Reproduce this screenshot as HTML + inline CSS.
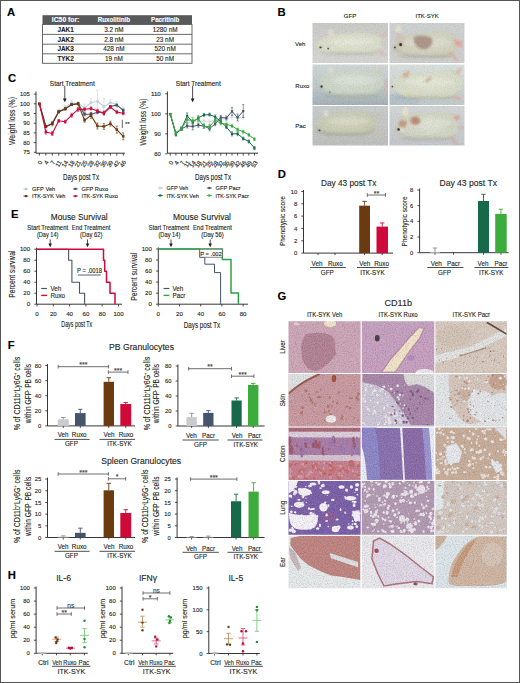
<!DOCTYPE html>
<html><head><meta charset="utf-8"><style>
html,body{margin:0;padding:0;background:#fff;}
svg{display:block;}
text{font-family:"Liberation Sans", sans-serif;stroke-width:0.12px;}
</style></head><body>
<svg width="520" height="683" viewBox="0 0 520 683">
<rect x="0" y="0" width="520" height="683" fill="#fff"/>
<text x="7.00" y="16.32" font-size="11.3" text-anchor="start" fill="#000" stroke="#000" font-weight="bold" >A</text>
<text x="277.60" y="16.17" font-size="11.3" text-anchor="start" fill="#000" stroke="#000" font-weight="bold" >B</text>
<text x="8.00" y="82.12" font-size="11.3" text-anchor="start" fill="#000" stroke="#000" font-weight="bold" >C</text>
<text x="277.70" y="178.32" font-size="11.3" text-anchor="start" fill="#000" stroke="#000" font-weight="bold" >D</text>
<text x="11.00" y="218.47" font-size="11.3" text-anchor="start" fill="#000" stroke="#000" font-weight="bold" >E</text>
<text x="7.80" y="348.87" font-size="11.3" text-anchor="start" fill="#000" stroke="#000" font-weight="bold" >F</text>
<text x="277.50" y="300.07" font-size="11.3" text-anchor="start" fill="#000" stroke="#000" font-weight="bold" >G</text>
<text x="7.80" y="579.47" font-size="11.3" text-anchor="start" fill="#000" stroke="#000" font-weight="bold" >H</text>
<rect x="42.50" y="15.20" width="149.50" height="9.30" fill="#58595b" />
<rect x="42.5" y="24.5" width="149.5" height="38.8" fill="#fff" stroke="#58595b" stroke-width="0.9"/>
<line x1="42.50" y1="34.40" x2="192.00" y2="34.40" stroke="#58595b" stroke-width="0.9" />
<line x1="42.50" y1="44.20" x2="192.00" y2="44.20" stroke="#58595b" stroke-width="0.9" />
<line x1="42.50" y1="53.80" x2="192.00" y2="53.80" stroke="#58595b" stroke-width="0.9" />
<text x="65.60" y="22.34" font-size="6.5" text-anchor="middle" fill="#fff" stroke="#fff" font-weight="bold" textLength="27.5" lengthAdjust="spacingAndGlyphs" >IC50 for:</text>
<text x="113.90" y="22.34" font-size="6.5" text-anchor="middle" fill="#fff" stroke="#fff" font-weight="bold" textLength="32.3" lengthAdjust="spacingAndGlyphs" >Ruxolitinib</text>
<text x="165.10" y="22.34" font-size="6.5" text-anchor="middle" fill="#fff" stroke="#fff" font-weight="bold" textLength="28.2" lengthAdjust="spacingAndGlyphs" >Pacritinib</text>
<text x="65.60" y="31.75" font-size="6.4" text-anchor="middle" fill="#231f20" stroke="#231f20" font-weight="bold" >JAK1</text>
<text x="113.90" y="31.75" font-size="6.4" text-anchor="middle" fill="#231f20" stroke="#231f20" >3.2 nM</text>
<text x="165.10" y="31.75" font-size="6.4" text-anchor="middle" fill="#231f20" stroke="#231f20" >1280 nM</text>
<text x="65.60" y="41.60" font-size="6.4" text-anchor="middle" fill="#231f20" stroke="#231f20" font-weight="bold" >JAK2</text>
<text x="113.90" y="41.60" font-size="6.4" text-anchor="middle" fill="#231f20" stroke="#231f20" >2.8 nM</text>
<text x="165.10" y="41.60" font-size="6.4" text-anchor="middle" fill="#231f20" stroke="#231f20" >23 nM</text>
<text x="65.60" y="51.30" font-size="6.4" text-anchor="middle" fill="#231f20" stroke="#231f20" font-weight="bold" >JAK3</text>
<text x="113.90" y="51.30" font-size="6.4" text-anchor="middle" fill="#231f20" stroke="#231f20" >428 nM</text>
<text x="165.10" y="51.30" font-size="6.4" text-anchor="middle" fill="#231f20" stroke="#231f20" >520 nM</text>
<text x="65.60" y="60.85" font-size="6.4" text-anchor="middle" fill="#231f20" stroke="#231f20" font-weight="bold" >TYK2</text>
<text x="113.90" y="60.85" font-size="6.4" text-anchor="middle" fill="#231f20" stroke="#231f20" >19 nM</text>
<text x="165.10" y="60.85" font-size="6.4" text-anchor="middle" fill="#231f20" stroke="#231f20" >50 nM</text>
<g id="mice">
<defs>
<filter id="mblur" x="-5%" y="-5%" width="110%" height="110%"><feGaussianBlur stdDeviation="6"/><feComponentTransfer><feFuncR type="linear" slope="0.92" intercept="0.1"/><feFuncG type="linear" slope="0.92" intercept="0.1"/><feFuncB type="linear" slope="0.92" intercept="0.1"/></feComponentTransfer></filter>
<linearGradient id="bg00" x1="0" y1="0" x2="0" y2="1"><stop offset="0" stop-color="#c0c0bc"/><stop offset="1" stop-color="#cfcfcb"/></linearGradient>
<linearGradient id="bg01" x1="0" y1="0" x2="0" y2="1"><stop offset="0" stop-color="#c4cac8"/><stop offset="1" stop-color="#c6c6c4"/></linearGradient>
<linearGradient id="bg10" x1="0" y1="0" x2="0" y2="1"><stop offset="0" stop-color="#ccd0d0"/><stop offset="0.5" stop-color="#b4c0c2"/><stop offset="1" stop-color="#8fa0a8"/></linearGradient>
<linearGradient id="bg11" x1="0" y1="0" x2="0" y2="1"><stop offset="0" stop-color="#d4dcd8"/><stop offset="1" stop-color="#b4bec2"/></linearGradient>
<linearGradient id="bg20" x1="0" y1="0" x2="0" y2="1"><stop offset="0" stop-color="#c0c4c4"/><stop offset="1" stop-color="#b0b4b0"/></linearGradient>
<linearGradient id="bg21" x1="0" y1="0" x2="0" y2="1"><stop offset="0" stop-color="#ccd0d0"/><stop offset="1" stop-color="#b8bcc0"/></linearGradient>
<radialGradient id="mb00" cx="0.5" cy="0.45" r="0.62"><stop offset="0" stop-color="#dadcc8"/><stop offset="0.8" stop-color="#d2d6c0"/><stop offset="1" stop-color="#bcc0ac"/></radialGradient>
<radialGradient id="mb01" cx="0.55" cy="0.4" r="0.62"><stop offset="0" stop-color="#d2d1ba"/><stop offset="0.8" stop-color="#c8c8b2"/><stop offset="1" stop-color="#b0b09c"/></radialGradient>
<radialGradient id="mb10" cx="0.5" cy="0.4" r="0.62"><stop offset="0" stop-color="#ccd4c6"/><stop offset="0.8" stop-color="#c2ccbe"/><stop offset="1" stop-color="#a8b4aa"/></radialGradient>
<radialGradient id="mb11" cx="0.5" cy="0.45" r="0.62"><stop offset="0" stop-color="#dadcc6"/><stop offset="0.8" stop-color="#d0d4be"/><stop offset="1" stop-color="#b8bcaa"/></radialGradient>
<radialGradient id="mb20" cx="0.5" cy="0.4" r="0.62"><stop offset="0" stop-color="#c8cbb0"/><stop offset="0.8" stop-color="#bec2a6"/><stop offset="1" stop-color="#a8ac94"/></radialGradient>
<radialGradient id="mb21" cx="0.55" cy="0.45" r="0.62"><stop offset="0" stop-color="#d2d6c2"/><stop offset="0.8" stop-color="#c8ccb8"/><stop offset="1" stop-color="#b0b4a4"/></radialGradient>
</defs>
<clipPath id="mc00"><rect x="312.5" y="23" width="75.5" height="40"/></clipPath>
<g clip-path="url(#mc00)"><g transform="translate(310,20) scale(0.153846)" filter="url(#mblur)">
<rect x="0" y="0" width="520" height="299" fill="url(#bg00)"/>
<path d="M30,175 C50,140 90,110 140,98 L300,85 L420,85 C455,95 470,130 468,160 C465,195 440,215 400,220 L300,225 L180,225 C120,220 70,205 30,175 Z" fill="url(#mb00)" />
<ellipse cx="272" cy="141" rx="149" ry="24" fill="#ffffff" opacity="0.18"/>
<ellipse cx="252" cy="217" rx="181" ry="11" fill="#7a7e6c" opacity="0.25"/>
<ellipse cx="135" cy="82" rx="16" ry="19" fill="#e6e2da" />
<ellipse cx="135" cy="84" rx="8" ry="11" fill="#dcc4bc" />
<path d="M450,100 L495,80 L500,95 L460,115 Z" fill="#d9aaa5" />
<path d="M450,190 L490,225 L478,235 L440,200 Z" fill="#d9aaa5" />
<path d="M460,140 L505,150 L505,160 L460,158 Z" fill="#c8c2c2" />
<ellipse cx="68" cy="178" rx="5" ry="4" fill="#222" />
<ellipse cx="120" cy="185" rx="6" ry="4" fill="#555" />
</g>
<rect x="312.5" y="23" width="75.5" height="40" filter="url(#hnoise)" opacity="0.08"/>
<rect x="312.5" y="23" width="75.5" height="40" filter="url(#hnoise2)" opacity="0.10"/>
<g transform="translate(310,20) scale(0.153846)">
<ellipse cx="68" cy="178" rx="7" ry="6" fill="#2a2420" opacity="0.85"/>
<ellipse cx="118" cy="186" rx="6" ry="5" fill="#4a4038" opacity="0.85"/>
</g></g>
<clipPath id="mc01"><rect x="389.5" y="23" width="75.0" height="40"/></clipPath>
<g clip-path="url(#mc01)"><g transform="translate(386,20) scale(0.153846)" filter="url(#mblur)">
<rect x="0" y="0" width="520" height="299" fill="url(#bg01)"/>
<path d="M40,190 C60,140 100,100 160,95 L300,80 L420,85 C460,100 475,140 470,170 C460,220 420,240 360,245 L200,240 C130,235 70,215 40,190 Z" fill="url(#mb01)" />
<ellipse cx="275" cy="146" rx="150" ry="29" fill="#ffffff" opacity="0.18"/>
<ellipse cx="255" cy="237" rx="183" ry="13" fill="#7a7e6c" opacity="0.25"/>
<path d="M180,110 C220,95 280,100 300,120 C310,150 290,180 260,190 C220,195 190,170 180,140 Z" fill="#a08272" />
<ellipse cx="90" cy="120" rx="30" ry="40" fill="#c8bcae" />
<path d="M62,75 C60,50 72,30 85,28 C95,40 98,60 95,85 Z" fill="#e4dac6" />
<ellipse cx="95" cy="160" rx="9" ry="10" fill="#3b2a22" />
<ellipse cx="60" cy="178" rx="6" ry="5" fill="#222" />
<path d="M440,120 L495,140 L500,175 L450,170 Z" fill="#d89c92" />
<path d="M420,200 L470,260 L455,270 L410,215 Z" fill="#d0a090" />
</g>
<rect x="389.5" y="23" width="75.0" height="40" filter="url(#hnoise)" opacity="0.08"/>
<rect x="389.5" y="23" width="75.0" height="40" filter="url(#hnoise2)" opacity="0.10"/>
<g transform="translate(386,20) scale(0.153846)">
<ellipse cx="95" cy="160" rx="9" ry="10" fill="#2a1e18" opacity="0.85"/>
<ellipse cx="58" cy="178" rx="6" ry="5" fill="#3a2a22" opacity="0.85"/>
</g></g>
<clipPath id="mc10"><rect x="312.5" y="64.5" width="75.5" height="40.5"/></clipPath>
<g clip-path="url(#mc10)"><g transform="translate(310,62) scale(0.153846)" filter="url(#mblur)">
<rect x="0" y="0" width="520" height="299" fill="url(#bg10)"/>
<path d="M60,170 C60,110 100,60 140,55 L300,55 L440,50 C475,60 485,120 480,170 C470,205 440,225 380,228 L200,225 C120,222 70,205 60,170 Z" fill="url(#mb10)" />
<ellipse cx="290" cy="121" rx="147" ry="31" fill="#ffffff" opacity="0.18"/>
<ellipse cx="270" cy="220" rx="178" ry="14" fill="#7a7e6c" opacity="0.25"/>
<ellipse cx="430" cy="50" rx="20" ry="12" fill="#d4ccb8" />
<ellipse cx="135" cy="55" rx="16" ry="18" fill="#e2e0d8" />
<ellipse cx="135" cy="57" rx="8" ry="10" fill="#d8c4bc" />
<ellipse cx="75" cy="160" rx="7" ry="6" fill="#222" />
<ellipse cx="130" cy="195" rx="5" ry="4" fill="#444" />
<path d="M480,110 L505,120 L505,210 L480,215 Z" fill="#c2b0b0" />
</g>
<rect x="312.5" y="64.5" width="75.5" height="40.5" filter="url(#hnoise)" opacity="0.08"/>
<rect x="312.5" y="64.5" width="75.5" height="40.5" filter="url(#hnoise2)" opacity="0.10"/>
<g transform="translate(310,62) scale(0.153846)">
<ellipse cx="75" cy="160" rx="8" ry="7" fill="#2a2420" opacity="0.85"/>
<ellipse cx="128" cy="195" rx="5" ry="4" fill="#4a4038" opacity="0.85"/>
</g></g>
<clipPath id="mc11"><rect x="389.5" y="64.5" width="75.0" height="40.5"/></clipPath>
<g clip-path="url(#mc11)"><g transform="translate(386,62) scale(0.153846)" filter="url(#mblur)">
<rect x="0" y="0" width="520" height="299" fill="url(#bg11)"/>
<ellipse cx="90" cy="255" rx="130" ry="50" fill="#a8b8c0" />
<path d="M30,155 C40,110 90,80 150,75 L300,60 L440,55 C480,70 495,110 495,150 C490,200 460,235 400,240 L200,235 C120,230 50,200 30,155 Z" fill="url(#mb11)" />
<ellipse cx="282" cy="128" rx="163" ry="32" fill="#ffffff" opacity="0.18"/>
<ellipse cx="262" cy="232" rx="198" ry="14" fill="#7a7e6c" opacity="0.25"/>
<path d="M105,100 L115,70 L140,55 L155,65 L140,100 Z" fill="#c8a888" />
<path d="M250,120 L290,95 L300,110 L265,135 Z" fill="#c0a888" />
<path d="M450,70 L480,35 L495,45 L470,85 Z" fill="#d8b0a0" />
<path d="M450,215 L490,235 L480,250 L440,230 Z" fill="#d8a090" />
<ellipse cx="40" cy="160" rx="5" ry="4" fill="#444" />
<ellipse cx="150" cy="220" rx="20" ry="12" fill="#c8c498" />
</g>
<rect x="389.5" y="64.5" width="75.0" height="40.5" filter="url(#hnoise)" opacity="0.08"/>
<rect x="389.5" y="64.5" width="75.0" height="40.5" filter="url(#hnoise2)" opacity="0.10"/>
<g transform="translate(386,62) scale(0.153846)">
<ellipse cx="42" cy="160" rx="6" ry="5" fill="#3a3430" opacity="0.85"/>
</g></g>
<clipPath id="mc20"><rect x="312.5" y="106" width="75.5" height="39.5"/></clipPath>
<g clip-path="url(#mc20)"><g transform="translate(310,103) scale(0.153846)" filter="url(#mblur)">
<rect x="0" y="0" width="520" height="299" fill="url(#bg20)"/>
<path d="M40,175 C50,120 80,80 120,70 L300,62 L400,70 C425,90 430,150 420,180 C400,200 360,208 300,210 L160,210 C100,205 50,195 40,175 Z" fill="url(#mb20)" />
<ellipse cx="252" cy="118" rx="135" ry="27" fill="#ffffff" opacity="0.18"/>
<ellipse cx="232" cy="202" rx="164" ry="12" fill="#7a7e6c" opacity="0.25"/>
<ellipse cx="104" cy="66" rx="14" ry="20" fill="#dedad0" />
<path d="M420,80 L460,65 L465,80 L425,100 Z" fill="#c8b8a8" />
<path d="M420,130 L500,130 L500,145 L420,145 Z" fill="#c9c0b8" />
<path d="M420,175 L460,210 L448,220 L410,190 Z" fill="#c8b4a4" />
<ellipse cx="60" cy="178" rx="6" ry="5" fill="#444" />
</g>
<rect x="312.5" y="106" width="75.5" height="39.5" filter="url(#hnoise)" opacity="0.08"/>
<rect x="312.5" y="106" width="75.5" height="39.5" filter="url(#hnoise2)" opacity="0.10"/>
<g transform="translate(310,103) scale(0.153846)">
<ellipse cx="62" cy="178" rx="6" ry="5" fill="#3a3430" opacity="0.85"/>
</g></g>
<clipPath id="mc21"><rect x="389.5" y="106" width="75.0" height="39.5"/></clipPath>
<g clip-path="url(#mc21)"><g transform="translate(386,103) scale(0.153846)" filter="url(#mblur)">
<rect x="0" y="0" width="520" height="299" fill="url(#bg21)"/>
<path d="M60,170 C70,110 100,70 150,65 L300,62 L420,65 C455,80 470,130 465,170 C455,215 420,240 360,240 L200,238 C120,230 70,210 60,170 Z" fill="url(#mb21)" />
<ellipse cx="282" cy="130" rx="142" ry="32" fill="#ffffff" opacity="0.18"/>
<ellipse cx="262" cy="232" rx="172" ry="14" fill="#7a7e6c" opacity="0.25"/>
<ellipse cx="110" cy="135" rx="28" ry="25" fill="#b88a68" />
<ellipse cx="190" cy="115" rx="38" ry="28" fill="#bc9070" />
<ellipse cx="150" cy="150" rx="20" ry="14" fill="#d6d2c2" />
<ellipse cx="100" cy="175" rx="18" ry="14" fill="#d8d6c8" />
<path d="M105,80 C100,50 110,28 128,22 C145,35 150,60 145,85 Z" fill="#e4dcc4" />
<path d="M170,95 L200,88 L212,135 L178,138 Z" fill="#a87050" />
<path d="M250,170 L330,130 L335,140 L255,180 Z" fill="#d8dcd0" />
<path d="M260,200 L340,160 L345,170 L265,210 Z" fill="#d8dcd0" />
<ellipse cx="80" cy="170" rx="6" ry="6" fill="#3a2a22" />
<ellipse cx="460" cy="95" rx="22" ry="15" fill="#cf9a85" />
<path d="M430,210 L465,265 L450,272 L415,225 Z" fill="#c8a090" />
<path d="M465,150 L505,150 L505,170 L465,172 Z" fill="#c8b0a8" />
</g>
<rect x="389.5" y="106" width="75.0" height="39.5" filter="url(#hnoise)" opacity="0.08"/>
<rect x="389.5" y="106" width="75.0" height="39.5" filter="url(#hnoise2)" opacity="0.10"/>
<g transform="translate(386,103) scale(0.153846)">
<ellipse cx="82" cy="172" rx="8" ry="8" fill="#2a2018" opacity="0.85"/>
</g></g>
</g>
<text x="350.00" y="18.46" font-size="6" text-anchor="middle" fill="#231f20" stroke="#231f20" >GFP</text>
<text x="427.20" y="18.46" font-size="6" text-anchor="middle" fill="#231f20" stroke="#231f20" >ITK-SYK</text>
<text x="295.00" y="45.86" font-size="6" text-anchor="start" fill="#231f20" stroke="#231f20" >Veh</text>
<text x="295.30" y="87.76" font-size="6" text-anchor="start" fill="#231f20" stroke="#231f20" >Ruxo</text>
<text x="295.30" y="128.16" font-size="6" text-anchor="start" fill="#231f20" stroke="#231f20" >Pac</text>
<line x1="36.00" y1="91.50" x2="36.00" y2="153.20" stroke="#231f20" stroke-width="0.9" />
<line x1="36.00" y1="153.20" x2="125.00" y2="153.20" stroke="#231f20" stroke-width="0.9" />
<line x1="33.80" y1="152.30" x2="36.00" y2="152.30" stroke="#231f20" stroke-width="0.8" />
<text x="29.90" y="154.42" font-size="5.9" text-anchor="end" fill="#231f20" stroke="#231f20" textLength="6.54" lengthAdjust="spacingAndGlyphs" >75</text>
<line x1="33.80" y1="142.60" x2="36.00" y2="142.60" stroke="#231f20" stroke-width="0.8" />
<text x="29.90" y="144.72" font-size="5.9" text-anchor="end" fill="#231f20" stroke="#231f20" textLength="6.54" lengthAdjust="spacingAndGlyphs" >80</text>
<line x1="33.80" y1="132.90" x2="36.00" y2="132.90" stroke="#231f20" stroke-width="0.8" />
<text x="29.90" y="135.02" font-size="5.9" text-anchor="end" fill="#231f20" stroke="#231f20" textLength="6.54" lengthAdjust="spacingAndGlyphs" >85</text>
<line x1="33.80" y1="123.20" x2="36.00" y2="123.20" stroke="#231f20" stroke-width="0.8" />
<text x="29.90" y="125.32" font-size="5.9" text-anchor="end" fill="#231f20" stroke="#231f20" textLength="6.54" lengthAdjust="spacingAndGlyphs" >90</text>
<line x1="33.80" y1="113.50" x2="36.00" y2="113.50" stroke="#231f20" stroke-width="0.8" />
<text x="29.90" y="115.62" font-size="5.9" text-anchor="end" fill="#231f20" stroke="#231f20" textLength="6.54" lengthAdjust="spacingAndGlyphs" >95</text>
<line x1="33.80" y1="103.80" x2="36.00" y2="103.80" stroke="#231f20" stroke-width="0.8" />
<text x="29.90" y="105.92" font-size="5.9" text-anchor="end" fill="#231f20" stroke="#231f20" textLength="9.81" lengthAdjust="spacingAndGlyphs" >100</text>
<line x1="33.80" y1="94.10" x2="36.00" y2="94.10" stroke="#231f20" stroke-width="0.8" />
<text x="29.90" y="96.22" font-size="5.9" text-anchor="end" fill="#231f20" stroke="#231f20" textLength="9.81" lengthAdjust="spacingAndGlyphs" >105</text>
<line x1="39.40" y1="153.20" x2="39.40" y2="155.60" stroke="#231f20" stroke-width="0.8" />
<line x1="45.85" y1="153.20" x2="45.85" y2="155.60" stroke="#231f20" stroke-width="0.8" />
<line x1="52.30" y1="153.20" x2="52.30" y2="155.60" stroke="#231f20" stroke-width="0.8" />
<line x1="58.75" y1="153.20" x2="58.75" y2="155.60" stroke="#231f20" stroke-width="0.8" />
<line x1="65.20" y1="153.20" x2="65.20" y2="155.60" stroke="#231f20" stroke-width="0.8" />
<line x1="71.65" y1="153.20" x2="71.65" y2="155.60" stroke="#231f20" stroke-width="0.8" />
<line x1="78.10" y1="153.20" x2="78.10" y2="155.60" stroke="#231f20" stroke-width="0.8" />
<line x1="84.55" y1="153.20" x2="84.55" y2="155.60" stroke="#231f20" stroke-width="0.8" />
<line x1="91.00" y1="153.20" x2="91.00" y2="155.60" stroke="#231f20" stroke-width="0.8" />
<line x1="97.45" y1="153.20" x2="97.45" y2="155.60" stroke="#231f20" stroke-width="0.8" />
<line x1="103.90" y1="153.20" x2="103.90" y2="155.60" stroke="#231f20" stroke-width="0.8" />
<line x1="110.35" y1="153.20" x2="110.35" y2="155.60" stroke="#231f20" stroke-width="0.8" />
<line x1="116.80" y1="153.20" x2="116.80" y2="155.60" stroke="#231f20" stroke-width="0.8" />
<line x1="123.25" y1="153.20" x2="123.25" y2="155.60" stroke="#231f20" stroke-width="0.8" />
<text transform="translate(40.70,160.9) rotate(-60)" x="0" y="2.2" font-size="6.1" text-anchor="end" fill="#231f20" stroke="#231f20">0</text>
<text transform="translate(47.15,160.9) rotate(-60)" x="0" y="2.2" font-size="6.1" text-anchor="end" fill="#231f20" stroke="#231f20">4</text>
<text transform="translate(53.60,160.9) rotate(-60)" x="0" y="2.2" font-size="6.1" text-anchor="end" fill="#231f20" stroke="#231f20">7</text>
<text transform="translate(60.05,160.9) rotate(-60)" x="0" y="2.2" font-size="6.1" text-anchor="end" fill="#231f20" stroke="#231f20">11</text>
<text transform="translate(66.50,160.9) rotate(-60)" x="0" y="2.2" font-size="6.1" text-anchor="end" fill="#231f20" stroke="#231f20">14</text>
<text transform="translate(72.95,160.9) rotate(-60)" x="0" y="2.2" font-size="6.1" text-anchor="end" fill="#231f20" stroke="#231f20">18</text>
<text transform="translate(79.40,160.9) rotate(-60)" x="0" y="2.2" font-size="6.1" text-anchor="end" fill="#231f20" stroke="#231f20">21</text>
<text transform="translate(85.85,160.9) rotate(-60)" x="0" y="2.2" font-size="6.1" text-anchor="end" fill="#231f20" stroke="#231f20">25</text>
<text transform="translate(92.30,160.9) rotate(-60)" x="0" y="2.2" font-size="6.1" text-anchor="end" fill="#231f20" stroke="#231f20">28</text>
<text transform="translate(98.75,160.9) rotate(-60)" x="0" y="2.2" font-size="6.1" text-anchor="end" fill="#231f20" stroke="#231f20">32</text>
<text transform="translate(105.20,160.9) rotate(-60)" x="0" y="2.2" font-size="6.1" text-anchor="end" fill="#231f20" stroke="#231f20">35</text>
<text transform="translate(111.65,160.9) rotate(-60)" x="0" y="2.2" font-size="6.1" text-anchor="end" fill="#231f20" stroke="#231f20">39</text>
<text transform="translate(118.10,160.9) rotate(-60)" x="0" y="2.2" font-size="6.1" text-anchor="end" fill="#231f20" stroke="#231f20">42</text>
<text transform="translate(124.55,160.9) rotate(-60)" x="0" y="2.2" font-size="6.1" text-anchor="end" fill="#231f20" stroke="#231f20">46</text>
<text transform="translate(11.60,121.00) rotate(-90)" x="0" y="2.95" font-size="8.2" text-anchor="middle" fill="#231f20" stroke="#231f20" textLength="48" lengthAdjust="spacingAndGlyphs" >Weight loss (%)</text>
<text x="81.00" y="180.15" font-size="8.2" text-anchor="middle" fill="#231f20" stroke="#231f20" textLength="36" lengthAdjust="spacingAndGlyphs" >Days post Tx</text>
<text x="72.30" y="85.50" font-size="6.4" text-anchor="middle" fill="#231f20" stroke="#231f20" textLength="45" lengthAdjust="spacingAndGlyphs" >Start Treatment</text>
<line x1="64.80" y1="85.80" x2="64.80" y2="101.00" stroke="#231f20" stroke-width="0.8" />
<path d="M62.9,98.6 L64.8,102.3 L66.7,98.6 Z" fill="#231f20"/>
<line x1="45.85" y1="124.50" x2="45.85" y2="127.50" stroke="#c3d0da" stroke-width="0.6" />
<line x1="44.75" y1="124.50" x2="46.95" y2="124.50" stroke="#c3d0da" stroke-width="0.6" />
<line x1="44.75" y1="127.50" x2="46.95" y2="127.50" stroke="#c3d0da" stroke-width="0.6" />
<line x1="52.30" y1="121.00" x2="52.30" y2="124.00" stroke="#c3d0da" stroke-width="0.6" />
<line x1="51.20" y1="121.00" x2="53.40" y2="121.00" stroke="#c3d0da" stroke-width="0.6" />
<line x1="51.20" y1="124.00" x2="53.40" y2="124.00" stroke="#c3d0da" stroke-width="0.6" />
<line x1="58.75" y1="109.50" x2="58.75" y2="112.50" stroke="#c3d0da" stroke-width="0.6" />
<line x1="57.65" y1="109.50" x2="59.85" y2="109.50" stroke="#c3d0da" stroke-width="0.6" />
<line x1="57.65" y1="112.50" x2="59.85" y2="112.50" stroke="#c3d0da" stroke-width="0.6" />
<line x1="65.20" y1="105.50" x2="65.20" y2="109.50" stroke="#c3d0da" stroke-width="0.6" />
<line x1="64.10" y1="105.50" x2="66.30" y2="105.50" stroke="#c3d0da" stroke-width="0.6" />
<line x1="64.10" y1="109.50" x2="66.30" y2="109.50" stroke="#c3d0da" stroke-width="0.6" />
<line x1="71.65" y1="100.20" x2="71.65" y2="105.20" stroke="#c3d0da" stroke-width="0.6" />
<line x1="70.55" y1="100.20" x2="72.75" y2="100.20" stroke="#c3d0da" stroke-width="0.6" />
<line x1="70.55" y1="105.20" x2="72.75" y2="105.20" stroke="#c3d0da" stroke-width="0.6" />
<line x1="78.10" y1="101.50" x2="78.10" y2="105.50" stroke="#c3d0da" stroke-width="0.6" />
<line x1="77.00" y1="101.50" x2="79.20" y2="101.50" stroke="#c3d0da" stroke-width="0.6" />
<line x1="77.00" y1="105.50" x2="79.20" y2="105.50" stroke="#c3d0da" stroke-width="0.6" />
<line x1="84.55" y1="104.00" x2="84.55" y2="112.00" stroke="#c3d0da" stroke-width="0.6" />
<line x1="83.45" y1="104.00" x2="85.65" y2="104.00" stroke="#c3d0da" stroke-width="0.6" />
<line x1="83.45" y1="112.00" x2="85.65" y2="112.00" stroke="#c3d0da" stroke-width="0.6" />
<line x1="91.00" y1="98.70" x2="91.00" y2="106.70" stroke="#c3d0da" stroke-width="0.6" />
<line x1="89.90" y1="98.70" x2="92.10" y2="98.70" stroke="#c3d0da" stroke-width="0.6" />
<line x1="89.90" y1="106.70" x2="92.10" y2="106.70" stroke="#c3d0da" stroke-width="0.6" />
<line x1="97.45" y1="90.30" x2="97.45" y2="112.30" stroke="#c3d0da" stroke-width="0.6" />
<line x1="96.35" y1="90.30" x2="98.55" y2="90.30" stroke="#c3d0da" stroke-width="0.6" />
<line x1="96.35" y1="112.30" x2="98.55" y2="112.30" stroke="#c3d0da" stroke-width="0.6" />
<line x1="103.90" y1="98.50" x2="103.90" y2="114.50" stroke="#c3d0da" stroke-width="0.6" />
<line x1="102.80" y1="98.50" x2="105.00" y2="98.50" stroke="#c3d0da" stroke-width="0.6" />
<line x1="102.80" y1="114.50" x2="105.00" y2="114.50" stroke="#c3d0da" stroke-width="0.6" />
<line x1="110.35" y1="99.70" x2="110.35" y2="105.70" stroke="#c3d0da" stroke-width="0.6" />
<line x1="109.25" y1="99.70" x2="111.45" y2="99.70" stroke="#c3d0da" stroke-width="0.6" />
<line x1="109.25" y1="105.70" x2="111.45" y2="105.70" stroke="#c3d0da" stroke-width="0.6" />
<line x1="116.80" y1="101.60" x2="116.80" y2="107.60" stroke="#c3d0da" stroke-width="0.6" />
<line x1="115.70" y1="101.60" x2="117.90" y2="101.60" stroke="#c3d0da" stroke-width="0.6" />
<line x1="115.70" y1="107.60" x2="117.90" y2="107.60" stroke="#c3d0da" stroke-width="0.6" />
<line x1="123.25" y1="106.90" x2="123.25" y2="112.90" stroke="#c3d0da" stroke-width="0.6" />
<line x1="122.15" y1="106.90" x2="124.35" y2="106.90" stroke="#c3d0da" stroke-width="0.6" />
<line x1="122.15" y1="112.90" x2="124.35" y2="112.90" stroke="#c3d0da" stroke-width="0.6" />
<polyline points="39.40,103.90 45.85,126.00 52.30,122.50 58.75,111.00 65.20,107.50 71.65,102.70 78.10,103.50 84.55,108.00 91.00,102.70 97.45,101.30 103.90,106.50 110.35,102.70 116.80,104.60 123.25,109.90" stroke="#c3d0da" stroke-width="1.1" fill="none" stroke-linejoin="round" />
<rect x="38.15" y="102.65" width="2.50" height="2.50" fill="#c3d0da" />
<rect x="44.60" y="124.75" width="2.50" height="2.50" fill="#c3d0da" />
<rect x="51.05" y="121.25" width="2.50" height="2.50" fill="#c3d0da" />
<rect x="57.50" y="109.75" width="2.50" height="2.50" fill="#c3d0da" />
<rect x="63.95" y="106.25" width="2.50" height="2.50" fill="#c3d0da" />
<rect x="70.40" y="101.45" width="2.50" height="2.50" fill="#c3d0da" />
<rect x="76.85" y="102.25" width="2.50" height="2.50" fill="#c3d0da" />
<rect x="83.30" y="106.75" width="2.50" height="2.50" fill="#c3d0da" />
<rect x="89.75" y="101.45" width="2.50" height="2.50" fill="#c3d0da" />
<rect x="96.20" y="100.05" width="2.50" height="2.50" fill="#c3d0da" />
<rect x="102.65" y="105.25" width="2.50" height="2.50" fill="#c3d0da" />
<rect x="109.10" y="101.45" width="2.50" height="2.50" fill="#c3d0da" />
<rect x="115.55" y="103.35" width="2.50" height="2.50" fill="#c3d0da" />
<rect x="122.00" y="108.65" width="2.50" height="2.50" fill="#c3d0da" />
<line x1="45.85" y1="125.70" x2="45.85" y2="127.70" stroke="#44546b" stroke-width="0.6" />
<line x1="44.75" y1="125.70" x2="46.95" y2="125.70" stroke="#44546b" stroke-width="0.6" />
<line x1="44.75" y1="127.70" x2="46.95" y2="127.70" stroke="#44546b" stroke-width="0.6" />
<line x1="52.30" y1="122.50" x2="52.30" y2="124.50" stroke="#44546b" stroke-width="0.6" />
<line x1="51.20" y1="122.50" x2="53.40" y2="122.50" stroke="#44546b" stroke-width="0.6" />
<line x1="51.20" y1="124.50" x2="53.40" y2="124.50" stroke="#44546b" stroke-width="0.6" />
<line x1="58.75" y1="110.80" x2="58.75" y2="112.80" stroke="#44546b" stroke-width="0.6" />
<line x1="57.65" y1="110.80" x2="59.85" y2="110.80" stroke="#44546b" stroke-width="0.6" />
<line x1="57.65" y1="112.80" x2="59.85" y2="112.80" stroke="#44546b" stroke-width="0.6" />
<line x1="65.20" y1="107.90" x2="65.20" y2="109.90" stroke="#44546b" stroke-width="0.6" />
<line x1="64.10" y1="107.90" x2="66.30" y2="107.90" stroke="#44546b" stroke-width="0.6" />
<line x1="64.10" y1="109.90" x2="66.30" y2="109.90" stroke="#44546b" stroke-width="0.6" />
<line x1="71.65" y1="103.60" x2="71.65" y2="105.60" stroke="#44546b" stroke-width="0.6" />
<line x1="70.55" y1="103.60" x2="72.75" y2="103.60" stroke="#44546b" stroke-width="0.6" />
<line x1="70.55" y1="105.60" x2="72.75" y2="105.60" stroke="#44546b" stroke-width="0.6" />
<line x1="78.10" y1="102.70" x2="78.10" y2="104.70" stroke="#44546b" stroke-width="0.6" />
<line x1="77.00" y1="102.70" x2="79.20" y2="102.70" stroke="#44546b" stroke-width="0.6" />
<line x1="77.00" y1="104.70" x2="79.20" y2="104.70" stroke="#44546b" stroke-width="0.6" />
<line x1="84.55" y1="112.70" x2="84.55" y2="115.70" stroke="#44546b" stroke-width="0.6" />
<line x1="83.45" y1="112.70" x2="85.65" y2="112.70" stroke="#44546b" stroke-width="0.6" />
<line x1="83.45" y1="115.70" x2="85.65" y2="115.70" stroke="#44546b" stroke-width="0.6" />
<line x1="91.00" y1="112.70" x2="91.00" y2="115.70" stroke="#44546b" stroke-width="0.6" />
<line x1="89.90" y1="112.70" x2="92.10" y2="112.70" stroke="#44546b" stroke-width="0.6" />
<line x1="89.90" y1="115.70" x2="92.10" y2="115.70" stroke="#44546b" stroke-width="0.6" />
<line x1="97.45" y1="110.80" x2="97.45" y2="113.80" stroke="#44546b" stroke-width="0.6" />
<line x1="96.35" y1="110.80" x2="98.55" y2="110.80" stroke="#44546b" stroke-width="0.6" />
<line x1="96.35" y1="113.80" x2="98.55" y2="113.80" stroke="#44546b" stroke-width="0.6" />
<line x1="103.90" y1="111.50" x2="103.90" y2="114.50" stroke="#44546b" stroke-width="0.6" />
<line x1="102.80" y1="111.50" x2="105.00" y2="111.50" stroke="#44546b" stroke-width="0.6" />
<line x1="102.80" y1="114.50" x2="105.00" y2="114.50" stroke="#44546b" stroke-width="0.6" />
<line x1="110.35" y1="105.50" x2="110.35" y2="107.50" stroke="#44546b" stroke-width="0.6" />
<line x1="109.25" y1="105.50" x2="111.45" y2="105.50" stroke="#44546b" stroke-width="0.6" />
<line x1="109.25" y1="107.50" x2="111.45" y2="107.50" stroke="#44546b" stroke-width="0.6" />
<line x1="116.80" y1="104.10" x2="116.80" y2="106.10" stroke="#44546b" stroke-width="0.6" />
<line x1="115.70" y1="104.10" x2="117.90" y2="104.10" stroke="#44546b" stroke-width="0.6" />
<line x1="115.70" y1="106.10" x2="117.90" y2="106.10" stroke="#44546b" stroke-width="0.6" />
<line x1="123.25" y1="108.90" x2="123.25" y2="111.90" stroke="#44546b" stroke-width="0.6" />
<line x1="122.15" y1="108.90" x2="124.35" y2="108.90" stroke="#44546b" stroke-width="0.6" />
<line x1="122.15" y1="111.90" x2="124.35" y2="111.90" stroke="#44546b" stroke-width="0.6" />
<polyline points="39.40,103.90 45.85,126.70 52.30,123.50 58.75,111.80 65.20,108.90 71.65,104.60 78.10,103.70 84.55,114.20 91.00,114.20 97.45,112.30 103.90,113.00 110.35,106.50 116.80,105.10 123.25,110.40" stroke="#44546b" stroke-width="1.1" fill="none" stroke-linejoin="round" />
<rect x="38.15" y="102.65" width="2.50" height="2.50" fill="#44546b" />
<rect x="44.60" y="125.45" width="2.50" height="2.50" fill="#44546b" />
<rect x="51.05" y="122.25" width="2.50" height="2.50" fill="#44546b" />
<rect x="57.50" y="110.55" width="2.50" height="2.50" fill="#44546b" />
<rect x="63.95" y="107.65" width="2.50" height="2.50" fill="#44546b" />
<rect x="70.40" y="103.35" width="2.50" height="2.50" fill="#44546b" />
<rect x="76.85" y="102.45" width="2.50" height="2.50" fill="#44546b" />
<rect x="83.30" y="112.95" width="2.50" height="2.50" fill="#44546b" />
<rect x="89.75" y="112.95" width="2.50" height="2.50" fill="#44546b" />
<rect x="96.20" y="111.05" width="2.50" height="2.50" fill="#44546b" />
<rect x="102.65" y="111.75" width="2.50" height="2.50" fill="#44546b" />
<rect x="109.10" y="105.25" width="2.50" height="2.50" fill="#44546b" />
<rect x="115.55" y="103.85" width="2.50" height="2.50" fill="#44546b" />
<rect x="122.00" y="109.15" width="2.50" height="2.50" fill="#44546b" />
<line x1="45.85" y1="125.70" x2="45.85" y2="127.70" stroke="#6a3b10" stroke-width="0.6" />
<line x1="44.75" y1="125.70" x2="46.95" y2="125.70" stroke="#6a3b10" stroke-width="0.6" />
<line x1="44.75" y1="127.70" x2="46.95" y2="127.70" stroke="#6a3b10" stroke-width="0.6" />
<line x1="52.30" y1="121.80" x2="52.30" y2="125.80" stroke="#6a3b10" stroke-width="0.6" />
<line x1="51.20" y1="121.80" x2="53.40" y2="121.80" stroke="#6a3b10" stroke-width="0.6" />
<line x1="51.20" y1="125.80" x2="53.40" y2="125.80" stroke="#6a3b10" stroke-width="0.6" />
<line x1="58.75" y1="110.80" x2="58.75" y2="112.80" stroke="#6a3b10" stroke-width="0.6" />
<line x1="57.65" y1="110.80" x2="59.85" y2="110.80" stroke="#6a3b10" stroke-width="0.6" />
<line x1="57.65" y1="112.80" x2="59.85" y2="112.80" stroke="#6a3b10" stroke-width="0.6" />
<line x1="65.20" y1="107.90" x2="65.20" y2="109.90" stroke="#6a3b10" stroke-width="0.6" />
<line x1="64.10" y1="107.90" x2="66.30" y2="107.90" stroke="#6a3b10" stroke-width="0.6" />
<line x1="64.10" y1="109.90" x2="66.30" y2="109.90" stroke="#6a3b10" stroke-width="0.6" />
<line x1="71.65" y1="103.60" x2="71.65" y2="105.60" stroke="#6a3b10" stroke-width="0.6" />
<line x1="70.55" y1="103.60" x2="72.75" y2="103.60" stroke="#6a3b10" stroke-width="0.6" />
<line x1="70.55" y1="105.60" x2="72.75" y2="105.60" stroke="#6a3b10" stroke-width="0.6" />
<line x1="78.10" y1="102.70" x2="78.10" y2="104.70" stroke="#6a3b10" stroke-width="0.6" />
<line x1="77.00" y1="102.70" x2="79.20" y2="102.70" stroke="#6a3b10" stroke-width="0.6" />
<line x1="77.00" y1="104.70" x2="79.20" y2="104.70" stroke="#6a3b10" stroke-width="0.6" />
<line x1="84.55" y1="118.20" x2="84.55" y2="122.20" stroke="#6a3b10" stroke-width="0.6" />
<line x1="83.45" y1="118.20" x2="85.65" y2="118.20" stroke="#6a3b10" stroke-width="0.6" />
<line x1="83.45" y1="122.20" x2="85.65" y2="122.20" stroke="#6a3b10" stroke-width="0.6" />
<line x1="91.00" y1="112.40" x2="91.00" y2="118.40" stroke="#6a3b10" stroke-width="0.6" />
<line x1="89.90" y1="112.40" x2="92.10" y2="112.40" stroke="#6a3b10" stroke-width="0.6" />
<line x1="89.90" y1="118.40" x2="92.10" y2="118.40" stroke="#6a3b10" stroke-width="0.6" />
<line x1="97.45" y1="123.00" x2="97.45" y2="129.00" stroke="#6a3b10" stroke-width="0.6" />
<line x1="96.35" y1="123.00" x2="98.55" y2="123.00" stroke="#6a3b10" stroke-width="0.6" />
<line x1="96.35" y1="129.00" x2="98.55" y2="129.00" stroke="#6a3b10" stroke-width="0.6" />
<line x1="103.90" y1="123.40" x2="103.90" y2="129.40" stroke="#6a3b10" stroke-width="0.6" />
<line x1="102.80" y1="123.40" x2="105.00" y2="123.40" stroke="#6a3b10" stroke-width="0.6" />
<line x1="102.80" y1="129.40" x2="105.00" y2="129.40" stroke="#6a3b10" stroke-width="0.6" />
<line x1="110.35" y1="121.20" x2="110.35" y2="126.20" stroke="#6a3b10" stroke-width="0.6" />
<line x1="109.25" y1="121.20" x2="111.45" y2="121.20" stroke="#6a3b10" stroke-width="0.6" />
<line x1="109.25" y1="126.20" x2="111.45" y2="126.20" stroke="#6a3b10" stroke-width="0.6" />
<line x1="116.80" y1="126.10" x2="116.80" y2="133.10" stroke="#6a3b10" stroke-width="0.6" />
<line x1="115.70" y1="126.10" x2="117.90" y2="126.10" stroke="#6a3b10" stroke-width="0.6" />
<line x1="115.70" y1="133.10" x2="117.90" y2="133.10" stroke="#6a3b10" stroke-width="0.6" />
<line x1="123.25" y1="132.80" x2="123.25" y2="139.80" stroke="#6a3b10" stroke-width="0.6" />
<line x1="122.15" y1="132.80" x2="124.35" y2="132.80" stroke="#6a3b10" stroke-width="0.6" />
<line x1="122.15" y1="139.80" x2="124.35" y2="139.80" stroke="#6a3b10" stroke-width="0.6" />
<polyline points="39.40,103.90 45.85,126.70 52.30,123.80 58.75,111.80 65.20,108.90 71.65,104.60 78.10,103.70 84.55,120.20 91.00,115.40 97.45,126.00 103.90,126.40 110.35,123.70 116.80,129.60 123.25,136.30" stroke="#6a3b10" stroke-width="1.1" fill="none" stroke-linejoin="round" />
<rect x="38.15" y="102.65" width="2.50" height="2.50" fill="#6a3b10" />
<rect x="44.60" y="125.45" width="2.50" height="2.50" fill="#6a3b10" />
<rect x="51.05" y="122.55" width="2.50" height="2.50" fill="#6a3b10" />
<rect x="57.50" y="110.55" width="2.50" height="2.50" fill="#6a3b10" />
<rect x="63.95" y="107.65" width="2.50" height="2.50" fill="#6a3b10" />
<rect x="70.40" y="103.35" width="2.50" height="2.50" fill="#6a3b10" />
<rect x="76.85" y="102.45" width="2.50" height="2.50" fill="#6a3b10" />
<rect x="83.30" y="118.95" width="2.50" height="2.50" fill="#6a3b10" />
<rect x="89.75" y="114.15" width="2.50" height="2.50" fill="#6a3b10" />
<rect x="96.20" y="124.75" width="2.50" height="2.50" fill="#6a3b10" />
<rect x="102.65" y="125.15" width="2.50" height="2.50" fill="#6a3b10" />
<rect x="109.10" y="122.45" width="2.50" height="2.50" fill="#6a3b10" />
<rect x="115.55" y="128.35" width="2.50" height="2.50" fill="#6a3b10" />
<rect x="122.00" y="135.05" width="2.50" height="2.50" fill="#6a3b10" />
<line x1="45.85" y1="130.00" x2="45.85" y2="134.00" stroke="#cf0a3a" stroke-width="0.6" />
<line x1="44.75" y1="130.00" x2="46.95" y2="130.00" stroke="#cf0a3a" stroke-width="0.6" />
<line x1="44.75" y1="134.00" x2="46.95" y2="134.00" stroke="#cf0a3a" stroke-width="0.6" />
<line x1="52.30" y1="131.50" x2="52.30" y2="135.50" stroke="#cf0a3a" stroke-width="0.6" />
<line x1="51.20" y1="131.50" x2="53.40" y2="131.50" stroke="#cf0a3a" stroke-width="0.6" />
<line x1="51.20" y1="135.50" x2="53.40" y2="135.50" stroke="#cf0a3a" stroke-width="0.6" />
<line x1="58.75" y1="119.30" x2="58.75" y2="122.30" stroke="#cf0a3a" stroke-width="0.6" />
<line x1="57.65" y1="119.30" x2="59.85" y2="119.30" stroke="#cf0a3a" stroke-width="0.6" />
<line x1="57.65" y1="122.30" x2="59.85" y2="122.30" stroke="#cf0a3a" stroke-width="0.6" />
<line x1="65.20" y1="120.20" x2="65.20" y2="123.20" stroke="#cf0a3a" stroke-width="0.6" />
<line x1="64.10" y1="120.20" x2="66.30" y2="120.20" stroke="#cf0a3a" stroke-width="0.6" />
<line x1="64.10" y1="123.20" x2="66.30" y2="123.20" stroke="#cf0a3a" stroke-width="0.6" />
<line x1="71.65" y1="113.20" x2="71.65" y2="117.20" stroke="#cf0a3a" stroke-width="0.6" />
<line x1="70.55" y1="113.20" x2="72.75" y2="113.20" stroke="#cf0a3a" stroke-width="0.6" />
<line x1="70.55" y1="117.20" x2="72.75" y2="117.20" stroke="#cf0a3a" stroke-width="0.6" />
<line x1="78.10" y1="107.40" x2="78.10" y2="111.40" stroke="#cf0a3a" stroke-width="0.6" />
<line x1="77.00" y1="107.40" x2="79.20" y2="107.40" stroke="#cf0a3a" stroke-width="0.6" />
<line x1="77.00" y1="111.40" x2="79.20" y2="111.40" stroke="#cf0a3a" stroke-width="0.6" />
<line x1="84.55" y1="107.90" x2="84.55" y2="110.90" stroke="#cf0a3a" stroke-width="0.6" />
<line x1="83.45" y1="107.90" x2="85.65" y2="107.90" stroke="#cf0a3a" stroke-width="0.6" />
<line x1="83.45" y1="110.90" x2="85.65" y2="110.90" stroke="#cf0a3a" stroke-width="0.6" />
<line x1="91.00" y1="107.00" x2="91.00" y2="110.00" stroke="#cf0a3a" stroke-width="0.6" />
<line x1="89.90" y1="107.00" x2="92.10" y2="107.00" stroke="#cf0a3a" stroke-width="0.6" />
<line x1="89.90" y1="110.00" x2="92.10" y2="110.00" stroke="#cf0a3a" stroke-width="0.6" />
<line x1="97.45" y1="109.40" x2="97.45" y2="112.40" stroke="#cf0a3a" stroke-width="0.6" />
<line x1="96.35" y1="109.40" x2="98.55" y2="109.40" stroke="#cf0a3a" stroke-width="0.6" />
<line x1="96.35" y1="112.40" x2="98.55" y2="112.40" stroke="#cf0a3a" stroke-width="0.6" />
<line x1="103.90" y1="111.10" x2="103.90" y2="115.10" stroke="#cf0a3a" stroke-width="0.6" />
<line x1="102.80" y1="111.10" x2="105.00" y2="111.10" stroke="#cf0a3a" stroke-width="0.6" />
<line x1="102.80" y1="115.10" x2="105.00" y2="115.10" stroke="#cf0a3a" stroke-width="0.6" />
<line x1="110.35" y1="105.50" x2="110.35" y2="108.50" stroke="#cf0a3a" stroke-width="0.6" />
<line x1="109.25" y1="105.50" x2="111.45" y2="105.50" stroke="#cf0a3a" stroke-width="0.6" />
<line x1="109.25" y1="108.50" x2="111.45" y2="108.50" stroke="#cf0a3a" stroke-width="0.6" />
<line x1="116.80" y1="110.60" x2="116.80" y2="113.60" stroke="#cf0a3a" stroke-width="0.6" />
<line x1="115.70" y1="110.60" x2="117.90" y2="110.60" stroke="#cf0a3a" stroke-width="0.6" />
<line x1="115.70" y1="113.60" x2="117.90" y2="113.60" stroke="#cf0a3a" stroke-width="0.6" />
<line x1="123.25" y1="111.80" x2="123.25" y2="114.80" stroke="#cf0a3a" stroke-width="0.6" />
<line x1="122.15" y1="111.80" x2="124.35" y2="111.80" stroke="#cf0a3a" stroke-width="0.6" />
<line x1="122.15" y1="114.80" x2="124.35" y2="114.80" stroke="#cf0a3a" stroke-width="0.6" />
<polyline points="39.40,103.90 45.85,132.00 52.30,133.50 58.75,120.80 65.20,121.70 71.65,115.20 78.10,109.40 84.55,109.40 91.00,108.50 97.45,110.90 103.90,113.10 110.35,107.00 116.80,112.10 123.25,113.30" stroke="#cf0a3a" stroke-width="1.1" fill="none" stroke-linejoin="round" />
<rect x="38.15" y="102.65" width="2.50" height="2.50" fill="#cf0a3a" />
<rect x="44.60" y="130.75" width="2.50" height="2.50" fill="#cf0a3a" />
<rect x="51.05" y="132.25" width="2.50" height="2.50" fill="#cf0a3a" />
<rect x="57.50" y="119.55" width="2.50" height="2.50" fill="#cf0a3a" />
<rect x="63.95" y="120.45" width="2.50" height="2.50" fill="#cf0a3a" />
<rect x="70.40" y="113.95" width="2.50" height="2.50" fill="#cf0a3a" />
<rect x="76.85" y="108.15" width="2.50" height="2.50" fill="#cf0a3a" />
<rect x="83.30" y="108.15" width="2.50" height="2.50" fill="#cf0a3a" />
<rect x="89.75" y="107.25" width="2.50" height="2.50" fill="#cf0a3a" />
<rect x="96.20" y="109.65" width="2.50" height="2.50" fill="#cf0a3a" />
<rect x="102.65" y="111.85" width="2.50" height="2.50" fill="#cf0a3a" />
<rect x="109.10" y="105.75" width="2.50" height="2.50" fill="#cf0a3a" />
<rect x="115.55" y="110.85" width="2.50" height="2.50" fill="#cf0a3a" />
<rect x="122.00" y="112.05" width="2.50" height="2.50" fill="#cf0a3a" />
<line x1="122.30" y1="119.70" x2="122.30" y2="128.00" stroke="#231f20" stroke-width="0.7" />
<text x="127.50" y="125.98" font-size="5.5" text-anchor="middle" fill="#231f20" stroke="#231f20" >**</text>
<line x1="23.40" y1="188.90" x2="28.40" y2="188.90" stroke="#b7c6d2" stroke-width="0.9" />
<rect x="24.80" y="187.80" width="2.20" height="2.20" fill="#b7c6d2" />
<text x="32.10" y="190.92" font-size="5.6" text-anchor="start" fill="#231f20" stroke="#231f20" textLength="23.2" lengthAdjust="spacingAndGlyphs" >GFP Veh</text>
<line x1="72.90" y1="188.90" x2="77.90" y2="188.90" stroke="#44546b" stroke-width="0.9" />
<rect x="74.30" y="187.80" width="2.20" height="2.20" fill="#44546b" />
<text x="81.60" y="190.92" font-size="5.6" text-anchor="start" fill="#231f20" stroke="#231f20" textLength="26.5" lengthAdjust="spacingAndGlyphs" >GFP Ruxo</text>
<line x1="23.40" y1="196.10" x2="28.40" y2="196.10" stroke="#6a3b10" stroke-width="0.9" />
<rect x="24.80" y="195.00" width="2.20" height="2.20" fill="#6a3b10" />
<text x="32.10" y="198.12" font-size="5.6" text-anchor="start" fill="#231f20" stroke="#231f20" textLength="33.4" lengthAdjust="spacingAndGlyphs" >ITK-SYK Veh</text>
<line x1="72.90" y1="196.10" x2="77.90" y2="196.10" stroke="#cf0a3a" stroke-width="0.9" />
<rect x="74.30" y="195.00" width="2.20" height="2.20" fill="#cf0a3a" />
<text x="81.60" y="198.12" font-size="5.6" text-anchor="start" fill="#231f20" stroke="#231f20" textLength="36.3" lengthAdjust="spacingAndGlyphs" >ITK-SYK Ruxo</text>
<line x1="167.40" y1="91.50" x2="167.40" y2="153.20" stroke="#231f20" stroke-width="0.9" />
<line x1="167.40" y1="153.20" x2="258.00" y2="153.20" stroke="#231f20" stroke-width="0.9" />
<line x1="165.20" y1="153.80" x2="167.40" y2="153.80" stroke="#231f20" stroke-width="0.8" />
<text x="160.80" y="155.92" font-size="5.9" text-anchor="end" fill="#231f20" stroke="#231f20" textLength="6.54" lengthAdjust="spacingAndGlyphs" >80</text>
<line x1="165.20" y1="133.80" x2="167.40" y2="133.80" stroke="#231f20" stroke-width="0.8" />
<text x="160.80" y="135.92" font-size="5.9" text-anchor="end" fill="#231f20" stroke="#231f20" textLength="6.54" lengthAdjust="spacingAndGlyphs" >90</text>
<line x1="165.20" y1="113.80" x2="167.40" y2="113.80" stroke="#231f20" stroke-width="0.8" />
<text x="160.80" y="115.92" font-size="5.9" text-anchor="end" fill="#231f20" stroke="#231f20" textLength="9.81" lengthAdjust="spacingAndGlyphs" >100</text>
<line x1="165.20" y1="93.80" x2="167.40" y2="93.80" stroke="#231f20" stroke-width="0.8" />
<text x="160.80" y="95.92" font-size="5.9" text-anchor="end" fill="#231f20" stroke="#231f20" textLength="9.81" lengthAdjust="spacingAndGlyphs" >110</text>
<line x1="170.30" y1="153.20" x2="170.30" y2="155.60" stroke="#231f20" stroke-width="0.8" />
<line x1="175.91" y1="153.20" x2="175.91" y2="155.60" stroke="#231f20" stroke-width="0.8" />
<line x1="181.52" y1="153.20" x2="181.52" y2="155.60" stroke="#231f20" stroke-width="0.8" />
<line x1="187.13" y1="153.20" x2="187.13" y2="155.60" stroke="#231f20" stroke-width="0.8" />
<line x1="192.74" y1="153.20" x2="192.74" y2="155.60" stroke="#231f20" stroke-width="0.8" />
<line x1="198.35" y1="153.20" x2="198.35" y2="155.60" stroke="#231f20" stroke-width="0.8" />
<line x1="203.96" y1="153.20" x2="203.96" y2="155.60" stroke="#231f20" stroke-width="0.8" />
<line x1="209.57" y1="153.20" x2="209.57" y2="155.60" stroke="#231f20" stroke-width="0.8" />
<line x1="215.18" y1="153.20" x2="215.18" y2="155.60" stroke="#231f20" stroke-width="0.8" />
<line x1="220.79" y1="153.20" x2="220.79" y2="155.60" stroke="#231f20" stroke-width="0.8" />
<line x1="226.40" y1="153.20" x2="226.40" y2="155.60" stroke="#231f20" stroke-width="0.8" />
<line x1="232.01" y1="153.20" x2="232.01" y2="155.60" stroke="#231f20" stroke-width="0.8" />
<line x1="237.62" y1="153.20" x2="237.62" y2="155.60" stroke="#231f20" stroke-width="0.8" />
<line x1="243.23" y1="153.20" x2="243.23" y2="155.60" stroke="#231f20" stroke-width="0.8" />
<line x1="248.84" y1="153.20" x2="248.84" y2="155.60" stroke="#231f20" stroke-width="0.8" />
<line x1="254.45" y1="153.20" x2="254.45" y2="155.60" stroke="#231f20" stroke-width="0.8" />
<text transform="translate(171.80,161.1) rotate(-60)" x="0" y="2.2" font-size="6.1" text-anchor="end" fill="#231f20" stroke="#231f20">0</text>
<text transform="translate(177.41,161.1) rotate(-60)" x="0" y="2.2" font-size="6.1" text-anchor="end" fill="#231f20" stroke="#231f20">4</text>
<text transform="translate(183.02,161.1) rotate(-60)" x="0" y="2.2" font-size="6.1" text-anchor="end" fill="#231f20" stroke="#231f20">7</text>
<text transform="translate(188.63,161.1) rotate(-60)" x="0" y="2.2" font-size="6.1" text-anchor="end" fill="#231f20" stroke="#231f20">11</text>
<text transform="translate(194.24,161.1) rotate(-60)" x="0" y="2.2" font-size="6.1" text-anchor="end" fill="#231f20" stroke="#231f20">14</text>
<text transform="translate(199.85,161.1) rotate(-60)" x="0" y="2.2" font-size="6.1" text-anchor="end" fill="#231f20" stroke="#231f20">18</text>
<text transform="translate(205.46,161.1) rotate(-60)" x="0" y="2.2" font-size="6.1" text-anchor="end" fill="#231f20" stroke="#231f20">21</text>
<text transform="translate(211.07,161.1) rotate(-60)" x="0" y="2.2" font-size="6.1" text-anchor="end" fill="#231f20" stroke="#231f20">25</text>
<text transform="translate(216.68,161.1) rotate(-60)" x="0" y="2.2" font-size="6.1" text-anchor="end" fill="#231f20" stroke="#231f20">28</text>
<text transform="translate(222.29,161.1) rotate(-60)" x="0" y="2.2" font-size="6.1" text-anchor="end" fill="#231f20" stroke="#231f20">32</text>
<text transform="translate(227.90,161.1) rotate(-60)" x="0" y="2.2" font-size="6.1" text-anchor="end" fill="#231f20" stroke="#231f20">35</text>
<text transform="translate(233.51,161.1) rotate(-60)" x="0" y="2.2" font-size="6.1" text-anchor="end" fill="#231f20" stroke="#231f20">39</text>
<text transform="translate(239.12,161.1) rotate(-60)" x="0" y="2.2" font-size="6.1" text-anchor="end" fill="#231f20" stroke="#231f20">42</text>
<text transform="translate(244.73,161.1) rotate(-60)" x="0" y="2.2" font-size="6.1" text-anchor="end" fill="#231f20" stroke="#231f20">46</text>
<text transform="translate(250.34,161.1) rotate(-60)" x="0" y="2.2" font-size="6.1" text-anchor="end" fill="#231f20" stroke="#231f20">49</text>
<text transform="translate(255.95,161.1) rotate(-60)" x="0" y="2.2" font-size="6.1" text-anchor="end" fill="#231f20" stroke="#231f20">53</text>
<text transform="translate(142.80,122.00) rotate(-90)" x="0" y="2.95" font-size="8.2" text-anchor="middle" fill="#231f20" stroke="#231f20" textLength="47" lengthAdjust="spacingAndGlyphs" >Weight loss (%)</text>
<text x="213.00" y="180.25" font-size="8.2" text-anchor="middle" fill="#231f20" stroke="#231f20" textLength="36" lengthAdjust="spacingAndGlyphs" >Days post Tx</text>
<text x="198.30" y="85.50" font-size="6.4" text-anchor="middle" fill="#231f20" stroke="#231f20" textLength="45" lengthAdjust="spacingAndGlyphs" >Start Treatment</text>
<line x1="192.60" y1="85.80" x2="192.60" y2="101.00" stroke="#231f20" stroke-width="0.8" />
<path d="M190.7,98.6 L192.6,102.3 L194.5,98.6 Z" fill="#231f20"/>
<line x1="175.91" y1="131.00" x2="175.91" y2="135.00" stroke="#d0dae0" stroke-width="0.6" />
<line x1="174.81" y1="131.00" x2="177.01" y2="131.00" stroke="#d0dae0" stroke-width="0.6" />
<line x1="174.81" y1="135.00" x2="177.01" y2="135.00" stroke="#d0dae0" stroke-width="0.6" />
<line x1="181.52" y1="126.00" x2="181.52" y2="130.00" stroke="#d0dae0" stroke-width="0.6" />
<line x1="180.42" y1="126.00" x2="182.62" y2="126.00" stroke="#d0dae0" stroke-width="0.6" />
<line x1="180.42" y1="130.00" x2="182.62" y2="130.00" stroke="#d0dae0" stroke-width="0.6" />
<line x1="187.13" y1="121.00" x2="187.13" y2="125.00" stroke="#d0dae0" stroke-width="0.6" />
<line x1="186.03" y1="121.00" x2="188.23" y2="121.00" stroke="#d0dae0" stroke-width="0.6" />
<line x1="186.03" y1="125.00" x2="188.23" y2="125.00" stroke="#d0dae0" stroke-width="0.6" />
<line x1="192.74" y1="119.50" x2="192.74" y2="123.50" stroke="#d0dae0" stroke-width="0.6" />
<line x1="191.64" y1="119.50" x2="193.84" y2="119.50" stroke="#d0dae0" stroke-width="0.6" />
<line x1="191.64" y1="123.50" x2="193.84" y2="123.50" stroke="#d0dae0" stroke-width="0.6" />
<line x1="198.35" y1="119.00" x2="198.35" y2="123.00" stroke="#d0dae0" stroke-width="0.6" />
<line x1="197.25" y1="119.00" x2="199.45" y2="119.00" stroke="#d0dae0" stroke-width="0.6" />
<line x1="197.25" y1="123.00" x2="199.45" y2="123.00" stroke="#d0dae0" stroke-width="0.6" />
<line x1="203.96" y1="119.00" x2="203.96" y2="123.00" stroke="#d0dae0" stroke-width="0.6" />
<line x1="202.86" y1="119.00" x2="205.06" y2="119.00" stroke="#d0dae0" stroke-width="0.6" />
<line x1="202.86" y1="123.00" x2="205.06" y2="123.00" stroke="#d0dae0" stroke-width="0.6" />
<line x1="209.57" y1="119.50" x2="209.57" y2="123.50" stroke="#d0dae0" stroke-width="0.6" />
<line x1="208.47" y1="119.50" x2="210.67" y2="119.50" stroke="#d0dae0" stroke-width="0.6" />
<line x1="208.47" y1="123.50" x2="210.67" y2="123.50" stroke="#d0dae0" stroke-width="0.6" />
<line x1="215.18" y1="118.00" x2="215.18" y2="122.00" stroke="#d0dae0" stroke-width="0.6" />
<line x1="214.08" y1="118.00" x2="216.28" y2="118.00" stroke="#d0dae0" stroke-width="0.6" />
<line x1="214.08" y1="122.00" x2="216.28" y2="122.00" stroke="#d0dae0" stroke-width="0.6" />
<line x1="220.79" y1="117.00" x2="220.79" y2="121.00" stroke="#d0dae0" stroke-width="0.6" />
<line x1="219.69" y1="117.00" x2="221.89" y2="117.00" stroke="#d0dae0" stroke-width="0.6" />
<line x1="219.69" y1="121.00" x2="221.89" y2="121.00" stroke="#d0dae0" stroke-width="0.6" />
<line x1="226.40" y1="117.00" x2="226.40" y2="121.00" stroke="#d0dae0" stroke-width="0.6" />
<line x1="225.30" y1="117.00" x2="227.50" y2="117.00" stroke="#d0dae0" stroke-width="0.6" />
<line x1="225.30" y1="121.00" x2="227.50" y2="121.00" stroke="#d0dae0" stroke-width="0.6" />
<line x1="232.01" y1="115.00" x2="232.01" y2="119.00" stroke="#d0dae0" stroke-width="0.6" />
<line x1="230.91" y1="115.00" x2="233.11" y2="115.00" stroke="#d0dae0" stroke-width="0.6" />
<line x1="230.91" y1="119.00" x2="233.11" y2="119.00" stroke="#d0dae0" stroke-width="0.6" />
<line x1="237.62" y1="116.00" x2="237.62" y2="120.00" stroke="#d0dae0" stroke-width="0.6" />
<line x1="236.52" y1="116.00" x2="238.72" y2="116.00" stroke="#d0dae0" stroke-width="0.6" />
<line x1="236.52" y1="120.00" x2="238.72" y2="120.00" stroke="#d0dae0" stroke-width="0.6" />
<line x1="243.23" y1="115.00" x2="243.23" y2="119.00" stroke="#d0dae0" stroke-width="0.6" />
<line x1="242.13" y1="115.00" x2="244.33" y2="115.00" stroke="#d0dae0" stroke-width="0.6" />
<line x1="242.13" y1="119.00" x2="244.33" y2="119.00" stroke="#d0dae0" stroke-width="0.6" />
<polyline points="170.30,114.20 175.91,133.00 181.52,128.00 187.13,123.00 192.74,121.50 198.35,121.00 203.96,121.00 209.57,121.50 215.18,120.00 220.79,119.00 226.40,119.00 232.01,117.00 237.62,118.00 243.23,117.00" stroke="#d0dae0" stroke-width="0.9" fill="none" stroke-linejoin="round" />
<rect x="169.20" y="113.10" width="2.20" height="2.20" fill="#d0dae0" />
<rect x="174.81" y="131.90" width="2.20" height="2.20" fill="#d0dae0" />
<rect x="180.42" y="126.90" width="2.20" height="2.20" fill="#d0dae0" />
<rect x="186.03" y="121.90" width="2.20" height="2.20" fill="#d0dae0" />
<rect x="191.64" y="120.40" width="2.20" height="2.20" fill="#d0dae0" />
<rect x="197.25" y="119.90" width="2.20" height="2.20" fill="#d0dae0" />
<rect x="202.86" y="119.90" width="2.20" height="2.20" fill="#d0dae0" />
<rect x="208.47" y="120.40" width="2.20" height="2.20" fill="#d0dae0" />
<rect x="214.08" y="118.90" width="2.20" height="2.20" fill="#d0dae0" />
<rect x="219.69" y="117.90" width="2.20" height="2.20" fill="#d0dae0" />
<rect x="225.30" y="117.90" width="2.20" height="2.20" fill="#d0dae0" />
<rect x="230.91" y="115.90" width="2.20" height="2.20" fill="#d0dae0" />
<rect x="236.52" y="116.90" width="2.20" height="2.20" fill="#d0dae0" />
<rect x="242.13" y="115.90" width="2.20" height="2.20" fill="#d0dae0" />
<line x1="175.91" y1="132.00" x2="175.91" y2="136.00" stroke="#44546b" stroke-width="0.6" />
<line x1="174.81" y1="132.00" x2="177.01" y2="132.00" stroke="#44546b" stroke-width="0.6" />
<line x1="174.81" y1="136.00" x2="177.01" y2="136.00" stroke="#44546b" stroke-width="0.6" />
<line x1="181.52" y1="127.30" x2="181.52" y2="130.30" stroke="#44546b" stroke-width="0.6" />
<line x1="180.42" y1="127.30" x2="182.62" y2="127.30" stroke="#44546b" stroke-width="0.6" />
<line x1="180.42" y1="130.30" x2="182.62" y2="130.30" stroke="#44546b" stroke-width="0.6" />
<line x1="187.13" y1="124.00" x2="187.13" y2="128.00" stroke="#44546b" stroke-width="0.6" />
<line x1="186.03" y1="124.00" x2="188.23" y2="124.00" stroke="#44546b" stroke-width="0.6" />
<line x1="186.03" y1="128.00" x2="188.23" y2="128.00" stroke="#44546b" stroke-width="0.6" />
<line x1="192.74" y1="122.90" x2="192.74" y2="129.90" stroke="#44546b" stroke-width="0.6" />
<line x1="191.64" y1="122.90" x2="193.84" y2="122.90" stroke="#44546b" stroke-width="0.6" />
<line x1="191.64" y1="129.90" x2="193.84" y2="129.90" stroke="#44546b" stroke-width="0.6" />
<line x1="198.35" y1="123.20" x2="198.35" y2="127.20" stroke="#44546b" stroke-width="0.6" />
<line x1="197.25" y1="123.20" x2="199.45" y2="123.20" stroke="#44546b" stroke-width="0.6" />
<line x1="197.25" y1="127.20" x2="199.45" y2="127.20" stroke="#44546b" stroke-width="0.6" />
<line x1="203.96" y1="124.00" x2="203.96" y2="128.00" stroke="#44546b" stroke-width="0.6" />
<line x1="202.86" y1="124.00" x2="205.06" y2="124.00" stroke="#44546b" stroke-width="0.6" />
<line x1="202.86" y1="128.00" x2="205.06" y2="128.00" stroke="#44546b" stroke-width="0.6" />
<line x1="209.57" y1="126.70" x2="209.57" y2="130.70" stroke="#44546b" stroke-width="0.6" />
<line x1="208.47" y1="126.70" x2="210.67" y2="126.70" stroke="#44546b" stroke-width="0.6" />
<line x1="208.47" y1="130.70" x2="210.67" y2="130.70" stroke="#44546b" stroke-width="0.6" />
<line x1="215.18" y1="121.80" x2="215.18" y2="125.80" stroke="#44546b" stroke-width="0.6" />
<line x1="214.08" y1="121.80" x2="216.28" y2="121.80" stroke="#44546b" stroke-width="0.6" />
<line x1="214.08" y1="125.80" x2="216.28" y2="125.80" stroke="#44546b" stroke-width="0.6" />
<line x1="220.79" y1="115.50" x2="220.79" y2="119.50" stroke="#44546b" stroke-width="0.6" />
<line x1="219.69" y1="115.50" x2="221.89" y2="115.50" stroke="#44546b" stroke-width="0.6" />
<line x1="219.69" y1="119.50" x2="221.89" y2="119.50" stroke="#44546b" stroke-width="0.6" />
<line x1="226.40" y1="116.00" x2="226.40" y2="120.00" stroke="#44546b" stroke-width="0.6" />
<line x1="225.30" y1="116.00" x2="227.50" y2="116.00" stroke="#44546b" stroke-width="0.6" />
<line x1="225.30" y1="120.00" x2="227.50" y2="120.00" stroke="#44546b" stroke-width="0.6" />
<line x1="232.01" y1="107.40" x2="232.01" y2="115.40" stroke="#44546b" stroke-width="0.6" />
<line x1="230.91" y1="107.40" x2="233.11" y2="107.40" stroke="#44546b" stroke-width="0.6" />
<line x1="230.91" y1="115.40" x2="233.11" y2="115.40" stroke="#44546b" stroke-width="0.6" />
<line x1="237.62" y1="114.00" x2="237.62" y2="121.00" stroke="#44546b" stroke-width="0.6" />
<line x1="236.52" y1="114.00" x2="238.72" y2="114.00" stroke="#44546b" stroke-width="0.6" />
<line x1="236.52" y1="121.00" x2="238.72" y2="121.00" stroke="#44546b" stroke-width="0.6" />
<line x1="243.23" y1="104.60" x2="243.23" y2="117.60" stroke="#44546b" stroke-width="0.6" />
<line x1="242.13" y1="104.60" x2="244.33" y2="104.60" stroke="#44546b" stroke-width="0.6" />
<line x1="242.13" y1="117.60" x2="244.33" y2="117.60" stroke="#44546b" stroke-width="0.6" />
<polyline points="170.30,114.20 175.91,134.00 181.52,128.80 187.13,126.00 192.74,126.40 198.35,125.20 203.96,126.00 209.57,128.70 215.18,123.80 220.79,117.50 226.40,118.00 232.01,111.40 237.62,117.50 243.23,111.10" stroke="#44546b" stroke-width="1.0" fill="none" stroke-linejoin="round" />
<rect x="169.20" y="113.10" width="2.20" height="2.20" fill="#44546b" />
<rect x="174.81" y="132.90" width="2.20" height="2.20" fill="#44546b" />
<rect x="180.42" y="127.70" width="2.20" height="2.20" fill="#44546b" />
<rect x="186.03" y="124.90" width="2.20" height="2.20" fill="#44546b" />
<rect x="191.64" y="125.30" width="2.20" height="2.20" fill="#44546b" />
<rect x="197.25" y="124.10" width="2.20" height="2.20" fill="#44546b" />
<rect x="202.86" y="124.90" width="2.20" height="2.20" fill="#44546b" />
<rect x="208.47" y="127.60" width="2.20" height="2.20" fill="#44546b" />
<rect x="214.08" y="122.70" width="2.20" height="2.20" fill="#44546b" />
<rect x="219.69" y="116.40" width="2.20" height="2.20" fill="#44546b" />
<rect x="225.30" y="116.90" width="2.20" height="2.20" fill="#44546b" />
<rect x="230.91" y="110.30" width="2.20" height="2.20" fill="#44546b" />
<rect x="236.52" y="116.40" width="2.20" height="2.20" fill="#44546b" />
<rect x="242.13" y="110.00" width="2.20" height="2.20" fill="#44546b" />
<line x1="175.91" y1="132.60" x2="175.91" y2="135.60" stroke="#17694a" stroke-width="0.6" />
<line x1="174.81" y1="132.60" x2="177.01" y2="132.60" stroke="#17694a" stroke-width="0.6" />
<line x1="174.81" y1="135.60" x2="177.01" y2="135.60" stroke="#17694a" stroke-width="0.6" />
<line x1="181.52" y1="127.30" x2="181.52" y2="130.30" stroke="#17694a" stroke-width="0.6" />
<line x1="180.42" y1="127.30" x2="182.62" y2="127.30" stroke="#17694a" stroke-width="0.6" />
<line x1="180.42" y1="130.30" x2="182.62" y2="130.30" stroke="#17694a" stroke-width="0.6" />
<line x1="187.13" y1="112.90" x2="187.13" y2="118.90" stroke="#17694a" stroke-width="0.6" />
<line x1="186.03" y1="112.90" x2="188.23" y2="112.90" stroke="#17694a" stroke-width="0.6" />
<line x1="186.03" y1="118.90" x2="188.23" y2="118.90" stroke="#17694a" stroke-width="0.6" />
<line x1="192.74" y1="120.10" x2="192.74" y2="124.10" stroke="#17694a" stroke-width="0.6" />
<line x1="191.64" y1="120.10" x2="193.84" y2="120.10" stroke="#17694a" stroke-width="0.6" />
<line x1="191.64" y1="124.10" x2="193.84" y2="124.10" stroke="#17694a" stroke-width="0.6" />
<line x1="198.35" y1="115.80" x2="198.35" y2="119.80" stroke="#17694a" stroke-width="0.6" />
<line x1="197.25" y1="115.80" x2="199.45" y2="115.80" stroke="#17694a" stroke-width="0.6" />
<line x1="197.25" y1="119.80" x2="199.45" y2="119.80" stroke="#17694a" stroke-width="0.6" />
<line x1="203.96" y1="113.40" x2="203.96" y2="116.40" stroke="#17694a" stroke-width="0.6" />
<line x1="202.86" y1="113.40" x2="205.06" y2="113.40" stroke="#17694a" stroke-width="0.6" />
<line x1="202.86" y1="116.40" x2="205.06" y2="116.40" stroke="#17694a" stroke-width="0.6" />
<line x1="209.57" y1="113.10" x2="209.57" y2="116.10" stroke="#17694a" stroke-width="0.6" />
<line x1="208.47" y1="113.10" x2="210.67" y2="113.10" stroke="#17694a" stroke-width="0.6" />
<line x1="208.47" y1="116.10" x2="210.67" y2="116.10" stroke="#17694a" stroke-width="0.6" />
<line x1="215.18" y1="114.90" x2="215.18" y2="118.90" stroke="#17694a" stroke-width="0.6" />
<line x1="214.08" y1="114.90" x2="216.28" y2="114.90" stroke="#17694a" stroke-width="0.6" />
<line x1="214.08" y1="118.90" x2="216.28" y2="118.90" stroke="#17694a" stroke-width="0.6" />
<line x1="220.79" y1="120.20" x2="220.79" y2="123.20" stroke="#17694a" stroke-width="0.6" />
<line x1="219.69" y1="120.20" x2="221.89" y2="120.20" stroke="#17694a" stroke-width="0.6" />
<line x1="219.69" y1="123.20" x2="221.89" y2="123.20" stroke="#17694a" stroke-width="0.6" />
<line x1="226.40" y1="125.50" x2="226.40" y2="128.50" stroke="#17694a" stroke-width="0.6" />
<line x1="225.30" y1="125.50" x2="227.50" y2="125.50" stroke="#17694a" stroke-width="0.6" />
<line x1="225.30" y1="128.50" x2="227.50" y2="128.50" stroke="#17694a" stroke-width="0.6" />
<line x1="232.01" y1="131.90" x2="232.01" y2="135.90" stroke="#17694a" stroke-width="0.6" />
<line x1="230.91" y1="131.90" x2="233.11" y2="131.90" stroke="#17694a" stroke-width="0.6" />
<line x1="230.91" y1="135.90" x2="233.11" y2="135.90" stroke="#17694a" stroke-width="0.6" />
<line x1="237.62" y1="131.70" x2="237.62" y2="135.70" stroke="#17694a" stroke-width="0.6" />
<line x1="236.52" y1="131.70" x2="238.72" y2="131.70" stroke="#17694a" stroke-width="0.6" />
<line x1="236.52" y1="135.70" x2="238.72" y2="135.70" stroke="#17694a" stroke-width="0.6" />
<line x1="243.23" y1="137.10" x2="243.23" y2="140.10" stroke="#17694a" stroke-width="0.6" />
<line x1="242.13" y1="137.10" x2="244.33" y2="137.10" stroke="#17694a" stroke-width="0.6" />
<line x1="242.13" y1="140.10" x2="244.33" y2="140.10" stroke="#17694a" stroke-width="0.6" />
<line x1="248.84" y1="140.00" x2="248.84" y2="143.00" stroke="#17694a" stroke-width="0.6" />
<line x1="247.74" y1="140.00" x2="249.94" y2="140.00" stroke="#17694a" stroke-width="0.6" />
<line x1="247.74" y1="143.00" x2="249.94" y2="143.00" stroke="#17694a" stroke-width="0.6" />
<line x1="254.45" y1="146.60" x2="254.45" y2="149.60" stroke="#17694a" stroke-width="0.6" />
<line x1="253.35" y1="146.60" x2="255.55" y2="146.60" stroke="#17694a" stroke-width="0.6" />
<line x1="253.35" y1="149.60" x2="255.55" y2="149.60" stroke="#17694a" stroke-width="0.6" />
<polyline points="170.30,114.20 175.91,134.10 181.52,128.80 187.13,115.90 192.74,122.10 198.35,117.80 203.96,114.90 209.57,114.60 215.18,116.90 220.79,121.70 226.40,127.00 232.01,133.90 237.62,133.70 243.23,138.60 248.84,141.50 254.45,148.10" stroke="#17694a" stroke-width="1.0" fill="none" stroke-linejoin="round" />
<rect x="169.20" y="113.10" width="2.20" height="2.20" fill="#17694a" />
<rect x="174.81" y="133.00" width="2.20" height="2.20" fill="#17694a" />
<rect x="180.42" y="127.70" width="2.20" height="2.20" fill="#17694a" />
<rect x="186.03" y="114.80" width="2.20" height="2.20" fill="#17694a" />
<rect x="191.64" y="121.00" width="2.20" height="2.20" fill="#17694a" />
<rect x="197.25" y="116.70" width="2.20" height="2.20" fill="#17694a" />
<rect x="202.86" y="113.80" width="2.20" height="2.20" fill="#17694a" />
<rect x="208.47" y="113.50" width="2.20" height="2.20" fill="#17694a" />
<rect x="214.08" y="115.80" width="2.20" height="2.20" fill="#17694a" />
<rect x="219.69" y="120.60" width="2.20" height="2.20" fill="#17694a" />
<rect x="225.30" y="125.90" width="2.20" height="2.20" fill="#17694a" />
<rect x="230.91" y="132.80" width="2.20" height="2.20" fill="#17694a" />
<rect x="236.52" y="132.60" width="2.20" height="2.20" fill="#17694a" />
<rect x="242.13" y="137.50" width="2.20" height="2.20" fill="#17694a" />
<rect x="247.74" y="140.40" width="2.20" height="2.20" fill="#17694a" />
<rect x="253.35" y="147.00" width="2.20" height="2.20" fill="#17694a" />
<line x1="175.91" y1="131.70" x2="175.91" y2="134.70" stroke="#39a83e" stroke-width="0.6" />
<line x1="174.81" y1="131.70" x2="177.01" y2="131.70" stroke="#39a83e" stroke-width="0.6" />
<line x1="174.81" y1="134.70" x2="177.01" y2="134.70" stroke="#39a83e" stroke-width="0.6" />
<line x1="181.52" y1="126.90" x2="181.52" y2="129.90" stroke="#39a83e" stroke-width="0.6" />
<line x1="180.42" y1="126.90" x2="182.62" y2="126.90" stroke="#39a83e" stroke-width="0.6" />
<line x1="180.42" y1="129.90" x2="182.62" y2="129.90" stroke="#39a83e" stroke-width="0.6" />
<line x1="187.13" y1="116.70" x2="187.13" y2="122.70" stroke="#39a83e" stroke-width="0.6" />
<line x1="186.03" y1="116.70" x2="188.23" y2="116.70" stroke="#39a83e" stroke-width="0.6" />
<line x1="186.03" y1="122.70" x2="188.23" y2="122.70" stroke="#39a83e" stroke-width="0.6" />
<line x1="192.74" y1="117.70" x2="192.74" y2="123.70" stroke="#39a83e" stroke-width="0.6" />
<line x1="191.64" y1="117.70" x2="193.84" y2="117.70" stroke="#39a83e" stroke-width="0.6" />
<line x1="191.64" y1="123.70" x2="193.84" y2="123.70" stroke="#39a83e" stroke-width="0.6" />
<line x1="198.35" y1="117.20" x2="198.35" y2="121.20" stroke="#39a83e" stroke-width="0.6" />
<line x1="197.25" y1="117.20" x2="199.45" y2="117.20" stroke="#39a83e" stroke-width="0.6" />
<line x1="197.25" y1="121.20" x2="199.45" y2="121.20" stroke="#39a83e" stroke-width="0.6" />
<line x1="203.96" y1="124.40" x2="203.96" y2="128.40" stroke="#39a83e" stroke-width="0.6" />
<line x1="202.86" y1="124.40" x2="205.06" y2="124.40" stroke="#39a83e" stroke-width="0.6" />
<line x1="202.86" y1="128.40" x2="205.06" y2="128.40" stroke="#39a83e" stroke-width="0.6" />
<line x1="209.57" y1="124.50" x2="209.57" y2="128.50" stroke="#39a83e" stroke-width="0.6" />
<line x1="208.47" y1="124.50" x2="210.67" y2="124.50" stroke="#39a83e" stroke-width="0.6" />
<line x1="208.47" y1="128.50" x2="210.67" y2="128.50" stroke="#39a83e" stroke-width="0.6" />
<line x1="215.18" y1="118.10" x2="215.18" y2="122.10" stroke="#39a83e" stroke-width="0.6" />
<line x1="214.08" y1="118.10" x2="216.28" y2="118.10" stroke="#39a83e" stroke-width="0.6" />
<line x1="214.08" y1="122.10" x2="216.28" y2="122.10" stroke="#39a83e" stroke-width="0.6" />
<line x1="220.79" y1="121.80" x2="220.79" y2="124.80" stroke="#39a83e" stroke-width="0.6" />
<line x1="219.69" y1="121.80" x2="221.89" y2="121.80" stroke="#39a83e" stroke-width="0.6" />
<line x1="219.69" y1="124.80" x2="221.89" y2="124.80" stroke="#39a83e" stroke-width="0.6" />
<line x1="226.40" y1="122.80" x2="226.40" y2="125.80" stroke="#39a83e" stroke-width="0.6" />
<line x1="225.30" y1="122.80" x2="227.50" y2="122.80" stroke="#39a83e" stroke-width="0.6" />
<line x1="225.30" y1="125.80" x2="227.50" y2="125.80" stroke="#39a83e" stroke-width="0.6" />
<line x1="232.01" y1="124.40" x2="232.01" y2="127.40" stroke="#39a83e" stroke-width="0.6" />
<line x1="230.91" y1="124.40" x2="233.11" y2="124.40" stroke="#39a83e" stroke-width="0.6" />
<line x1="230.91" y1="127.40" x2="233.11" y2="127.40" stroke="#39a83e" stroke-width="0.6" />
<line x1="237.62" y1="128.10" x2="237.62" y2="131.10" stroke="#39a83e" stroke-width="0.6" />
<line x1="236.52" y1="128.10" x2="238.72" y2="128.10" stroke="#39a83e" stroke-width="0.6" />
<line x1="236.52" y1="131.10" x2="238.72" y2="131.10" stroke="#39a83e" stroke-width="0.6" />
<line x1="243.23" y1="130.20" x2="243.23" y2="133.20" stroke="#39a83e" stroke-width="0.6" />
<line x1="242.13" y1="130.20" x2="244.33" y2="130.20" stroke="#39a83e" stroke-width="0.6" />
<line x1="242.13" y1="133.20" x2="244.33" y2="133.20" stroke="#39a83e" stroke-width="0.6" />
<line x1="248.84" y1="133.40" x2="248.84" y2="136.40" stroke="#39a83e" stroke-width="0.6" />
<line x1="247.74" y1="133.40" x2="249.94" y2="133.40" stroke="#39a83e" stroke-width="0.6" />
<line x1="247.74" y1="136.40" x2="249.94" y2="136.40" stroke="#39a83e" stroke-width="0.6" />
<line x1="254.45" y1="137.70" x2="254.45" y2="140.70" stroke="#39a83e" stroke-width="0.6" />
<line x1="253.35" y1="137.70" x2="255.55" y2="137.70" stroke="#39a83e" stroke-width="0.6" />
<line x1="253.35" y1="140.70" x2="255.55" y2="140.70" stroke="#39a83e" stroke-width="0.6" />
<polyline points="170.30,114.20 175.91,133.20 181.52,128.40 187.13,119.70 192.74,120.70 198.35,119.20 203.96,126.40 209.57,126.50 215.18,120.10 220.79,123.30 226.40,124.30 232.01,125.90 237.62,129.60 243.23,131.70 248.84,134.90 254.45,139.20" stroke="#39a83e" stroke-width="1.0" fill="none" stroke-linejoin="round" />
<rect x="169.20" y="113.10" width="2.20" height="2.20" fill="#39a83e" />
<rect x="174.81" y="132.10" width="2.20" height="2.20" fill="#39a83e" />
<rect x="180.42" y="127.30" width="2.20" height="2.20" fill="#39a83e" />
<rect x="186.03" y="118.60" width="2.20" height="2.20" fill="#39a83e" />
<rect x="191.64" y="119.60" width="2.20" height="2.20" fill="#39a83e" />
<rect x="197.25" y="118.10" width="2.20" height="2.20" fill="#39a83e" />
<rect x="202.86" y="125.30" width="2.20" height="2.20" fill="#39a83e" />
<rect x="208.47" y="125.40" width="2.20" height="2.20" fill="#39a83e" />
<rect x="214.08" y="119.00" width="2.20" height="2.20" fill="#39a83e" />
<rect x="219.69" y="122.20" width="2.20" height="2.20" fill="#39a83e" />
<rect x="225.30" y="123.20" width="2.20" height="2.20" fill="#39a83e" />
<rect x="230.91" y="124.80" width="2.20" height="2.20" fill="#39a83e" />
<rect x="236.52" y="128.50" width="2.20" height="2.20" fill="#39a83e" />
<rect x="242.13" y="130.60" width="2.20" height="2.20" fill="#39a83e" />
<rect x="247.74" y="133.80" width="2.20" height="2.20" fill="#39a83e" />
<rect x="253.35" y="138.10" width="2.20" height="2.20" fill="#39a83e" />
<line x1="157.80" y1="188.00" x2="162.80" y2="188.00" stroke="#c5cfd6" stroke-width="0.9" />
<rect x="159.20" y="186.90" width="2.20" height="2.20" fill="#c5cfd6" />
<text x="166.50" y="190.02" font-size="5.6" text-anchor="start" fill="#231f20" stroke="#231f20" textLength="21.8" lengthAdjust="spacingAndGlyphs" >GFP Veh</text>
<line x1="206.80" y1="188.00" x2="211.80" y2="188.00" stroke="#44546b" stroke-width="0.9" />
<rect x="208.20" y="186.90" width="2.20" height="2.20" fill="#44546b" />
<text x="215.50" y="190.02" font-size="5.6" text-anchor="start" fill="#231f20" stroke="#231f20" textLength="24.9" lengthAdjust="spacingAndGlyphs" >GFP Pacr</text>
<line x1="157.80" y1="195.50" x2="162.80" y2="195.50" stroke="#17694a" stroke-width="0.9" />
<rect x="159.20" y="194.40" width="2.20" height="2.20" fill="#17694a" />
<text x="166.50" y="197.52" font-size="5.6" text-anchor="start" fill="#231f20" stroke="#231f20" textLength="32.3" lengthAdjust="spacingAndGlyphs" >ITK-SYK Veh</text>
<line x1="206.80" y1="195.50" x2="211.80" y2="195.50" stroke="#3cac3c" stroke-width="0.9" />
<rect x="208.20" y="194.40" width="2.20" height="2.20" fill="#3cac3c" />
<text x="215.50" y="197.52" font-size="5.6" text-anchor="start" fill="#231f20" stroke="#231f20" textLength="33.4" lengthAdjust="spacingAndGlyphs" >ITK-SYK Pacr</text>
<line x1="36.50" y1="247.70" x2="36.50" y2="304.20" stroke="#231f20" stroke-width="0.9" />
<line x1="36.50" y1="304.20" x2="122.00" y2="304.20" stroke="#231f20" stroke-width="0.9" />
<line x1="34.30" y1="304.20" x2="36.50" y2="304.20" stroke="#231f20" stroke-width="0.8" />
<text x="30.10" y="306.32" font-size="5.9" text-anchor="end" fill="#231f20" stroke="#231f20" textLength="3.4" lengthAdjust="spacingAndGlyphs" >0</text>
<line x1="34.30" y1="293.20" x2="36.50" y2="293.20" stroke="#231f20" stroke-width="0.8" />
<text x="30.10" y="295.32" font-size="5.9" text-anchor="end" fill="#231f20" stroke="#231f20" textLength="6.8" lengthAdjust="spacingAndGlyphs" >20</text>
<line x1="34.30" y1="282.20" x2="36.50" y2="282.20" stroke="#231f20" stroke-width="0.8" />
<text x="30.10" y="284.32" font-size="5.9" text-anchor="end" fill="#231f20" stroke="#231f20" textLength="6.8" lengthAdjust="spacingAndGlyphs" >40</text>
<line x1="34.30" y1="271.20" x2="36.50" y2="271.20" stroke="#231f20" stroke-width="0.8" />
<text x="30.10" y="273.32" font-size="5.9" text-anchor="end" fill="#231f20" stroke="#231f20" textLength="6.8" lengthAdjust="spacingAndGlyphs" >60</text>
<line x1="34.30" y1="260.20" x2="36.50" y2="260.20" stroke="#231f20" stroke-width="0.8" />
<text x="30.10" y="262.32" font-size="5.9" text-anchor="end" fill="#231f20" stroke="#231f20" textLength="6.8" lengthAdjust="spacingAndGlyphs" >80</text>
<line x1="34.30" y1="249.20" x2="36.50" y2="249.20" stroke="#231f20" stroke-width="0.8" />
<text x="30.10" y="251.32" font-size="5.9" text-anchor="end" fill="#231f20" stroke="#231f20" textLength="10.2" lengthAdjust="spacingAndGlyphs" >100</text>
<line x1="37.00" y1="304.20" x2="37.00" y2="306.40" stroke="#231f20" stroke-width="0.8" />
<text x="37.00" y="315.62" font-size="5.9" text-anchor="middle" fill="#231f20" stroke="#231f20" textLength="3.4" lengthAdjust="spacingAndGlyphs" >0</text>
<line x1="53.30" y1="304.20" x2="53.30" y2="306.40" stroke="#231f20" stroke-width="0.8" />
<text x="53.30" y="315.62" font-size="5.9" text-anchor="middle" fill="#231f20" stroke="#231f20" textLength="6.8" lengthAdjust="spacingAndGlyphs" >20</text>
<line x1="69.60" y1="304.20" x2="69.60" y2="306.40" stroke="#231f20" stroke-width="0.8" />
<text x="69.60" y="315.62" font-size="5.9" text-anchor="middle" fill="#231f20" stroke="#231f20" textLength="6.8" lengthAdjust="spacingAndGlyphs" >40</text>
<line x1="85.90" y1="304.20" x2="85.90" y2="306.40" stroke="#231f20" stroke-width="0.8" />
<text x="85.90" y="315.62" font-size="5.9" text-anchor="middle" fill="#231f20" stroke="#231f20" textLength="6.8" lengthAdjust="spacingAndGlyphs" >60</text>
<line x1="102.20" y1="304.20" x2="102.20" y2="306.40" stroke="#231f20" stroke-width="0.8" />
<text x="102.20" y="315.62" font-size="5.9" text-anchor="middle" fill="#231f20" stroke="#231f20" textLength="6.8" lengthAdjust="spacingAndGlyphs" >80</text>
<line x1="118.50" y1="304.20" x2="118.50" y2="306.40" stroke="#231f20" stroke-width="0.8" />
<text x="118.50" y="315.62" font-size="5.9" text-anchor="middle" fill="#231f20" stroke="#231f20" textLength="10.2" lengthAdjust="spacingAndGlyphs" >100</text>
<polyline points="36.50,249.20 68.60,249.20 68.60,260.20 71.90,260.20 71.90,282.20 79.50,282.20 79.50,293.20 84.60,293.20 84.60,304.20" stroke="#4a5462" stroke-width="1.1" fill="none" stroke-linejoin="round" stroke-linejoin="miter"/>
<polyline points="36.50,249.20 103.50,249.20 103.50,260.20 104.70,260.20 104.70,271.20 106.50,271.20 106.50,282.20 110.00,282.20 110.00,293.20 115.00,293.20 115.00,304.20" stroke="#cf0a3a" stroke-width="1.5" fill="none" stroke-linejoin="round" stroke-linejoin="miter"/>
<text x="79.20" y="220.31" font-size="9.2" text-anchor="middle" fill="#231f20" stroke="#231f20" textLength="57" lengthAdjust="spacingAndGlyphs" >Mouse Survival</text>
<text x="47.70" y="230.10" font-size="6.4" text-anchor="middle" fill="#231f20" stroke="#231f20" textLength="40.8" lengthAdjust="spacingAndGlyphs" >Start Treatment</text>
<text x="47.70" y="236.60" font-size="6.4" text-anchor="middle" fill="#231f20" stroke="#231f20" textLength="21.6" lengthAdjust="spacingAndGlyphs" >(Day 14)</text>
<text x="91.10" y="230.10" font-size="6.4" text-anchor="middle" fill="#231f20" stroke="#231f20" textLength="38.5" lengthAdjust="spacingAndGlyphs" >End Treatment</text>
<text x="91.20" y="236.60" font-size="6.4" text-anchor="middle" fill="#231f20" stroke="#231f20" textLength="22.3" lengthAdjust="spacingAndGlyphs" >(Day 62)</text>
<line x1="50.20" y1="239.50" x2="50.20" y2="245.50" stroke="#231f20" stroke-width="0.8" />
<path d="M48.400000000000006,243.6 L50.2,247.2 L52.0,243.6 Z" fill="#231f20"/>
<line x1="87.50" y1="239.50" x2="87.50" y2="245.50" stroke="#231f20" stroke-width="0.8" />
<path d="M85.7,243.6 L87.5,247.2 L89.3,243.6 Z" fill="#231f20"/>
<text x="89.50" y="272.80" font-size="6.4" text-anchor="middle" fill="#231f20" stroke="#231f20" textLength="25" lengthAdjust="spacingAndGlyphs" >P = .0018</text>
<line x1="77.70" y1="275.00" x2="100.80" y2="275.00" stroke="#44546b" stroke-width="0.9" />
<line x1="41.20" y1="288.50" x2="47.00" y2="288.50" stroke="#44546b" stroke-width="1.2" />
<text x="50.40" y="290.77" font-size="6.3" text-anchor="start" fill="#231f20" stroke="#231f20" >Veh</text>
<line x1="41.20" y1="295.40" x2="47.00" y2="295.40" stroke="#cf0a3a" stroke-width="1.4" />
<text x="50.40" y="297.67" font-size="6.3" text-anchor="start" fill="#231f20" stroke="#231f20" >Ruxo</text>
<text x="76.80" y="326.75" font-size="8.2" text-anchor="middle" fill="#231f20" stroke="#231f20" textLength="31" lengthAdjust="spacingAndGlyphs" >Days post Tx</text>
<text transform="translate(11.70,274.20) rotate(-90)" x="0" y="2.95" font-size="8.2" text-anchor="middle" fill="#231f20" stroke="#231f20" textLength="47" lengthAdjust="spacingAndGlyphs" >Percent survival</text>
<line x1="158.30" y1="247.50" x2="158.30" y2="304.20" stroke="#231f20" stroke-width="0.9" />
<line x1="158.30" y1="304.20" x2="248.00" y2="304.20" stroke="#231f20" stroke-width="0.9" />
<line x1="156.10" y1="304.20" x2="158.30" y2="304.20" stroke="#231f20" stroke-width="0.8" />
<text x="151.90" y="306.32" font-size="5.9" text-anchor="end" fill="#231f20" stroke="#231f20" textLength="3.4" lengthAdjust="spacingAndGlyphs" >0</text>
<line x1="156.10" y1="293.16" x2="158.30" y2="293.16" stroke="#231f20" stroke-width="0.8" />
<text x="151.90" y="295.28" font-size="5.9" text-anchor="end" fill="#231f20" stroke="#231f20" textLength="6.8" lengthAdjust="spacingAndGlyphs" >20</text>
<line x1="156.10" y1="282.12" x2="158.30" y2="282.12" stroke="#231f20" stroke-width="0.8" />
<text x="151.90" y="284.24" font-size="5.9" text-anchor="end" fill="#231f20" stroke="#231f20" textLength="6.8" lengthAdjust="spacingAndGlyphs" >40</text>
<line x1="156.10" y1="271.08" x2="158.30" y2="271.08" stroke="#231f20" stroke-width="0.8" />
<text x="151.90" y="273.20" font-size="5.9" text-anchor="end" fill="#231f20" stroke="#231f20" textLength="6.8" lengthAdjust="spacingAndGlyphs" >60</text>
<line x1="156.10" y1="260.04" x2="158.30" y2="260.04" stroke="#231f20" stroke-width="0.8" />
<text x="151.90" y="262.16" font-size="5.9" text-anchor="end" fill="#231f20" stroke="#231f20" textLength="6.8" lengthAdjust="spacingAndGlyphs" >80</text>
<line x1="156.10" y1="249.00" x2="158.30" y2="249.00" stroke="#231f20" stroke-width="0.8" />
<text x="151.90" y="251.12" font-size="5.9" text-anchor="end" fill="#231f20" stroke="#231f20" textLength="10.2" lengthAdjust="spacingAndGlyphs" >100</text>
<line x1="158.30" y1="304.20" x2="158.30" y2="306.40" stroke="#231f20" stroke-width="0.8" />
<text x="158.30" y="315.62" font-size="5.9" text-anchor="middle" fill="#231f20" stroke="#231f20" textLength="3.4" lengthAdjust="spacingAndGlyphs" >0</text>
<line x1="179.50" y1="304.20" x2="179.50" y2="306.40" stroke="#231f20" stroke-width="0.8" />
<text x="179.50" y="315.62" font-size="5.9" text-anchor="middle" fill="#231f20" stroke="#231f20" textLength="6.8" lengthAdjust="spacingAndGlyphs" >20</text>
<line x1="200.70" y1="304.20" x2="200.70" y2="306.40" stroke="#231f20" stroke-width="0.8" />
<text x="200.70" y="315.62" font-size="5.9" text-anchor="middle" fill="#231f20" stroke="#231f20" textLength="6.8" lengthAdjust="spacingAndGlyphs" >40</text>
<line x1="221.90" y1="304.20" x2="221.90" y2="306.40" stroke="#231f20" stroke-width="0.8" />
<text x="221.90" y="315.62" font-size="5.9" text-anchor="middle" fill="#231f20" stroke="#231f20" textLength="6.8" lengthAdjust="spacingAndGlyphs" >60</text>
<line x1="243.10" y1="304.20" x2="243.10" y2="306.40" stroke="#231f20" stroke-width="0.8" />
<text x="243.10" y="315.62" font-size="5.9" text-anchor="middle" fill="#231f20" stroke="#231f20" textLength="6.8" lengthAdjust="spacingAndGlyphs" >80</text>
<polyline points="158.30,249.00 199.80,249.00 199.80,257.30 204.80,257.30 204.80,264.20 214.50,264.20 214.50,272.60 220.60,272.60 220.60,304.20" stroke="#44546b" stroke-width="1.0" fill="none" stroke-linejoin="round" stroke-linejoin="miter"/>
<polyline points="158.30,249.00 222.30,249.00 222.30,259.60 231.00,259.60 231.00,293.00 238.40,293.00 238.40,304.20" stroke="#2fa04a" stroke-width="1.5" fill="none" stroke-linejoin="round" stroke-linejoin="miter"/>
<rect x="199.8" y="249.2" width="22.4" height="8" fill="#fff" stroke="#555" stroke-width="0.7"/>
<text x="211.00" y="255.83" font-size="6.2" text-anchor="middle" fill="#231f20" stroke="#231f20" textLength="21.5" lengthAdjust="spacingAndGlyphs" >P = .002</text>
<text x="202.00" y="219.61" font-size="9.2" text-anchor="middle" fill="#231f20" stroke="#231f20" textLength="58" lengthAdjust="spacingAndGlyphs" >Mouse Survival</text>
<text x="168.90" y="230.40" font-size="6.4" text-anchor="middle" fill="#231f20" stroke="#231f20" textLength="40.3" lengthAdjust="spacingAndGlyphs" >Start Treatment</text>
<text x="169.40" y="236.70" font-size="6.4" text-anchor="middle" fill="#231f20" stroke="#231f20" textLength="22" lengthAdjust="spacingAndGlyphs" >(Day 14)</text>
<text x="212.40" y="230.40" font-size="6.4" text-anchor="middle" fill="#231f20" stroke="#231f20" textLength="39" lengthAdjust="spacingAndGlyphs" >End Treatment</text>
<text x="212.50" y="236.70" font-size="6.4" text-anchor="middle" fill="#231f20" stroke="#231f20" textLength="22.5" lengthAdjust="spacingAndGlyphs" >(Day 56)</text>
<line x1="171.00" y1="239.50" x2="171.00" y2="245.50" stroke="#231f20" stroke-width="0.8" />
<path d="M169.2,243.6 L171,247.2 L172.8,243.6 Z" fill="#231f20"/>
<line x1="210.20" y1="239.50" x2="210.20" y2="245.50" stroke="#231f20" stroke-width="0.8" />
<path d="M208.39999999999998,243.6 L210.2,247.2 L212.0,243.6 Z" fill="#231f20"/>
<line x1="163.60" y1="288.50" x2="169.40" y2="288.50" stroke="#44546b" stroke-width="1.2" />
<text x="172.50" y="290.77" font-size="6.3" text-anchor="start" fill="#231f20" stroke="#231f20" >Veh</text>
<line x1="163.60" y1="295.40" x2="169.40" y2="295.40" stroke="#2fa04a" stroke-width="1.4" />
<text x="172.50" y="297.67" font-size="6.3" text-anchor="start" fill="#231f20" stroke="#231f20" >Pacr</text>
<text x="202.00" y="328.15" font-size="8.2" text-anchor="middle" fill="#231f20" stroke="#231f20" textLength="36.4" lengthAdjust="spacingAndGlyphs" >Days post Tx</text>
<text transform="translate(134.00,276.70) rotate(-90)" x="0" y="2.95" font-size="8.2" text-anchor="middle" fill="#231f20" stroke="#231f20" textLength="48" lengthAdjust="spacingAndGlyphs" >Percent survival</text>
<line x1="303.50" y1="190.00" x2="303.50" y2="253.10" stroke="#231f20" stroke-width="0.9" />
<line x1="303.50" y1="253.10" x2="393.00" y2="253.10" stroke="#231f20" stroke-width="0.9" />
<line x1="301.30" y1="253.10" x2="303.50" y2="253.10" stroke="#231f20" stroke-width="0.8" />
<text x="297.20" y="255.22" font-size="5.9" text-anchor="end" fill="#231f20" stroke="#231f20" textLength="3.25" lengthAdjust="spacingAndGlyphs" >0</text>
<line x1="301.30" y1="240.78" x2="303.50" y2="240.78" stroke="#231f20" stroke-width="0.8" />
<text x="297.20" y="242.90" font-size="5.9" text-anchor="end" fill="#231f20" stroke="#231f20" textLength="3.25" lengthAdjust="spacingAndGlyphs" >2</text>
<line x1="301.30" y1="228.46" x2="303.50" y2="228.46" stroke="#231f20" stroke-width="0.8" />
<text x="297.20" y="230.58" font-size="5.9" text-anchor="end" fill="#231f20" stroke="#231f20" textLength="3.25" lengthAdjust="spacingAndGlyphs" >4</text>
<line x1="301.30" y1="216.14" x2="303.50" y2="216.14" stroke="#231f20" stroke-width="0.8" />
<text x="297.20" y="218.26" font-size="5.9" text-anchor="end" fill="#231f20" stroke="#231f20" textLength="3.25" lengthAdjust="spacingAndGlyphs" >6</text>
<line x1="301.30" y1="203.82" x2="303.50" y2="203.82" stroke="#231f20" stroke-width="0.8" />
<text x="297.20" y="205.94" font-size="5.9" text-anchor="end" fill="#231f20" stroke="#231f20" textLength="3.25" lengthAdjust="spacingAndGlyphs" >8</text>
<line x1="301.30" y1="191.50" x2="303.50" y2="191.50" stroke="#231f20" stroke-width="0.8" />
<text x="297.20" y="193.62" font-size="5.9" text-anchor="end" fill="#231f20" stroke="#231f20" textLength="6.5" lengthAdjust="spacingAndGlyphs" >10</text>
<line x1="318.00" y1="253.10" x2="318.00" y2="255.10" stroke="#231f20" stroke-width="0.8" />
<line x1="335.00" y1="253.10" x2="335.00" y2="255.10" stroke="#231f20" stroke-width="0.8" />
<line x1="364.60" y1="253.10" x2="364.60" y2="255.10" stroke="#231f20" stroke-width="0.8" />
<rect x="359.20" y="205.67" width="10.80" height="47.43" fill="#6a3b10" />
<line x1="364.60" y1="205.67" x2="364.60" y2="201.36" stroke="#6a3b10" stroke-width="0.9" />
<line x1="362.40" y1="201.36" x2="366.80" y2="201.36" stroke="#6a3b10" stroke-width="0.9" />
<line x1="382.25" y1="253.10" x2="382.25" y2="255.10" stroke="#231f20" stroke-width="0.8" />
<rect x="376.50" y="226.61" width="11.50" height="26.49" fill="#cf0a3a" />
<line x1="382.25" y1="226.61" x2="382.25" y2="222.92" stroke="#cf0a3a" stroke-width="0.9" />
<line x1="380.05" y1="222.92" x2="384.45" y2="222.92" stroke="#cf0a3a" stroke-width="0.9" />
<text x="317.00" y="265.77" font-size="6.3" text-anchor="middle" fill="#231f20" stroke="#231f20" >Veh</text>
<text x="335.40" y="265.77" font-size="6.3" text-anchor="middle" fill="#231f20" stroke="#231f20" >Ruxo</text>
<line x1="310.00" y1="267.50" x2="345.80" y2="267.50" stroke="#231f20" stroke-width="0.8" />
<text x="327.30" y="274.57" font-size="6.3" text-anchor="middle" fill="#231f20" stroke="#231f20" >GFP</text>
<text x="364.80" y="265.77" font-size="6.3" text-anchor="middle" fill="#231f20" stroke="#231f20" >Veh</text>
<text x="381.60" y="265.77" font-size="6.3" text-anchor="middle" fill="#231f20" stroke="#231f20" >Ruxo</text>
<line x1="357.00" y1="267.50" x2="388.50" y2="267.50" stroke="#231f20" stroke-width="0.8" />
<text x="372.40" y="274.57" font-size="6.3" text-anchor="middle" fill="#231f20" stroke="#231f20" >ITK-SYK</text>
<text x="376.50" y="196.02" font-size="7.0" text-anchor="middle" fill="#3a3a3a" stroke="#3a3a3a" >**</text>
<text x="348.70" y="185.82" font-size="8.4" text-anchor="middle" fill="#231f20" stroke="#231f20" textLength="55.5" lengthAdjust="spacingAndGlyphs" >Day 43 post Tx</text>
<text transform="translate(282.10,221.00) rotate(-90)" x="0" y="2.52" font-size="7.0" text-anchor="middle" fill="#231f20" stroke="#231f20" textLength="50" lengthAdjust="spacingAndGlyphs" >Phenotypic score</text>
<line x1="419.60" y1="188.50" x2="419.60" y2="252.70" stroke="#231f20" stroke-width="0.9" />
<line x1="419.60" y1="252.70" x2="508.50" y2="252.70" stroke="#231f20" stroke-width="0.9" />
<line x1="417.40" y1="252.70" x2="419.60" y2="252.70" stroke="#231f20" stroke-width="0.8" />
<text x="413.30" y="254.82" font-size="5.9" text-anchor="end" fill="#231f20" stroke="#231f20" textLength="3.25" lengthAdjust="spacingAndGlyphs" >0</text>
<line x1="417.40" y1="237.02" x2="419.60" y2="237.02" stroke="#231f20" stroke-width="0.8" />
<text x="413.30" y="239.15" font-size="5.9" text-anchor="end" fill="#231f20" stroke="#231f20" textLength="3.25" lengthAdjust="spacingAndGlyphs" >2</text>
<line x1="417.40" y1="221.35" x2="419.60" y2="221.35" stroke="#231f20" stroke-width="0.8" />
<text x="413.30" y="223.47" font-size="5.9" text-anchor="end" fill="#231f20" stroke="#231f20" textLength="3.25" lengthAdjust="spacingAndGlyphs" >4</text>
<line x1="417.40" y1="205.68" x2="419.60" y2="205.68" stroke="#231f20" stroke-width="0.8" />
<text x="413.30" y="207.80" font-size="5.9" text-anchor="end" fill="#231f20" stroke="#231f20" textLength="3.25" lengthAdjust="spacingAndGlyphs" >6</text>
<line x1="417.40" y1="190.00" x2="419.60" y2="190.00" stroke="#231f20" stroke-width="0.8" />
<text x="413.30" y="192.12" font-size="5.9" text-anchor="end" fill="#231f20" stroke="#231f20" textLength="3.25" lengthAdjust="spacingAndGlyphs" >8</text>
<line x1="435.00" y1="252.70" x2="435.00" y2="254.70" stroke="#231f20" stroke-width="0.8" />
<rect x="430.00" y="251.92" width="10.00" height="0.78" fill="#c9cbd0" />
<line x1="435.00" y1="251.92" x2="435.00" y2="248.00" stroke="#8a8a8a" stroke-width="0.9" />
<line x1="432.80" y1="248.00" x2="437.20" y2="248.00" stroke="#8a8a8a" stroke-width="0.9" />
<line x1="453.50" y1="252.70" x2="453.50" y2="254.70" stroke="#231f20" stroke-width="0.8" />
<line x1="483.50" y1="252.70" x2="483.50" y2="254.70" stroke="#231f20" stroke-width="0.8" />
<rect x="478.00" y="200.97" width="11.00" height="51.73" fill="#17694a" />
<line x1="483.50" y1="200.97" x2="483.50" y2="194.31" stroke="#17694a" stroke-width="0.9" />
<line x1="481.30" y1="194.31" x2="485.70" y2="194.31" stroke="#17694a" stroke-width="0.9" />
<line x1="500.95" y1="252.70" x2="500.95" y2="254.70" stroke="#231f20" stroke-width="0.8" />
<rect x="495.20" y="213.90" width="11.50" height="38.80" fill="#3cac3c" />
<line x1="500.95" y1="213.90" x2="500.95" y2="209.20" stroke="#3cac3c" stroke-width="0.9" />
<line x1="498.75" y1="209.20" x2="503.15" y2="209.20" stroke="#3cac3c" stroke-width="0.9" />
<text x="436.30" y="265.77" font-size="6.3" text-anchor="middle" fill="#231f20" stroke="#231f20" >Veh</text>
<text x="453.60" y="265.77" font-size="6.3" text-anchor="middle" fill="#231f20" stroke="#231f20" >Pacr</text>
<line x1="427.30" y1="267.50" x2="463.50" y2="267.50" stroke="#231f20" stroke-width="0.8" />
<text x="444.60" y="274.57" font-size="6.3" text-anchor="middle" fill="#231f20" stroke="#231f20" >GFP</text>
<text x="483.00" y="265.77" font-size="6.3" text-anchor="middle" fill="#231f20" stroke="#231f20" >Veh</text>
<text x="501.00" y="265.77" font-size="6.3" text-anchor="middle" fill="#231f20" stroke="#231f20" >Pacr</text>
<line x1="474.40" y1="267.50" x2="508.50" y2="267.50" stroke="#231f20" stroke-width="0.8" />
<text x="491.20" y="274.57" font-size="6.3" text-anchor="middle" fill="#231f20" stroke="#231f20" >ITK-SYK</text>
<text x="468.20" y="185.72" font-size="8.4" text-anchor="middle" fill="#231f20" stroke="#231f20" textLength="57.5" lengthAdjust="spacingAndGlyphs" >Day 43 post Tx</text>
<text transform="translate(404.20,221.40) rotate(-90)" x="0" y="2.52" font-size="7.0" text-anchor="middle" fill="#231f20" stroke="#231f20" textLength="50" lengthAdjust="spacingAndGlyphs" >Phenotypic score</text>
<text x="141.50" y="349.59" font-size="8.3" text-anchor="middle" fill="#231f20" stroke="#231f20" textLength="65" lengthAdjust="spacingAndGlyphs" >PB Granulocytes</text>
<text x="141.20" y="463.99" font-size="8.3" text-anchor="middle" fill="#231f20" stroke="#231f20" textLength="80" lengthAdjust="spacingAndGlyphs" >Spleen Granulocytes</text>
<line x1="47.50" y1="364.10" x2="47.50" y2="425.90" stroke="#231f20" stroke-width="0.9" />
<line x1="47.50" y1="425.90" x2="135.00" y2="425.90" stroke="#231f20" stroke-width="0.9" />
<line x1="45.30" y1="425.90" x2="47.50" y2="425.90" stroke="#231f20" stroke-width="0.8" />
<text x="41.20" y="428.02" font-size="5.9" text-anchor="end" fill="#231f20" stroke="#231f20" textLength="3.25" lengthAdjust="spacingAndGlyphs" >0</text>
<line x1="45.30" y1="410.82" x2="47.50" y2="410.82" stroke="#231f20" stroke-width="0.8" />
<text x="41.20" y="412.95" font-size="5.9" text-anchor="end" fill="#231f20" stroke="#231f20" textLength="6.5" lengthAdjust="spacingAndGlyphs" >20</text>
<line x1="45.30" y1="395.75" x2="47.50" y2="395.75" stroke="#231f20" stroke-width="0.8" />
<text x="41.20" y="397.87" font-size="5.9" text-anchor="end" fill="#231f20" stroke="#231f20" textLength="6.5" lengthAdjust="spacingAndGlyphs" >40</text>
<line x1="45.30" y1="380.68" x2="47.50" y2="380.68" stroke="#231f20" stroke-width="0.8" />
<text x="41.20" y="382.80" font-size="5.9" text-anchor="end" fill="#231f20" stroke="#231f20" textLength="6.5" lengthAdjust="spacingAndGlyphs" >60</text>
<line x1="45.30" y1="365.60" x2="47.50" y2="365.60" stroke="#231f20" stroke-width="0.8" />
<text x="41.20" y="367.72" font-size="5.9" text-anchor="end" fill="#231f20" stroke="#231f20" textLength="6.5" lengthAdjust="spacingAndGlyphs" >80</text>
<line x1="63.30" y1="425.90" x2="63.30" y2="427.90" stroke="#231f20" stroke-width="0.8" />
<rect x="57.80" y="419.34" width="11.00" height="6.56" fill="#c9cbd0" />
<line x1="63.30" y1="419.34" x2="63.30" y2="417.46" stroke="#8a8a8a" stroke-width="0.9" />
<line x1="61.10" y1="417.46" x2="65.50" y2="417.46" stroke="#8a8a8a" stroke-width="0.9" />
<line x1="80.30" y1="425.90" x2="80.30" y2="427.90" stroke="#231f20" stroke-width="0.8" />
<rect x="75.00" y="413.09" width="10.60" height="12.81" fill="#44546b" />
<line x1="80.30" y1="413.09" x2="80.30" y2="409.32" stroke="#44546b" stroke-width="0.9" />
<line x1="78.10" y1="409.32" x2="82.50" y2="409.32" stroke="#44546b" stroke-width="0.9" />
<line x1="108.80" y1="425.90" x2="108.80" y2="427.90" stroke="#231f20" stroke-width="0.8" />
<rect x="103.60" y="381.81" width="10.40" height="44.09" fill="#6a3b10" />
<line x1="108.80" y1="381.81" x2="108.80" y2="377.66" stroke="#6a3b10" stroke-width="0.9" />
<line x1="106.60" y1="377.66" x2="111.00" y2="377.66" stroke="#6a3b10" stroke-width="0.9" />
<line x1="125.75" y1="425.90" x2="125.75" y2="427.90" stroke="#231f20" stroke-width="0.8" />
<rect x="120.30" y="404.04" width="10.90" height="21.86" fill="#cf0a3a" />
<line x1="125.75" y1="404.04" x2="125.75" y2="402.53" stroke="#cf0a3a" stroke-width="0.9" />
<line x1="123.55" y1="402.53" x2="127.95" y2="402.53" stroke="#cf0a3a" stroke-width="0.9" />
<text x="63.10" y="437.27" font-size="6.3" text-anchor="middle" fill="#231f20" stroke="#231f20" >Veh</text>
<text x="79.20" y="437.27" font-size="6.3" text-anchor="middle" fill="#231f20" stroke="#231f20" >Ruxo</text>
<line x1="54.50" y1="439.40" x2="89.60" y2="439.40" stroke="#231f20" stroke-width="0.8" />
<text x="71.40" y="446.27" font-size="6.3" text-anchor="middle" fill="#231f20" stroke="#231f20" >GFP</text>
<text x="109.00" y="437.27" font-size="6.3" text-anchor="middle" fill="#231f20" stroke="#231f20" >Veh</text>
<text x="126.00" y="437.27" font-size="6.3" text-anchor="middle" fill="#231f20" stroke="#231f20" >Ruxo</text>
<line x1="99.50" y1="439.40" x2="135.00" y2="439.40" stroke="#231f20" stroke-width="0.8" />
<text x="119.50" y="446.27" font-size="6.3" text-anchor="middle" fill="#231f20" stroke="#231f20" >ITK-SYK</text>
<text transform="translate(16.80,393.60) rotate(-90)" x="0" y="3.2" font-size="9.0" text-anchor="middle" fill="#231f20" stroke="#231f20" textLength="73.5" lengthAdjust="spacingAndGlyphs">% of CD11b<tspan font-size="5" dy="-2.6">+</tspan><tspan dy="2.6">Ly6G</tspan><tspan font-size="5" dy="-2.6">+</tspan><tspan dy="2.6"> cells</tspan></text>
<text transform="translate(28.00,393.60) rotate(-90)" x="0" y="3.2" font-size="9.0" text-anchor="middle" fill="#231f20" stroke="#231f20" textLength="59.3" lengthAdjust="spacingAndGlyphs">within GFP<tspan font-size="5" dy="-2.6">-</tspan><tspan dy="2.6"> PB cells</tspan></text>
<line x1="177.90" y1="364.50" x2="177.90" y2="426.00" stroke="#231f20" stroke-width="0.9" />
<line x1="177.90" y1="426.00" x2="264.60" y2="426.00" stroke="#231f20" stroke-width="0.9" />
<line x1="175.70" y1="426.00" x2="177.90" y2="426.00" stroke="#231f20" stroke-width="0.8" />
<text x="171.60" y="428.12" font-size="5.9" text-anchor="end" fill="#231f20" stroke="#231f20" textLength="3.25" lengthAdjust="spacingAndGlyphs" >0</text>
<line x1="175.70" y1="411.00" x2="177.90" y2="411.00" stroke="#231f20" stroke-width="0.8" />
<text x="171.60" y="413.12" font-size="5.9" text-anchor="end" fill="#231f20" stroke="#231f20" textLength="6.5" lengthAdjust="spacingAndGlyphs" >20</text>
<line x1="175.70" y1="396.00" x2="177.90" y2="396.00" stroke="#231f20" stroke-width="0.8" />
<text x="171.60" y="398.12" font-size="5.9" text-anchor="end" fill="#231f20" stroke="#231f20" textLength="6.5" lengthAdjust="spacingAndGlyphs" >40</text>
<line x1="175.70" y1="381.00" x2="177.90" y2="381.00" stroke="#231f20" stroke-width="0.8" />
<text x="171.60" y="383.12" font-size="5.9" text-anchor="end" fill="#231f20" stroke="#231f20" textLength="6.5" lengthAdjust="spacingAndGlyphs" >60</text>
<line x1="175.70" y1="366.00" x2="177.90" y2="366.00" stroke="#231f20" stroke-width="0.8" />
<text x="171.60" y="368.12" font-size="5.9" text-anchor="end" fill="#231f20" stroke="#231f20" textLength="6.5" lengthAdjust="spacingAndGlyphs" >80</text>
<line x1="191.65" y1="426.00" x2="191.65" y2="428.00" stroke="#231f20" stroke-width="0.8" />
<rect x="186.50" y="417.07" width="10.30" height="8.93" fill="#c9cbd0" />
<line x1="191.65" y1="417.07" x2="191.65" y2="413.32" stroke="#8a8a8a" stroke-width="0.9" />
<line x1="189.45" y1="413.32" x2="193.85" y2="413.32" stroke="#8a8a8a" stroke-width="0.9" />
<line x1="208.35" y1="426.00" x2="208.35" y2="428.00" stroke="#231f20" stroke-width="0.8" />
<rect x="203.20" y="412.88" width="10.30" height="13.12" fill="#44546b" />
<line x1="208.35" y1="412.88" x2="208.35" y2="410.62" stroke="#44546b" stroke-width="0.9" />
<line x1="206.15" y1="410.62" x2="210.55" y2="410.62" stroke="#44546b" stroke-width="0.9" />
<line x1="236.60" y1="426.00" x2="236.60" y2="428.00" stroke="#231f20" stroke-width="0.8" />
<rect x="231.50" y="400.50" width="10.20" height="25.50" fill="#17694a" />
<line x1="236.60" y1="400.50" x2="236.60" y2="397.88" stroke="#17694a" stroke-width="0.9" />
<line x1="234.40" y1="397.88" x2="238.80" y2="397.88" stroke="#17694a" stroke-width="0.9" />
<line x1="253.20" y1="426.00" x2="253.20" y2="428.00" stroke="#231f20" stroke-width="0.8" />
<rect x="248.00" y="384.98" width="10.40" height="41.02" fill="#3cac3c" />
<line x1="253.20" y1="384.98" x2="253.20" y2="383.48" stroke="#3cac3c" stroke-width="0.9" />
<line x1="251.00" y1="383.48" x2="255.40" y2="383.48" stroke="#3cac3c" stroke-width="0.9" />
<text x="191.40" y="438.27" font-size="6.3" text-anchor="middle" fill="#231f20" stroke="#231f20" >Veh</text>
<text x="208.60" y="438.27" font-size="6.3" text-anchor="middle" fill="#231f20" stroke="#231f20" >Pacr</text>
<line x1="182.50" y1="440.00" x2="218.80" y2="440.00" stroke="#231f20" stroke-width="0.8" />
<text x="200.50" y="447.17" font-size="6.3" text-anchor="middle" fill="#231f20" stroke="#231f20" >GFP</text>
<text x="237.20" y="438.27" font-size="6.3" text-anchor="middle" fill="#231f20" stroke="#231f20" >Veh</text>
<text x="254.40" y="438.27" font-size="6.3" text-anchor="middle" fill="#231f20" stroke="#231f20" >Pacr</text>
<line x1="227.50" y1="440.00" x2="262.50" y2="440.00" stroke="#231f20" stroke-width="0.8" />
<text x="245.80" y="447.17" font-size="6.3" text-anchor="middle" fill="#231f20" stroke="#231f20" >ITK-SYK</text>
<text transform="translate(146.60,393.60) rotate(-90)" x="0" y="3.2" font-size="9.0" text-anchor="middle" fill="#231f20" stroke="#231f20" textLength="73.5" lengthAdjust="spacingAndGlyphs">% of CD11b<tspan font-size="5" dy="-2.6">+</tspan><tspan dy="2.6">Ly6G</tspan><tspan font-size="5" dy="-2.6">+</tspan><tspan dy="2.6"> cells</tspan></text>
<text transform="translate(156.10,393.60) rotate(-90)" x="0" y="3.2" font-size="9.0" text-anchor="middle" fill="#231f20" stroke="#231f20" textLength="59.3" lengthAdjust="spacingAndGlyphs">within GFP<tspan font-size="5" dy="-2.6">-</tspan><tspan dy="2.6"> PB cells</tspan></text>
<line x1="47.50" y1="477.60" x2="47.50" y2="537.50" stroke="#231f20" stroke-width="0.9" />
<line x1="47.50" y1="537.50" x2="135.00" y2="537.50" stroke="#231f20" stroke-width="0.9" />
<line x1="45.30" y1="537.50" x2="47.50" y2="537.50" stroke="#231f20" stroke-width="0.8" />
<text x="41.20" y="539.62" font-size="5.9" text-anchor="end" fill="#231f20" stroke="#231f20" textLength="3.25" lengthAdjust="spacingAndGlyphs" >0</text>
<line x1="45.30" y1="525.82" x2="47.50" y2="525.82" stroke="#231f20" stroke-width="0.8" />
<text x="41.20" y="527.94" font-size="5.9" text-anchor="end" fill="#231f20" stroke="#231f20" textLength="3.25" lengthAdjust="spacingAndGlyphs" >5</text>
<line x1="45.30" y1="514.14" x2="47.50" y2="514.14" stroke="#231f20" stroke-width="0.8" />
<text x="41.20" y="516.26" font-size="5.9" text-anchor="end" fill="#231f20" stroke="#231f20" textLength="6.5" lengthAdjust="spacingAndGlyphs" >10</text>
<line x1="45.30" y1="502.46" x2="47.50" y2="502.46" stroke="#231f20" stroke-width="0.8" />
<text x="41.20" y="504.58" font-size="5.9" text-anchor="end" fill="#231f20" stroke="#231f20" textLength="6.5" lengthAdjust="spacingAndGlyphs" >15</text>
<line x1="45.30" y1="490.78" x2="47.50" y2="490.78" stroke="#231f20" stroke-width="0.8" />
<text x="41.20" y="492.90" font-size="5.9" text-anchor="end" fill="#231f20" stroke="#231f20" textLength="6.5" lengthAdjust="spacingAndGlyphs" >20</text>
<line x1="45.30" y1="479.10" x2="47.50" y2="479.10" stroke="#231f20" stroke-width="0.8" />
<text x="41.20" y="481.22" font-size="5.9" text-anchor="end" fill="#231f20" stroke="#231f20" textLength="6.5" lengthAdjust="spacingAndGlyphs" >25</text>
<line x1="63.30" y1="537.50" x2="63.30" y2="539.50" stroke="#231f20" stroke-width="0.8" />
<rect x="57.80" y="536.57" width="11.00" height="0.93" fill="#c9cbd0" />
<line x1="63.30" y1="536.57" x2="63.30" y2="535.86" stroke="#8a8a8a" stroke-width="0.9" />
<line x1="61.10" y1="535.86" x2="65.50" y2="535.86" stroke="#8a8a8a" stroke-width="0.9" />
<line x1="80.30" y1="537.50" x2="80.30" y2="539.50" stroke="#231f20" stroke-width="0.8" />
<rect x="75.00" y="532.83" width="10.60" height="4.67" fill="#44546b" />
<line x1="80.30" y1="532.83" x2="80.30" y2="528.16" stroke="#44546b" stroke-width="0.9" />
<line x1="78.10" y1="528.16" x2="82.50" y2="528.16" stroke="#44546b" stroke-width="0.9" />
<line x1="108.80" y1="537.50" x2="108.80" y2="539.50" stroke="#231f20" stroke-width="0.8" />
<rect x="103.60" y="490.31" width="10.40" height="47.19" fill="#6a3b10" />
<line x1="108.80" y1="490.31" x2="108.80" y2="483.30" stroke="#6a3b10" stroke-width="0.9" />
<line x1="106.60" y1="483.30" x2="111.00" y2="483.30" stroke="#6a3b10" stroke-width="0.9" />
<line x1="125.75" y1="537.50" x2="125.75" y2="539.50" stroke="#231f20" stroke-width="0.8" />
<rect x="120.30" y="512.97" width="10.90" height="24.53" fill="#cf0a3a" />
<line x1="125.75" y1="512.97" x2="125.75" y2="509.70" stroke="#cf0a3a" stroke-width="0.9" />
<line x1="123.55" y1="509.70" x2="127.95" y2="509.70" stroke="#cf0a3a" stroke-width="0.9" />
<text x="63.10" y="548.87" font-size="6.3" text-anchor="middle" fill="#231f20" stroke="#231f20" >Veh</text>
<text x="79.20" y="548.87" font-size="6.3" text-anchor="middle" fill="#231f20" stroke="#231f20" >Ruxo</text>
<line x1="54.50" y1="551.30" x2="89.60" y2="551.30" stroke="#231f20" stroke-width="0.8" />
<text x="71.40" y="558.27" font-size="6.3" text-anchor="middle" fill="#231f20" stroke="#231f20" >GFP</text>
<text x="109.00" y="548.87" font-size="6.3" text-anchor="middle" fill="#231f20" stroke="#231f20" >Veh</text>
<text x="126.00" y="548.87" font-size="6.3" text-anchor="middle" fill="#231f20" stroke="#231f20" >Ruxo</text>
<line x1="99.50" y1="551.30" x2="135.00" y2="551.30" stroke="#231f20" stroke-width="0.8" />
<text x="119.50" y="558.27" font-size="6.3" text-anchor="middle" fill="#231f20" stroke="#231f20" >ITK-SYK</text>
<text transform="translate(16.80,506.30) rotate(-90)" x="0" y="3.2" font-size="9.0" text-anchor="middle" fill="#231f20" stroke="#231f20" textLength="73.5" lengthAdjust="spacingAndGlyphs">% of CD11b<tspan font-size="5" dy="-2.6">+</tspan><tspan dy="2.6">Ly6G</tspan><tspan font-size="5" dy="-2.6">+</tspan><tspan dy="2.6"> cells</tspan></text>
<text transform="translate(28.00,506.30) rotate(-90)" x="0" y="3.2" font-size="9.0" text-anchor="middle" fill="#231f20" stroke="#231f20" textLength="59.3" lengthAdjust="spacingAndGlyphs">within GFP<tspan font-size="5" dy="-2.6">-</tspan><tspan dy="2.6"> PB cells</tspan></text>
<line x1="177.10" y1="477.50" x2="177.10" y2="537.50" stroke="#231f20" stroke-width="0.9" />
<line x1="177.10" y1="537.50" x2="264.60" y2="537.50" stroke="#231f20" stroke-width="0.9" />
<line x1="174.90" y1="537.50" x2="177.10" y2="537.50" stroke="#231f20" stroke-width="0.8" />
<text x="170.80" y="539.62" font-size="5.9" text-anchor="end" fill="#231f20" stroke="#231f20" textLength="3.25" lengthAdjust="spacingAndGlyphs" >0</text>
<line x1="174.90" y1="525.80" x2="177.10" y2="525.80" stroke="#231f20" stroke-width="0.8" />
<text x="170.80" y="527.92" font-size="5.9" text-anchor="end" fill="#231f20" stroke="#231f20" textLength="3.25" lengthAdjust="spacingAndGlyphs" >5</text>
<line x1="174.90" y1="514.10" x2="177.10" y2="514.10" stroke="#231f20" stroke-width="0.8" />
<text x="170.80" y="516.22" font-size="5.9" text-anchor="end" fill="#231f20" stroke="#231f20" textLength="6.5" lengthAdjust="spacingAndGlyphs" >10</text>
<line x1="174.90" y1="502.40" x2="177.10" y2="502.40" stroke="#231f20" stroke-width="0.8" />
<text x="170.80" y="504.52" font-size="5.9" text-anchor="end" fill="#231f20" stroke="#231f20" textLength="6.5" lengthAdjust="spacingAndGlyphs" >15</text>
<line x1="174.90" y1="490.70" x2="177.10" y2="490.70" stroke="#231f20" stroke-width="0.8" />
<text x="170.80" y="492.82" font-size="5.9" text-anchor="end" fill="#231f20" stroke="#231f20" textLength="6.5" lengthAdjust="spacingAndGlyphs" >20</text>
<line x1="174.90" y1="479.00" x2="177.10" y2="479.00" stroke="#231f20" stroke-width="0.8" />
<text x="170.80" y="481.12" font-size="5.9" text-anchor="end" fill="#231f20" stroke="#231f20" textLength="6.5" lengthAdjust="spacingAndGlyphs" >25</text>
<line x1="191.65" y1="537.50" x2="191.65" y2="539.50" stroke="#231f20" stroke-width="0.8" />
<rect x="186.50" y="537.03" width="10.30" height="0.47" fill="#c9cbd0" />
<line x1="191.65" y1="537.03" x2="191.65" y2="536.56" stroke="#8a8a8a" stroke-width="0.9" />
<line x1="189.45" y1="536.56" x2="193.85" y2="536.56" stroke="#8a8a8a" stroke-width="0.9" />
<line x1="208.35" y1="537.50" x2="208.35" y2="539.50" stroke="#231f20" stroke-width="0.8" />
<rect x="203.20" y="536.80" width="10.30" height="0.70" fill="#c9cbd0" />
<line x1="208.35" y1="536.80" x2="208.35" y2="536.10" stroke="#8a8a8a" stroke-width="0.9" />
<line x1="206.15" y1="536.10" x2="210.55" y2="536.10" stroke="#8a8a8a" stroke-width="0.9" />
<line x1="236.10" y1="537.50" x2="236.10" y2="539.50" stroke="#231f20" stroke-width="0.8" />
<rect x="231.00" y="501.23" width="10.20" height="36.27" fill="#17694a" />
<line x1="236.10" y1="501.23" x2="236.10" y2="494.21" stroke="#17694a" stroke-width="0.9" />
<line x1="233.90" y1="494.21" x2="238.30" y2="494.21" stroke="#17694a" stroke-width="0.9" />
<line x1="253.60" y1="537.50" x2="253.60" y2="539.50" stroke="#231f20" stroke-width="0.8" />
<rect x="248.50" y="491.64" width="10.20" height="45.86" fill="#3cac3c" />
<line x1="253.60" y1="491.64" x2="253.60" y2="482.74" stroke="#3cac3c" stroke-width="0.9" />
<line x1="251.40" y1="482.74" x2="255.80" y2="482.74" stroke="#3cac3c" stroke-width="0.9" />
<text x="191.40" y="550.57" font-size="6.3" text-anchor="middle" fill="#231f20" stroke="#231f20" >Veh</text>
<text x="208.60" y="550.57" font-size="6.3" text-anchor="middle" fill="#231f20" stroke="#231f20" >Pacr</text>
<line x1="182.50" y1="552.30" x2="218.80" y2="552.30" stroke="#231f20" stroke-width="0.8" />
<text x="200.50" y="559.47" font-size="6.3" text-anchor="middle" fill="#231f20" stroke="#231f20" >GFP</text>
<text x="237.20" y="550.57" font-size="6.3" text-anchor="middle" fill="#231f20" stroke="#231f20" >Veh</text>
<text x="254.40" y="550.57" font-size="6.3" text-anchor="middle" fill="#231f20" stroke="#231f20" >Pacr</text>
<line x1="227.50" y1="552.30" x2="262.50" y2="552.30" stroke="#231f20" stroke-width="0.8" />
<text x="245.80" y="559.47" font-size="6.3" text-anchor="middle" fill="#231f20" stroke="#231f20" >ITK-SYK</text>
<text transform="translate(144.90,506.20) rotate(-90)" x="0" y="3.2" font-size="9.0" text-anchor="middle" fill="#231f20" stroke="#231f20" textLength="73.5" lengthAdjust="spacingAndGlyphs">% of CD11b<tspan font-size="5" dy="-2.6">+</tspan><tspan dy="2.6">Ly6G</tspan><tspan font-size="5" dy="-2.6">+</tspan><tspan dy="2.6"> cells</tspan></text>
<text transform="translate(155.80,506.20) rotate(-90)" x="0" y="3.2" font-size="9.0" text-anchor="middle" fill="#231f20" stroke="#231f20" textLength="59.3" lengthAdjust="spacingAndGlyphs">within GFP<tspan font-size="5" dy="-2.6">-</tspan><tspan dy="2.6"> PB cells</tspan></text>
<line x1="58.20" y1="366.70" x2="108.40" y2="366.70" stroke="#5e5e5e" stroke-width="0.9" />
<line x1="58.20" y1="364.90" x2="58.20" y2="368.50" stroke="#5e5e5e" stroke-width="0.9" />
<line x1="108.40" y1="364.90" x2="108.40" y2="368.50" stroke="#5e5e5e" stroke-width="0.9" />
<text x="83.30" y="367.36" font-size="7.0" text-anchor="middle" fill="#3a3a3a" stroke="#3a3a3a" >***</text>
<line x1="108.40" y1="372.10" x2="128.00" y2="372.10" stroke="#5e5e5e" stroke-width="0.9" />
<line x1="108.40" y1="370.30" x2="108.40" y2="373.90" stroke="#5e5e5e" stroke-width="0.9" />
<line x1="128.00" y1="370.30" x2="128.00" y2="373.90" stroke="#5e5e5e" stroke-width="0.9" />
<text x="118.20" y="372.76" font-size="7.0" text-anchor="middle" fill="#3a3a3a" stroke="#3a3a3a" >***</text>
<line x1="188.70" y1="368.70" x2="231.50" y2="368.70" stroke="#5e5e5e" stroke-width="0.9" />
<line x1="188.70" y1="366.90" x2="188.70" y2="370.50" stroke="#5e5e5e" stroke-width="0.9" />
<line x1="231.50" y1="366.90" x2="231.50" y2="370.50" stroke="#5e5e5e" stroke-width="0.9" />
<text x="210.10" y="369.36" font-size="7.0" text-anchor="middle" fill="#3a3a3a" stroke="#3a3a3a" >**</text>
<line x1="231.50" y1="376.20" x2="253.90" y2="376.20" stroke="#5e5e5e" stroke-width="0.9" />
<line x1="231.50" y1="374.40" x2="231.50" y2="378.00" stroke="#5e5e5e" stroke-width="0.9" />
<line x1="253.90" y1="374.40" x2="253.90" y2="378.00" stroke="#5e5e5e" stroke-width="0.9" />
<text x="242.70" y="376.86" font-size="7.0" text-anchor="middle" fill="#3a3a3a" stroke="#3a3a3a" >***</text>
<line x1="58.20" y1="474.00" x2="108.40" y2="474.00" stroke="#5e5e5e" stroke-width="0.9" />
<line x1="58.20" y1="472.20" x2="58.20" y2="475.80" stroke="#5e5e5e" stroke-width="0.9" />
<line x1="108.40" y1="472.20" x2="108.40" y2="475.80" stroke="#5e5e5e" stroke-width="0.9" />
<text x="83.30" y="474.66" font-size="7.0" text-anchor="middle" fill="#3a3a3a" stroke="#3a3a3a" >***</text>
<line x1="108.40" y1="478.80" x2="125.70" y2="478.80" stroke="#5e5e5e" stroke-width="0.9" />
<line x1="108.40" y1="477.00" x2="108.40" y2="480.60" stroke="#5e5e5e" stroke-width="0.9" />
<line x1="125.70" y1="477.00" x2="125.70" y2="480.60" stroke="#5e5e5e" stroke-width="0.9" />
<text x="117.05" y="479.46" font-size="7.0" text-anchor="middle" fill="#3a3a3a" stroke="#3a3a3a" >*</text>
<line x1="190.60" y1="479.10" x2="236.90" y2="479.10" stroke="#5e5e5e" stroke-width="0.9" />
<line x1="190.60" y1="477.30" x2="190.60" y2="480.90" stroke="#5e5e5e" stroke-width="0.9" />
<line x1="236.90" y1="477.30" x2="236.90" y2="480.90" stroke="#5e5e5e" stroke-width="0.9" />
<text x="213.75" y="479.76" font-size="7.0" text-anchor="middle" fill="#3a3a3a" stroke="#3a3a3a" >***</text>
<line x1="367.30" y1="195.00" x2="385.50" y2="195.00" stroke="#5e5e5e" stroke-width="0.9" />
<line x1="367.30" y1="193.20" x2="367.30" y2="196.80" stroke="#5e5e5e" stroke-width="0.9" />
<line x1="385.50" y1="193.20" x2="385.50" y2="196.80" stroke="#5e5e5e" stroke-width="0.9" />
<line x1="36.10" y1="586.50" x2="36.10" y2="653.30" stroke="#231f20" stroke-width="0.9" />
<line x1="36.10" y1="653.30" x2="87.80" y2="653.30" stroke="#231f20" stroke-width="0.9" />
<line x1="33.90" y1="653.30" x2="36.10" y2="653.30" stroke="#231f20" stroke-width="0.8" />
<text x="29.80" y="655.42" font-size="5.9" text-anchor="end" fill="#231f20" stroke="#231f20" textLength="3.3" lengthAdjust="spacingAndGlyphs" >0</text>
<line x1="33.90" y1="640.24" x2="36.10" y2="640.24" stroke="#231f20" stroke-width="0.8" />
<text x="29.80" y="642.36" font-size="5.9" text-anchor="end" fill="#231f20" stroke="#231f20" textLength="6.6" lengthAdjust="spacingAndGlyphs" >20</text>
<line x1="33.90" y1="627.18" x2="36.10" y2="627.18" stroke="#231f20" stroke-width="0.8" />
<text x="29.80" y="629.30" font-size="5.9" text-anchor="end" fill="#231f20" stroke="#231f20" textLength="6.6" lengthAdjust="spacingAndGlyphs" >40</text>
<line x1="33.90" y1="614.12" x2="36.10" y2="614.12" stroke="#231f20" stroke-width="0.8" />
<text x="29.80" y="616.24" font-size="5.9" text-anchor="end" fill="#231f20" stroke="#231f20" textLength="6.6" lengthAdjust="spacingAndGlyphs" >60</text>
<line x1="33.90" y1="601.06" x2="36.10" y2="601.06" stroke="#231f20" stroke-width="0.8" />
<text x="29.80" y="603.18" font-size="5.9" text-anchor="end" fill="#231f20" stroke="#231f20" textLength="6.6" lengthAdjust="spacingAndGlyphs" >80</text>
<line x1="33.90" y1="588.00" x2="36.10" y2="588.00" stroke="#231f20" stroke-width="0.8" />
<text x="29.80" y="590.12" font-size="5.9" text-anchor="end" fill="#231f20" stroke="#231f20" textLength="9.899999999999999" lengthAdjust="spacingAndGlyphs" >100</text>
<line x1="42.50" y1="653.30" x2="42.50" y2="655.30" stroke="#231f20" stroke-width="0.8" />
<line x1="56.50" y1="653.30" x2="56.50" y2="655.30" stroke="#231f20" stroke-width="0.8" />
<line x1="70.30" y1="653.30" x2="70.30" y2="655.30" stroke="#231f20" stroke-width="0.8" />
<line x1="84.40" y1="653.30" x2="84.40" y2="655.30" stroke="#231f20" stroke-width="0.8" />
<text x="63.60" y="580.90" font-size="8.6" text-anchor="middle" fill="#231f20" stroke="#231f20" >IL-6</text>
<text transform="translate(12.40,618.50) rotate(-90)" x="0" y="2.59" font-size="7.2" text-anchor="middle" fill="#231f20" stroke="#231f20" textLength="39.3" lengthAdjust="spacingAndGlyphs" >pg/ml serum</text>
<text x="43.40" y="665.48" font-size="6.6" text-anchor="middle" fill="#231f20" stroke="#231f20" textLength="10.4" lengthAdjust="spacingAndGlyphs" >Ctrl</text>
<text x="57.00" y="665.48" font-size="6.6" text-anchor="middle" fill="#231f20" stroke="#231f20" textLength="9.7" lengthAdjust="spacingAndGlyphs" >Veh</text>
<text x="69.90" y="665.48" font-size="6.6" text-anchor="middle" fill="#231f20" stroke="#231f20" textLength="13.2" lengthAdjust="spacingAndGlyphs" >Ruxo</text>
<text x="83.90" y="665.48" font-size="6.6" text-anchor="middle" fill="#231f20" stroke="#231f20" textLength="10.6" lengthAdjust="spacingAndGlyphs" >Pac</text>
<line x1="52.10" y1="666.30" x2="90.40" y2="666.30" stroke="#231f20" stroke-width="0.8" />
<text x="71.30" y="674.26" font-size="7.4" text-anchor="middle" fill="#231f20" stroke="#231f20" textLength="27.8" lengthAdjust="spacingAndGlyphs" >ITK-SYK</text>
<line x1="37.50" y1="653.20" x2="46.50" y2="653.20" stroke="#bbb" stroke-width="0.8" />
<line x1="42.00" y1="653.20" x2="42.00" y2="653.20" stroke="#bbb" stroke-width="0.8" />
<line x1="39.80" y1="653.20" x2="44.20" y2="653.20" stroke="#bbb" stroke-width="0.8" />
<line x1="39.80" y1="653.20" x2="44.20" y2="653.20" stroke="#bbb" stroke-width="0.8" />
<circle cx="42.00" cy="653.20" r="1.2" fill="#bbb"/>
<line x1="52.20" y1="639.20" x2="61.20" y2="639.20" stroke="#b88a58" stroke-width="0.8" />
<line x1="56.70" y1="637.00" x2="56.70" y2="641.50" stroke="#b88a58" stroke-width="0.8" />
<line x1="54.50" y1="637.00" x2="58.90" y2="637.00" stroke="#b88a58" stroke-width="0.8" />
<line x1="54.50" y1="641.50" x2="58.90" y2="641.50" stroke="#b88a58" stroke-width="0.8" />
<circle cx="55.70" cy="637.50" r="1.2" fill="#6a4020"/>
<circle cx="57.70" cy="639.50" r="1.2" fill="#6a4020"/>
<circle cx="56.70" cy="641.50" r="1.2" fill="#6a4020"/>
<circle cx="56.20" cy="643.00" r="1.2" fill="#6a4020"/>
<line x1="65.90" y1="648.20" x2="74.90" y2="648.20" stroke="#d8406a" stroke-width="0.8" />
<line x1="70.40" y1="647.50" x2="70.40" y2="649.00" stroke="#d8406a" stroke-width="0.8" />
<line x1="68.20" y1="647.50" x2="72.60" y2="647.50" stroke="#d8406a" stroke-width="0.8" />
<line x1="68.20" y1="649.00" x2="72.60" y2="649.00" stroke="#d8406a" stroke-width="0.8" />
<circle cx="68.90" cy="647.80" r="1.2" fill="#b80a36"/>
<circle cx="70.40" cy="648.30" r="1.2" fill="#b80a36"/>
<circle cx="71.90" cy="647.80" r="1.2" fill="#b80a36"/>
<line x1="80.00" y1="635.40" x2="89.00" y2="635.40" stroke="#6cc46c" stroke-width="0.8" />
<line x1="84.50" y1="628.60" x2="84.50" y2="642.70" stroke="#6cc46c" stroke-width="0.8" />
<line x1="82.30" y1="628.60" x2="86.70" y2="628.60" stroke="#6cc46c" stroke-width="0.8" />
<line x1="82.30" y1="642.70" x2="86.70" y2="642.70" stroke="#6cc46c" stroke-width="0.8" />
<circle cx="84.50" cy="620.80" r="1.2" fill="#2a8a30"/>
<circle cx="84.50" cy="639.00" r="1.2" fill="#2a8a30"/>
<circle cx="84.50" cy="647.30" r="1.2" fill="#2a8a30"/>
<line x1="57.00" y1="608.00" x2="84.50" y2="608.00" stroke="#5e5e5e" stroke-width="0.9" />
<line x1="57.00" y1="606.20" x2="57.00" y2="609.80" stroke="#5e5e5e" stroke-width="0.9" />
<line x1="84.50" y1="606.20" x2="84.50" y2="609.80" stroke="#5e5e5e" stroke-width="0.9" />
<text x="70.75" y="608.34" font-size="6.6" text-anchor="middle" fill="#3a3a3a" stroke="#3a3a3a" >ns</text>
<line x1="57.00" y1="614.00" x2="71.30" y2="614.00" stroke="#5e5e5e" stroke-width="0.9" />
<line x1="57.00" y1="612.20" x2="57.00" y2="615.80" stroke="#5e5e5e" stroke-width="0.9" />
<line x1="71.30" y1="612.20" x2="71.30" y2="615.80" stroke="#5e5e5e" stroke-width="0.9" />
<text x="64.15" y="615.36" font-size="7.0" text-anchor="middle" fill="#3a3a3a" stroke="#3a3a3a" >**</text>
<line x1="122.00" y1="586.50" x2="122.00" y2="653.30" stroke="#231f20" stroke-width="0.9" />
<line x1="122.00" y1="653.30" x2="173.20" y2="653.30" stroke="#231f20" stroke-width="0.9" />
<line x1="119.80" y1="653.30" x2="122.00" y2="653.30" stroke="#231f20" stroke-width="0.8" />
<text x="115.70" y="655.42" font-size="5.9" text-anchor="end" fill="#231f20" stroke="#231f20" textLength="3.3" lengthAdjust="spacingAndGlyphs" >0</text>
<line x1="119.80" y1="640.24" x2="122.00" y2="640.24" stroke="#231f20" stroke-width="0.8" />
<text x="115.70" y="642.36" font-size="5.9" text-anchor="end" fill="#231f20" stroke="#231f20" textLength="6.6" lengthAdjust="spacingAndGlyphs" >20</text>
<line x1="119.80" y1="627.18" x2="122.00" y2="627.18" stroke="#231f20" stroke-width="0.8" />
<text x="115.70" y="629.30" font-size="5.9" text-anchor="end" fill="#231f20" stroke="#231f20" textLength="6.6" lengthAdjust="spacingAndGlyphs" >40</text>
<line x1="119.80" y1="614.12" x2="122.00" y2="614.12" stroke="#231f20" stroke-width="0.8" />
<text x="115.70" y="616.24" font-size="5.9" text-anchor="end" fill="#231f20" stroke="#231f20" textLength="6.6" lengthAdjust="spacingAndGlyphs" >60</text>
<line x1="119.80" y1="601.06" x2="122.00" y2="601.06" stroke="#231f20" stroke-width="0.8" />
<text x="115.70" y="603.18" font-size="5.9" text-anchor="end" fill="#231f20" stroke="#231f20" textLength="6.6" lengthAdjust="spacingAndGlyphs" >80</text>
<line x1="119.80" y1="588.00" x2="122.00" y2="588.00" stroke="#231f20" stroke-width="0.8" />
<text x="115.70" y="590.12" font-size="5.9" text-anchor="end" fill="#231f20" stroke="#231f20" textLength="9.899999999999999" lengthAdjust="spacingAndGlyphs" >100</text>
<line x1="128.40" y1="653.30" x2="128.40" y2="655.30" stroke="#231f20" stroke-width="0.8" />
<line x1="142.50" y1="653.30" x2="142.50" y2="655.30" stroke="#231f20" stroke-width="0.8" />
<line x1="156.20" y1="653.30" x2="156.20" y2="655.30" stroke="#231f20" stroke-width="0.8" />
<line x1="169.90" y1="653.30" x2="169.90" y2="655.30" stroke="#231f20" stroke-width="0.8" />
<text x="148.00" y="580.90" font-size="8.6" text-anchor="middle" fill="#231f20" stroke="#231f20" >IFNγ</text>
<text transform="translate(102.40,618.50) rotate(-90)" x="0" y="2.59" font-size="7.2" text-anchor="middle" fill="#231f20" stroke="#231f20" textLength="39.3" lengthAdjust="spacingAndGlyphs" >pg/ml serum</text>
<text x="129.30" y="665.48" font-size="6.6" text-anchor="middle" fill="#231f20" stroke="#231f20" textLength="10.4" lengthAdjust="spacingAndGlyphs" >Ctrl</text>
<text x="143.00" y="665.48" font-size="6.6" text-anchor="middle" fill="#231f20" stroke="#231f20" textLength="9.7" lengthAdjust="spacingAndGlyphs" >Veh</text>
<text x="155.80" y="665.48" font-size="6.6" text-anchor="middle" fill="#231f20" stroke="#231f20" textLength="13.2" lengthAdjust="spacingAndGlyphs" >Ruxo</text>
<text x="169.40" y="665.48" font-size="6.6" text-anchor="middle" fill="#231f20" stroke="#231f20" textLength="10.6" lengthAdjust="spacingAndGlyphs" >Pac</text>
<line x1="138.10" y1="666.30" x2="175.90" y2="666.30" stroke="#231f20" stroke-width="0.8" />
<text x="156.70" y="674.26" font-size="7.4" text-anchor="middle" fill="#231f20" stroke="#231f20" textLength="27.8" lengthAdjust="spacingAndGlyphs" >ITK-SYK</text>
<line x1="123.90" y1="653.20" x2="132.90" y2="653.20" stroke="#bbb" stroke-width="0.8" />
<line x1="128.40" y1="653.20" x2="128.40" y2="653.20" stroke="#bbb" stroke-width="0.8" />
<line x1="126.20" y1="653.20" x2="130.60" y2="653.20" stroke="#bbb" stroke-width="0.8" />
<line x1="126.20" y1="653.20" x2="130.60" y2="653.20" stroke="#bbb" stroke-width="0.8" />
<circle cx="128.40" cy="653.20" r="1.2" fill="#bbb"/>
<line x1="138.00" y1="622.20" x2="147.00" y2="622.20" stroke="#b88a58" stroke-width="0.8" />
<line x1="142.50" y1="616.20" x2="142.50" y2="627.20" stroke="#b88a58" stroke-width="0.8" />
<line x1="140.30" y1="616.20" x2="144.70" y2="616.20" stroke="#b88a58" stroke-width="0.8" />
<line x1="140.30" y1="627.20" x2="144.70" y2="627.20" stroke="#b88a58" stroke-width="0.8" />
<circle cx="142.50" cy="609.80" r="1.2" fill="#6a4020"/>
<circle cx="142.50" cy="622.60" r="1.2" fill="#6a4020"/>
<circle cx="142.50" cy="630.30" r="1.2" fill="#6a4020"/>
<line x1="151.70" y1="640.90" x2="160.70" y2="640.90" stroke="#d8406a" stroke-width="0.8" />
<line x1="156.20" y1="638.00" x2="156.20" y2="644.00" stroke="#d8406a" stroke-width="0.8" />
<line x1="154.00" y1="638.00" x2="158.40" y2="638.00" stroke="#d8406a" stroke-width="0.8" />
<line x1="154.00" y1="644.00" x2="158.40" y2="644.00" stroke="#d8406a" stroke-width="0.8" />
<circle cx="155.20" cy="636.80" r="1.2" fill="#b80a36"/>
<circle cx="157.40" cy="639.60" r="1.2" fill="#b80a36"/>
<circle cx="156.20" cy="646.40" r="1.2" fill="#b80a36"/>
<line x1="165.40" y1="619.80" x2="174.40" y2="619.80" stroke="#6cc46c" stroke-width="0.8" />
<line x1="169.90" y1="617.00" x2="169.90" y2="622.50" stroke="#6cc46c" stroke-width="0.8" />
<line x1="167.70" y1="617.00" x2="172.10" y2="617.00" stroke="#6cc46c" stroke-width="0.8" />
<line x1="167.70" y1="622.50" x2="172.10" y2="622.50" stroke="#6cc46c" stroke-width="0.8" />
<circle cx="168.90" cy="616.20" r="1.2" fill="#2a8a30"/>
<circle cx="170.90" cy="617.50" r="1.2" fill="#2a8a30"/>
<circle cx="169.90" cy="621.00" r="1.2" fill="#2a8a30"/>
<circle cx="169.40" cy="623.10" r="1.2" fill="#2a8a30"/>
<line x1="143.00" y1="593.00" x2="169.90" y2="593.00" stroke="#5e5e5e" stroke-width="0.9" />
<line x1="143.00" y1="591.20" x2="143.00" y2="594.80" stroke="#5e5e5e" stroke-width="0.9" />
<line x1="169.90" y1="591.20" x2="169.90" y2="594.80" stroke="#5e5e5e" stroke-width="0.9" />
<text x="156.45" y="593.34" font-size="6.6" text-anchor="middle" fill="#3a3a3a" stroke="#3a3a3a" >ns</text>
<line x1="143.00" y1="598.80" x2="157.30" y2="598.80" stroke="#5e5e5e" stroke-width="0.9" />
<line x1="143.00" y1="597.00" x2="143.00" y2="600.60" stroke="#5e5e5e" stroke-width="0.9" />
<line x1="157.30" y1="597.00" x2="157.30" y2="600.60" stroke="#5e5e5e" stroke-width="0.9" />
<text x="150.15" y="600.16" font-size="7.0" text-anchor="middle" fill="#3a3a3a" stroke="#3a3a3a" >*</text>
<line x1="208.80" y1="586.50" x2="208.80" y2="653.50" stroke="#231f20" stroke-width="0.9" />
<line x1="208.80" y1="653.50" x2="259.80" y2="653.50" stroke="#231f20" stroke-width="0.9" />
<line x1="206.60" y1="653.50" x2="208.80" y2="653.50" stroke="#231f20" stroke-width="0.8" />
<text x="202.50" y="655.62" font-size="5.9" text-anchor="end" fill="#231f20" stroke="#231f20" textLength="3.3" lengthAdjust="spacingAndGlyphs" >0</text>
<line x1="206.60" y1="631.67" x2="208.80" y2="631.67" stroke="#231f20" stroke-width="0.8" />
<text x="202.50" y="633.79" font-size="5.9" text-anchor="end" fill="#231f20" stroke="#231f20" textLength="6.6" lengthAdjust="spacingAndGlyphs" >50</text>
<line x1="206.60" y1="609.83" x2="208.80" y2="609.83" stroke="#231f20" stroke-width="0.8" />
<text x="202.50" y="611.96" font-size="5.9" text-anchor="end" fill="#231f20" stroke="#231f20" textLength="9.899999999999999" lengthAdjust="spacingAndGlyphs" >100</text>
<line x1="206.60" y1="588.00" x2="208.80" y2="588.00" stroke="#231f20" stroke-width="0.8" />
<text x="202.50" y="590.12" font-size="5.9" text-anchor="end" fill="#231f20" stroke="#231f20" textLength="9.899999999999999" lengthAdjust="spacingAndGlyphs" >150</text>
<line x1="214.60" y1="653.50" x2="214.60" y2="655.50" stroke="#231f20" stroke-width="0.8" />
<line x1="228.50" y1="653.50" x2="228.50" y2="655.50" stroke="#231f20" stroke-width="0.8" />
<line x1="243.00" y1="653.50" x2="243.00" y2="655.50" stroke="#231f20" stroke-width="0.8" />
<line x1="256.90" y1="653.50" x2="256.90" y2="655.50" stroke="#231f20" stroke-width="0.8" />
<text x="235.80" y="580.90" font-size="8.6" text-anchor="middle" fill="#231f20" stroke="#231f20" >IL-5</text>
<text transform="translate(184.80,618.50) rotate(-90)" x="0" y="2.59" font-size="7.2" text-anchor="middle" fill="#231f20" stroke="#231f20" textLength="39.3" lengthAdjust="spacingAndGlyphs" >pg/ml serum</text>
<text x="215.50" y="665.48" font-size="6.6" text-anchor="middle" fill="#231f20" stroke="#231f20" textLength="10.4" lengthAdjust="spacingAndGlyphs" >Ctrl</text>
<text x="229.00" y="665.48" font-size="6.6" text-anchor="middle" fill="#231f20" stroke="#231f20" textLength="9.7" lengthAdjust="spacingAndGlyphs" >Veh</text>
<text x="242.60" y="665.48" font-size="6.6" text-anchor="middle" fill="#231f20" stroke="#231f20" textLength="13.2" lengthAdjust="spacingAndGlyphs" >Ruxo</text>
<text x="256.40" y="665.48" font-size="6.6" text-anchor="middle" fill="#231f20" stroke="#231f20" textLength="10.6" lengthAdjust="spacingAndGlyphs" >Pac</text>
<line x1="224.10" y1="666.30" x2="262.90" y2="666.30" stroke="#231f20" stroke-width="0.8" />
<text x="243.50" y="674.26" font-size="7.4" text-anchor="middle" fill="#231f20" stroke="#231f20" textLength="27.8" lengthAdjust="spacingAndGlyphs" >ITK-SYK</text>
<line x1="210.10" y1="653.00" x2="219.10" y2="653.00" stroke="#bbb" stroke-width="0.8" />
<line x1="214.60" y1="653.00" x2="214.60" y2="653.00" stroke="#bbb" stroke-width="0.8" />
<line x1="212.40" y1="653.00" x2="216.80" y2="653.00" stroke="#bbb" stroke-width="0.8" />
<line x1="212.40" y1="653.00" x2="216.80" y2="653.00" stroke="#bbb" stroke-width="0.8" />
<circle cx="214.60" cy="653.00" r="1.2" fill="#bbb"/>
<line x1="224.00" y1="638.70" x2="233.00" y2="638.70" stroke="#b88a58" stroke-width="0.8" />
<line x1="228.50" y1="633.30" x2="228.50" y2="644.40" stroke="#b88a58" stroke-width="0.8" />
<line x1="226.30" y1="633.30" x2="230.70" y2="633.30" stroke="#b88a58" stroke-width="0.8" />
<line x1="226.30" y1="644.40" x2="230.70" y2="644.40" stroke="#b88a58" stroke-width="0.8" />
<circle cx="228.50" cy="626.90" r="1.2" fill="#6a4020"/>
<circle cx="227.00" cy="644.40" r="1.2" fill="#6a4020"/>
<circle cx="230.00" cy="644.80" r="1.2" fill="#6a4020"/>
<line x1="238.50" y1="638.00" x2="247.50" y2="638.00" stroke="#d8406a" stroke-width="0.8" />
<line x1="243.00" y1="628.50" x2="243.00" y2="645.00" stroke="#d8406a" stroke-width="0.8" />
<line x1="240.80" y1="628.50" x2="245.20" y2="628.50" stroke="#d8406a" stroke-width="0.8" />
<line x1="240.80" y1="645.00" x2="245.20" y2="645.00" stroke="#d8406a" stroke-width="0.8" />
<circle cx="241.50" cy="631.30" r="1.2" fill="#b80a36"/>
<circle cx="246.00" cy="631.30" r="1.2" fill="#b80a36"/>
<circle cx="243.00" cy="643.50" r="1.2" fill="#b80a36"/>
<circle cx="243.00" cy="651.20" r="1.2" fill="#b80a36"/>
<line x1="252.40" y1="620.40" x2="261.40" y2="620.40" stroke="#6cc46c" stroke-width="0.8" />
<line x1="256.90" y1="609.60" x2="256.90" y2="631.30" stroke="#6cc46c" stroke-width="0.8" />
<line x1="254.70" y1="609.60" x2="259.10" y2="609.60" stroke="#6cc46c" stroke-width="0.8" />
<line x1="254.70" y1="631.30" x2="259.10" y2="631.30" stroke="#6cc46c" stroke-width="0.8" />
<circle cx="256.90" cy="606.90" r="1.2" fill="#2a8a30"/>
<circle cx="256.90" cy="610.20" r="1.2" fill="#2a8a30"/>
<circle cx="256.90" cy="641.90" r="1.2" fill="#2a8a30"/>
<text x="277.50" y="296.36" font-size="1" text-anchor="middle" fill="#231f20" stroke="#231f20" ></text>
<text x="398.30" y="306.02" font-size="9.5" text-anchor="middle" fill="#231f20" stroke="#231f20" textLength="27.5" lengthAdjust="spacingAndGlyphs" >CD11b</text>
<text x="324.70" y="316.87" font-size="6.3" text-anchor="middle" fill="#231f20" stroke="#231f20" textLength="35.5" lengthAdjust="spacingAndGlyphs" >ITK-SYK Veh</text>
<text x="398.10" y="316.77" font-size="6.3" text-anchor="middle" fill="#231f20" stroke="#231f20" textLength="39" lengthAdjust="spacingAndGlyphs" >ITK-SYK Ruxo</text>
<text x="471.30" y="316.77" font-size="6.3" text-anchor="middle" fill="#231f20" stroke="#231f20" textLength="37.5" lengthAdjust="spacingAndGlyphs" >ITK-SYK Pacr</text>
<defs>
<filter id="hblur" x="-5%" y="-5%" width="110%" height="110%"><feGaussianBlur stdDeviation="5"/></filter>
<filter id="hnoise" x="0" y="0" width="100%" height="100%" filterUnits="objectBoundingBox">
<feTurbulence type="fractalNoise" baseFrequency="0.9" numOctaves="2" seed="7" result="t"/>
<feColorMatrix type="matrix" values="0 0 0 0 0  0 0 0 0 0  0 0 0 0 0  0 0 0 -2.2 1.25" />
</filter>
<filter id="hnoise2" x="0" y="0" width="100%" height="100%" filterUnits="objectBoundingBox">
<feTurbulence type="fractalNoise" baseFrequency="0.9" numOctaves="2" seed="11" result="t"/>
<feColorMatrix type="matrix" values="0 0 0 0 1  0 0 0 0 1  0 0 0 0 1  0 0 0 -2.2 1.25" />
</filter>
</defs>
<clipPath id="hc00"><rect x="288.5" y="321.2" width="72.10" height="51.70"/></clipPath>
<g clip-path="url(#hc00)"><g transform="translate(286,318) scale(0.150000)" filter="url(#hblur)">
<rect x="0" y="0" width="520" height="387" fill="#cda6b6"/>
<path d="M130,110 C170,95 250,90 300,115 C345,150 320,200 335,240 C310,280 260,330 210,350 C170,355 140,340 120,300 C100,260 105,220 100,190 C110,150 115,130 130,110 Z" fill="#b28294" />
<ellipse cx="295" cy="38" rx="40" ry="22" fill="#f1e5c9" />
<ellipse cx="70" cy="40" rx="20" ry="8" fill="#e8d0d0" />
</g>
<rect x="288.5" y="321.2" width="72.10" height="51.70" filter="url(#hnoise)" opacity="0.16"/>
<rect x="288.5" y="321.2" width="72.10" height="51.70" filter="url(#hnoise2)" opacity="0.16"/>
</g>
<clipPath id="hc01"><rect x="361.8" y="321.2" width="72.50" height="51.70"/></clipPath>
<g clip-path="url(#hc01)"><g transform="translate(360,318) scale(0.150000)" filter="url(#hblur)">
<rect x="0" y="0" width="520" height="387" fill="#c6a0c0"/>
<polygon points="145,360 235,360 330,220 400,130 425,70 395,62 330,130 270,200 200,280" fill="#f2e4c8" stroke="#a0709c" stroke-width="8" stroke-opacity="0.6"/>
<ellipse cx="115" cy="135" rx="16" ry="22" fill="#4a3a4a" />
<ellipse cx="340" cy="265" rx="25" ry="18" fill="#b08cbc" />
<ellipse cx="430" cy="360" rx="60" ry="20" fill="#f0e8ee" />
</g>
<rect x="361.8" y="321.2" width="72.50" height="51.70" filter="url(#hnoise)" opacity="0.16"/>
<rect x="361.8" y="321.2" width="72.50" height="51.70" filter="url(#hnoise2)" opacity="0.16"/>
</g>
<clipPath id="hc02"><rect x="435.4" y="321.2" width="71.60" height="51.70"/></clipPath>
<g clip-path="url(#hc02)"><g transform="translate(432,318) scale(0.150000)" filter="url(#hblur)">
<rect x="0" y="0" width="520" height="387" fill="#d8cabf"/>
<ellipse cx="150" cy="120" rx="120" ry="70" fill="#d2c0b2" opacity="0.7"/>
<polygon points="17,250 120,225 250,195 360,140 430,100 495,70 495,120 430,150 360,185 260,235 130,275 17,300" fill="#e2e4e2" />
<polygon points="370,25 495,100 495,112 362,33" fill="#5e4436" />
<polygon points="180,250 360,195 364,203 184,258" fill="#a08070" opacity="0.8"/>
<ellipse cx="96" cy="269" rx="3" ry="3" fill="#6a5a58" />
<ellipse cx="396" cy="281" rx="3" ry="3" fill="#6a5a58" />
<ellipse cx="19" cy="237" rx="2" ry="4" fill="#6a5a58" />
<ellipse cx="128" cy="223" rx="3" ry="2" fill="#6a5a58" />
<ellipse cx="435" cy="262" rx="2" ry="2" fill="#6a5a58" />
<ellipse cx="72" cy="295" rx="2" ry="3" fill="#6a5a58" />
<ellipse cx="77" cy="293" rx="3" ry="3" fill="#6a5a58" />
<ellipse cx="249" cy="219" rx="3" ry="2" fill="#6a5a58" />
<ellipse cx="390" cy="221" rx="5" ry="5" fill="#6a5a58" />
<ellipse cx="382" cy="258" rx="3" ry="3" fill="#6a5a58" />
<ellipse cx="412" cy="220" rx="5" ry="4" fill="#6a5a58" />
<ellipse cx="192" cy="245" rx="4" ry="3" fill="#6a5a58" />
<ellipse cx="30" cy="209" rx="4" ry="3" fill="#6a5a58" />
<ellipse cx="252" cy="255" rx="3" ry="4" fill="#6a5a58" />
<ellipse cx="283" cy="262" rx="2" ry="2" fill="#6a5a58" />
<ellipse cx="460" cy="235" rx="3" ry="2" fill="#6a5a58" />
<ellipse cx="48" cy="281" rx="3" ry="4" fill="#6a5a58" />
<ellipse cx="340" cy="290" rx="4" ry="5" fill="#6a5a58" />
<ellipse cx="477" cy="259" rx="4" ry="3" fill="#6a5a58" />
<ellipse cx="135" cy="288" rx="2" ry="3" fill="#6a5a58" />
<ellipse cx="387" cy="248" rx="3" ry="3" fill="#6a5a58" />
<ellipse cx="156" cy="242" rx="2" ry="2" fill="#6a5a58" />
<ellipse cx="447" cy="298" rx="3" ry="3" fill="#6a5a58" />
<ellipse cx="475" cy="253" rx="2" ry="3" fill="#6a5a58" />
<ellipse cx="418" cy="280" rx="4" ry="4" fill="#6a5a58" />
<ellipse cx="295" cy="285" rx="3" ry="2" fill="#6a5a58" />
<ellipse cx="384" cy="201" rx="4" ry="2" fill="#6a5a58" />
<ellipse cx="301" cy="264" rx="4" ry="3" fill="#6a5a58" />
<ellipse cx="211" cy="296" rx="3" ry="3" fill="#6a5a58" />
<ellipse cx="62" cy="203" rx="2" ry="4" fill="#6a5a58" />
</g>
<rect x="435.4" y="321.2" width="71.60" height="51.70" filter="url(#hnoise)" opacity="0.16"/>
<rect x="435.4" y="321.2" width="71.60" height="51.70" filter="url(#hnoise2)" opacity="0.16"/>
</g>
<clipPath id="hc10"><rect x="288.5" y="373.9" width="72.10" height="52.70"/></clipPath>
<g clip-path="url(#hc10)"><g transform="translate(286,371) scale(0.150000)" filter="url(#hblur)">
<rect x="0" y="0" width="520" height="387" fill="#c89aa0"/>
<polygon points="17,20 225,20 180,40 130,65 80,100 40,130 17,150" fill="#e0e3e3" />
<path d="M225,20 C180,40 130,65 80,100 C50,120 30,140 17,150" fill="none" stroke="#9a5a50" stroke-width="14"/>
<ellipse cx="370" cy="322" rx="7" ry="4" fill="#b07870" />
<ellipse cx="352" cy="142" rx="7" ry="10" fill="#b07870" />
<ellipse cx="375" cy="304" rx="8" ry="9" fill="#b07870" />
<ellipse cx="110" cy="244" rx="11" ry="9" fill="#b07870" />
<ellipse cx="193" cy="349" rx="5" ry="5" fill="#b07870" />
<ellipse cx="129" cy="198" rx="6" ry="5" fill="#b07870" />
<ellipse cx="449" cy="342" rx="7" ry="4" fill="#b07870" />
<ellipse cx="102" cy="280" rx="10" ry="11" fill="#b07870" />
<ellipse cx="434" cy="184" rx="11" ry="6" fill="#b07870" />
<ellipse cx="275" cy="157" rx="5" ry="5" fill="#b07870" />
<ellipse cx="484" cy="152" rx="9" ry="8" fill="#b07870" />
<ellipse cx="291" cy="178" rx="7" ry="8" fill="#b07870" />
<ellipse cx="342" cy="214" rx="8" ry="9" fill="#b07870" />
<ellipse cx="422" cy="180" rx="5" ry="5" fill="#b07870" />
<ellipse cx="440" cy="180" rx="5" ry="6" fill="#b07870" />
<ellipse cx="196" cy="228" rx="6" ry="11" fill="#b07870" />
<ellipse cx="369" cy="315" rx="8" ry="7" fill="#b07870" />
<ellipse cx="232" cy="173" rx="5" ry="5" fill="#b07870" />
<ellipse cx="455" cy="312" rx="6" ry="7" fill="#b07870" />
<ellipse cx="296" cy="286" rx="7" ry="8" fill="#b07870" />
<ellipse cx="176" cy="212" rx="8" ry="10" fill="#b07870" />
<ellipse cx="233" cy="125" rx="5" ry="8" fill="#b07870" />
<ellipse cx="428" cy="247" rx="8" ry="9" fill="#b07870" />
<ellipse cx="136" cy="132" rx="7" ry="11" fill="#b07870" />
<ellipse cx="302" cy="288" rx="5" ry="5" fill="#b07870" />
<ellipse cx="105" cy="164" rx="5" ry="4" fill="#b07870" />
<ellipse cx="407" cy="239" rx="7" ry="9" fill="#b07870" />
<ellipse cx="257" cy="276" rx="8" ry="8" fill="#b07870" />
<ellipse cx="422" cy="202" rx="4" ry="4" fill="#b07870" />
<ellipse cx="481" cy="188" rx="8" ry="10" fill="#b07870" />
<ellipse cx="168" cy="194" rx="9" ry="11" fill="#b07870" />
<ellipse cx="163" cy="185" rx="4" ry="6" fill="#b07870" />
<ellipse cx="305" cy="234" rx="7" ry="7" fill="#b07870" />
<ellipse cx="128" cy="131" rx="6" ry="6" fill="#b07870" />
<ellipse cx="158" cy="176" rx="6" ry="7" fill="#b07870" />
<ellipse cx="164" cy="199" rx="7" ry="6" fill="#b07870" />
<ellipse cx="469" cy="178" rx="8" ry="10" fill="#b07870" />
<ellipse cx="219" cy="175" rx="11" ry="9" fill="#b07870" />
<ellipse cx="205" cy="140" rx="8" ry="6" fill="#b07870" />
<ellipse cx="255" cy="255" rx="4" ry="5" fill="#b07870" />
<ellipse cx="481" cy="329" rx="7" ry="7" fill="#b07870" />
<ellipse cx="314" cy="206" rx="6" ry="6" fill="#b07870" />
<ellipse cx="153" cy="154" rx="6" ry="6" fill="#b07870" />
<ellipse cx="285" cy="267" rx="7" ry="8" fill="#b07870" />
<ellipse cx="255" cy="329" rx="6" ry="4" fill="#b07870" />
<ellipse cx="326" cy="334" rx="4" ry="3" fill="#b07870" />
<ellipse cx="281" cy="237" rx="10" ry="12" fill="#b07870" />
<ellipse cx="377" cy="322" rx="5" ry="7" fill="#b07870" />
<ellipse cx="109" cy="270" rx="5" ry="6" fill="#b07870" />
<ellipse cx="478" cy="168" rx="5" ry="6" fill="#b07870" />
<ellipse cx="300" cy="320" rx="35" ry="25" fill="#f2ecec" />
<ellipse cx="320" cy="50" rx="15" ry="25" fill="#a0503a" />
</g>
<rect x="288.5" y="373.9" width="72.10" height="52.70" filter="url(#hnoise)" opacity="0.16"/>
<rect x="288.5" y="373.9" width="72.10" height="52.70" filter="url(#hnoise2)" opacity="0.16"/>
</g>
<clipPath id="hc11"><rect x="361.8" y="373.9" width="72.50" height="52.70"/></clipPath>
<g clip-path="url(#hc11)"><g transform="translate(360,371) scale(0.150000)" filter="url(#hblur)">
<rect x="0" y="0" width="520" height="387" fill="#cec6d5"/>
<polygon points="17,20 290,20 300,70 320,100 380,88 440,110 495,150 495,362 340,362 300,300 250,220 190,140 110,95 17,75" fill="#a886aa" />
<ellipse cx="311" cy="342" rx="7" ry="10" fill="#7c5a84" />
<ellipse cx="388" cy="130" rx="7" ry="8" fill="#7c5a84" />
<ellipse cx="325" cy="261" rx="5" ry="6" fill="#7c5a84" />
<ellipse cx="351" cy="311" rx="9" ry="6" fill="#7c5a84" />
<ellipse cx="306" cy="233" rx="6" ry="5" fill="#7c5a84" />
<ellipse cx="229" cy="260" rx="5" ry="5" fill="#7c5a84" />
<ellipse cx="336" cy="137" rx="7" ry="5" fill="#7c5a84" />
<ellipse cx="458" cy="130" rx="6" ry="4" fill="#7c5a84" />
<ellipse cx="325" cy="254" rx="6" ry="6" fill="#7c5a84" />
<ellipse cx="342" cy="134" rx="7" ry="6" fill="#7c5a84" />
<ellipse cx="320" cy="315" rx="7" ry="7" fill="#7c5a84" />
<ellipse cx="265" cy="268" rx="4" ry="4" fill="#7c5a84" />
<ellipse cx="227" cy="284" rx="10" ry="7" fill="#7c5a84" />
<ellipse cx="243" cy="348" rx="5" ry="6" fill="#7c5a84" />
<ellipse cx="383" cy="250" rx="6" ry="6" fill="#7c5a84" />
<ellipse cx="335" cy="284" rx="6" ry="8" fill="#7c5a84" />
<ellipse cx="233" cy="301" rx="7" ry="7" fill="#7c5a84" />
<ellipse cx="367" cy="266" rx="4" ry="6" fill="#7c5a84" />
<ellipse cx="276" cy="147" rx="8" ry="6" fill="#7c5a84" />
<ellipse cx="353" cy="159" rx="7" ry="11" fill="#7c5a84" />
<ellipse cx="381" cy="139" rx="8" ry="7" fill="#7c5a84" />
<ellipse cx="246" cy="208" rx="4" ry="6" fill="#7c5a84" />
<ellipse cx="405" cy="172" rx="8" ry="8" fill="#7c5a84" />
<ellipse cx="251" cy="138" rx="8" ry="7" fill="#7c5a84" />
<ellipse cx="436" cy="183" rx="8" ry="7" fill="#7c5a84" />
<ellipse cx="336" cy="189" rx="7" ry="7" fill="#7c5a84" />
<ellipse cx="453" cy="186" rx="6" ry="4" fill="#7c5a84" />
<ellipse cx="285" cy="298" rx="8" ry="9" fill="#7c5a84" />
<ellipse cx="217" cy="237" rx="6" ry="5" fill="#7c5a84" />
<ellipse cx="293" cy="339" rx="7" ry="6" fill="#7c5a84" />
<ellipse cx="215" cy="143" rx="5" ry="5" fill="#7c5a84" />
<ellipse cx="238" cy="331" rx="8" ry="9" fill="#7c5a84" />
<ellipse cx="293" cy="337" rx="11" ry="6" fill="#7c5a84" />
<ellipse cx="451" cy="356" rx="6" ry="5" fill="#7c5a84" />
<ellipse cx="210" cy="290" rx="9" ry="6" fill="#7c5a84" />
<ellipse cx="486" cy="138" rx="6" ry="4" fill="#7c5a84" />
<ellipse cx="253" cy="215" rx="6" ry="9" fill="#7c5a84" />
<ellipse cx="399" cy="213" rx="4" ry="8" fill="#7c5a84" />
<ellipse cx="291" cy="345" rx="7" ry="5" fill="#7c5a84" />
<ellipse cx="348" cy="144" rx="7" ry="8" fill="#7c5a84" />
<ellipse cx="228" cy="145" rx="5" ry="4" fill="#ece8f0" />
<ellipse cx="237" cy="298" rx="5" ry="4" fill="#ece8f0" />
<ellipse cx="197" cy="349" rx="8" ry="11" fill="#ece8f0" />
<ellipse cx="240" cy="354" rx="5" ry="3" fill="#ece8f0" />
<ellipse cx="54" cy="253" rx="10" ry="8" fill="#ece8f0" />
<ellipse cx="251" cy="98" rx="8" ry="9" fill="#ece8f0" />
<ellipse cx="52" cy="102" rx="4" ry="4" fill="#ece8f0" />
<ellipse cx="248" cy="322" rx="7" ry="5" fill="#ece8f0" />
<ellipse cx="266" cy="158" rx="8" ry="8" fill="#ece8f0" />
<ellipse cx="164" cy="106" rx="4" ry="5" fill="#ece8f0" />
<ellipse cx="30" cy="201" rx="7" ry="8" fill="#ece8f0" />
<ellipse cx="43" cy="238" rx="5" ry="6" fill="#ece8f0" />
<ellipse cx="217" cy="248" rx="3" ry="4" fill="#ece8f0" />
<ellipse cx="40" cy="126" rx="8" ry="11" fill="#ece8f0" />
<ellipse cx="232" cy="301" rx="10" ry="8" fill="#ece8f0" />
<ellipse cx="150" cy="196" rx="3" ry="4" fill="#ece8f0" />
<ellipse cx="165" cy="354" rx="8" ry="7" fill="#ece8f0" />
<ellipse cx="182" cy="312" rx="3" ry="4" fill="#ece8f0" />
<ellipse cx="100" cy="206" rx="3" ry="3" fill="#ece8f0" />
<ellipse cx="189" cy="99" rx="5" ry="4" fill="#ece8f0" />
<ellipse cx="23" cy="346" rx="8" ry="7" fill="#ece8f0" />
<ellipse cx="172" cy="197" rx="6" ry="4" fill="#ece8f0" />
<ellipse cx="104" cy="130" rx="9" ry="7" fill="#ece8f0" />
<ellipse cx="245" cy="280" rx="7" ry="7" fill="#ece8f0" />
<ellipse cx="280" cy="102" rx="4" ry="3" fill="#ece8f0" />
<ellipse cx="97" cy="208" rx="5" ry="4" fill="#ece8f0" />
<ellipse cx="276" cy="284" rx="4" ry="5" fill="#ece8f0" />
<ellipse cx="57" cy="290" rx="4" ry="5" fill="#ece8f0" />
<ellipse cx="170" cy="306" rx="11" ry="6" fill="#ece8f0" />
<ellipse cx="154" cy="122" rx="6" ry="6" fill="#ece8f0" />
<ellipse cx="34" cy="94" rx="4" ry="5" fill="#ece8f0" />
<ellipse cx="249" cy="286" rx="5" ry="7" fill="#ece8f0" />
<ellipse cx="95" cy="266" rx="9" ry="9" fill="#ece8f0" />
<ellipse cx="31" cy="161" rx="6" ry="6" fill="#ece8f0" />
<ellipse cx="188" cy="174" rx="6" ry="6" fill="#ece8f0" />
<ellipse cx="88" cy="284" rx="5" ry="8" fill="#ece8f0" />
<ellipse cx="233" cy="217" rx="3" ry="6" fill="#ece8f0" />
<ellipse cx="45" cy="90" rx="5" ry="6" fill="#ece8f0" />
<ellipse cx="232" cy="345" rx="6" ry="7" fill="#ece8f0" />
<ellipse cx="198" cy="277" rx="9" ry="6" fill="#ece8f0" />
<ellipse cx="129" cy="347" rx="6" ry="7" fill="#ece8f0" />
<ellipse cx="287" cy="161" rx="5" ry="5" fill="#ece8f0" />
<ellipse cx="121" cy="217" rx="6" ry="5" fill="#ece8f0" />
<ellipse cx="173" cy="341" rx="7" ry="6" fill="#ece8f0" />
<ellipse cx="158" cy="103" rx="8" ry="8" fill="#ece8f0" />
<ellipse cx="101" cy="281" rx="6" ry="5" fill="#ece8f0" />
<ellipse cx="39" cy="111" rx="6" ry="6" fill="#ece8f0" />
<ellipse cx="72" cy="99" rx="6" ry="5" fill="#ece8f0" />
<ellipse cx="147" cy="122" rx="8" ry="8" fill="#ece8f0" />
<ellipse cx="297" cy="228" rx="6" ry="7" fill="#ece8f0" />
<ellipse cx="194" cy="341" rx="6" ry="7" fill="#ece8f0" />
<ellipse cx="36" cy="358" rx="5" ry="6" fill="#ece8f0" />
<ellipse cx="193" cy="323" rx="8" ry="11" fill="#ece8f0" />
<ellipse cx="161" cy="246" rx="9" ry="9" fill="#ece8f0" />
<ellipse cx="22" cy="182" rx="7" ry="6" fill="#ece8f0" />
<ellipse cx="260" cy="189" rx="7" ry="7" fill="#ece8f0" />
<ellipse cx="184" cy="230" rx="9" ry="8" fill="#ece8f0" />
<ellipse cx="174" cy="295" rx="5" ry="8" fill="#ece8f0" />
<ellipse cx="270" cy="218" rx="4" ry="5" fill="#ece8f0" />
<ellipse cx="246" cy="298" rx="4" ry="5" fill="#ece8f0" />
<ellipse cx="184" cy="224" rx="5" ry="6" fill="#ece8f0" />
<ellipse cx="62" cy="263" rx="4" ry="6" fill="#ece8f0" />
<ellipse cx="24" cy="186" rx="5" ry="6" fill="#ece8f0" />
<ellipse cx="268" cy="299" rx="5" ry="5" fill="#ece8f0" />
<ellipse cx="253" cy="176" rx="10" ry="7" fill="#ece8f0" />
<ellipse cx="196" cy="311" rx="8" ry="6" fill="#ece8f0" />
<ellipse cx="150" cy="187" rx="7" ry="4" fill="#ece8f0" />
<ellipse cx="118" cy="358" rx="6" ry="7" fill="#ece8f0" />
<ellipse cx="84" cy="148" rx="5" ry="8" fill="#ece8f0" />
<ellipse cx="269" cy="336" rx="8" ry="10" fill="#ece8f0" />
<ellipse cx="289" cy="281" rx="6" ry="5" fill="#ece8f0" />
<ellipse cx="138" cy="135" rx="9" ry="6" fill="#ece8f0" />
<ellipse cx="74" cy="101" rx="8" ry="6" fill="#ece8f0" />
<ellipse cx="70" cy="196" rx="5" ry="5" fill="#ece8f0" />
<ellipse cx="204" cy="337" rx="5" ry="7" fill="#ece8f0" />
<ellipse cx="92" cy="237" rx="5" ry="7" fill="#ece8f0" />
<ellipse cx="119" cy="211" rx="9" ry="8" fill="#ece8f0" />
<ellipse cx="92" cy="133" rx="10" ry="9" fill="#ece8f0" />
<ellipse cx="193" cy="120" rx="4" ry="3" fill="#ece8f0" />
<ellipse cx="218" cy="283" rx="8" ry="8" fill="#ece8f0" />
<ellipse cx="34" cy="204" rx="7" ry="9" fill="#ece8f0" />
<ellipse cx="171" cy="153" rx="4" ry="7" fill="#ece8f0" />
<ellipse cx="264" cy="319" rx="6" ry="6" fill="#ece8f0" />
<ellipse cx="100" cy="130" rx="8" ry="7" fill="#ece8f0" />
<ellipse cx="298" cy="94" rx="4" ry="4" fill="#ece8f0" />
<ellipse cx="101" cy="272" rx="9" ry="7" fill="#ece8f0" />
<ellipse cx="164" cy="242" rx="5" ry="6" fill="#ece8f0" />
<ellipse cx="208" cy="120" rx="9" ry="8" fill="#ece8f0" />
<ellipse cx="115" cy="161" rx="7" ry="10" fill="#ece8f0" />
<ellipse cx="287" cy="248" rx="5" ry="5" fill="#ece8f0" />
<polygon points="290,20 495,20 495,145 440,105 380,85 320,95 300,60" fill="#dcdcdc" />
</g>
<rect x="361.8" y="373.9" width="72.50" height="52.70" filter="url(#hnoise)" opacity="0.16"/>
<rect x="361.8" y="373.9" width="72.50" height="52.70" filter="url(#hnoise2)" opacity="0.16"/>
</g>
<clipPath id="hc12"><rect x="435.4" y="373.9" width="71.60" height="52.70"/></clipPath>
<g clip-path="url(#hc12)"><g transform="translate(432,371) scale(0.150000)" filter="url(#hblur)">
<rect x="0" y="0" width="520" height="387" fill="#e2e6e8"/>
<path d="M110,25 L495,20 L495,150 C450,140 420,150 400,170 C380,140 330,120 290,130 C250,140 230,190 240,250 C250,300 300,320 330,340 L260,355 C200,340 160,300 140,250 C120,200 110,120 110,25 Z" fill="#d4c0b4" opacity="0.85"/>
<ellipse cx="440" cy="70" rx="60" ry="55" fill="#c09a84" opacity="0.8"/>
<ellipse cx="220" cy="150" rx="40" ry="50" fill="#c8a898" opacity="0.7"/>
<ellipse cx="479" cy="65" rx="4" ry="3" fill="#b89080" />
<ellipse cx="156" cy="228" rx="6" ry="4" fill="#b89080" />
<ellipse cx="479" cy="122" rx="8" ry="7" fill="#b89080" />
<ellipse cx="466" cy="247" rx="4" ry="3" fill="#b89080" />
<ellipse cx="230" cy="81" rx="8" ry="9" fill="#b89080" />
<ellipse cx="408" cy="328" rx="7" ry="6" fill="#b89080" />
<ellipse cx="209" cy="326" rx="5" ry="6" fill="#b89080" />
<ellipse cx="361" cy="66" rx="8" ry="6" fill="#b89080" />
<ellipse cx="129" cy="190" rx="4" ry="3" fill="#b89080" />
<ellipse cx="309" cy="151" rx="8" ry="6" fill="#b89080" />
<ellipse cx="254" cy="206" rx="5" ry="5" fill="#b89080" />
<ellipse cx="277" cy="235" rx="4" ry="7" fill="#b89080" />
<ellipse cx="247" cy="158" rx="6" ry="6" fill="#b89080" />
<ellipse cx="307" cy="148" rx="4" ry="3" fill="#b89080" />
<ellipse cx="320" cy="132" rx="4" ry="4" fill="#b89080" />
<ellipse cx="124" cy="191" rx="8" ry="6" fill="#b89080" />
<ellipse cx="377" cy="37" rx="6" ry="6" fill="#b89080" />
<ellipse cx="287" cy="291" rx="6" ry="6" fill="#b89080" />
<ellipse cx="492" cy="258" rx="6" ry="6" fill="#b89080" />
<ellipse cx="246" cy="271" rx="8" ry="9" fill="#b89080" />
<ellipse cx="117" cy="180" rx="6" ry="5" fill="#b89080" />
<ellipse cx="376" cy="159" rx="3" ry="6" fill="#b89080" />
<ellipse cx="246" cy="58" rx="3" ry="5" fill="#b89080" />
<ellipse cx="180" cy="108" rx="3" ry="3" fill="#b89080" />
<ellipse cx="242" cy="255" rx="9" ry="6" fill="#b89080" />
<ellipse cx="255" cy="292" rx="3" ry="3" fill="#b89080" />
<ellipse cx="257" cy="260" rx="6" ry="6" fill="#b89080" />
<ellipse cx="199" cy="105" rx="4" ry="3" fill="#b89080" />
<ellipse cx="452" cy="227" rx="3" ry="3" fill="#b89080" />
<ellipse cx="126" cy="176" rx="4" ry="2" fill="#b89080" />
<ellipse cx="353" cy="335" rx="6" ry="7" fill="#b89080" />
<ellipse cx="164" cy="130" rx="9" ry="5" fill="#b89080" />
<ellipse cx="256" cy="225" rx="5" ry="5" fill="#b89080" />
<ellipse cx="322" cy="136" rx="7" ry="6" fill="#b89080" />
<ellipse cx="217" cy="71" rx="7" ry="8" fill="#b89080" />
<ellipse cx="425" cy="332" rx="4" ry="5" fill="#b89080" />
<ellipse cx="403" cy="144" rx="5" ry="5" fill="#b89080" />
<ellipse cx="129" cy="142" rx="4" ry="5" fill="#b89080" />
<ellipse cx="169" cy="198" rx="8" ry="7" fill="#b89080" />
<ellipse cx="406" cy="27" rx="9" ry="9" fill="#b89080" />
<ellipse cx="428" cy="52" rx="3" ry="3" fill="#b89080" />
<ellipse cx="471" cy="311" rx="5" ry="6" fill="#b89080" />
<ellipse cx="238" cy="331" rx="9" ry="10" fill="#b89080" />
<ellipse cx="418" cy="229" rx="4" ry="4" fill="#b89080" />
<ellipse cx="132" cy="316" rx="3" ry="4" fill="#b89080" />
<ellipse cx="150" cy="162" rx="4" ry="5" fill="#b89080" />
<ellipse cx="270" cy="133" rx="6" ry="7" fill="#b89080" />
<ellipse cx="448" cy="327" rx="4" ry="6" fill="#b89080" />
<ellipse cx="308" cy="90" rx="3" ry="3" fill="#b89080" />
<ellipse cx="163" cy="36" rx="10" ry="6" fill="#b89080" />
<ellipse cx="295" cy="276" rx="4" ry="5" fill="#b89080" />
<ellipse cx="257" cy="313" rx="6" ry="6" fill="#b89080" />
<ellipse cx="129" cy="240" rx="8" ry="6" fill="#b89080" />
<ellipse cx="220" cy="23" rx="3" ry="3" fill="#b89080" />
<ellipse cx="410" cy="89" rx="6" ry="6" fill="#b89080" />
<ellipse cx="118" cy="315" rx="5" ry="5" fill="#b89080" />
<ellipse cx="375" cy="318" rx="4" ry="5" fill="#b89080" />
<ellipse cx="177" cy="150" rx="8" ry="9" fill="#b89080" />
<ellipse cx="211" cy="298" rx="6" ry="7" fill="#b89080" />
<ellipse cx="373" cy="203" rx="5" ry="6" fill="#b89080" />
<ellipse cx="466" cy="324" rx="6" ry="9" fill="#eef0f2" />
<ellipse cx="273" cy="190" rx="4" ry="4" fill="#eef0f2" />
<ellipse cx="195" cy="166" rx="3" ry="5" fill="#eef0f2" />
<ellipse cx="272" cy="184" rx="7" ry="6" fill="#eef0f2" />
<ellipse cx="411" cy="209" rx="8" ry="9" fill="#eef0f2" />
<ellipse cx="250" cy="263" rx="6" ry="6" fill="#eef0f2" />
<ellipse cx="231" cy="47" rx="7" ry="7" fill="#eef0f2" />
<ellipse cx="282" cy="226" rx="4" ry="4" fill="#eef0f2" />
<ellipse cx="424" cy="83" rx="3" ry="3" fill="#eef0f2" />
<ellipse cx="216" cy="203" rx="7" ry="7" fill="#eef0f2" />
<ellipse cx="221" cy="118" rx="8" ry="7" fill="#eef0f2" />
<ellipse cx="151" cy="271" rx="9" ry="6" fill="#eef0f2" />
<ellipse cx="320" cy="314" rx="9" ry="6" fill="#eef0f2" />
<ellipse cx="485" cy="38" rx="4" ry="7" fill="#eef0f2" />
<ellipse cx="375" cy="332" rx="10" ry="8" fill="#eef0f2" />
<ellipse cx="490" cy="260" rx="7" ry="5" fill="#eef0f2" />
<ellipse cx="184" cy="44" rx="5" ry="8" fill="#eef0f2" />
<ellipse cx="476" cy="89" rx="5" ry="4" fill="#eef0f2" />
<ellipse cx="319" cy="280" rx="5" ry="7" fill="#eef0f2" />
<ellipse cx="281" cy="130" rx="10" ry="10" fill="#eef0f2" />
<ellipse cx="375" cy="152" rx="9" ry="8" fill="#eef0f2" />
<ellipse cx="202" cy="114" rx="7" ry="6" fill="#eef0f2" />
<ellipse cx="322" cy="284" rx="5" ry="4" fill="#eef0f2" />
<ellipse cx="325" cy="287" rx="7" ry="4" fill="#eef0f2" />
<ellipse cx="326" cy="193" rx="5" ry="5" fill="#eef0f2" />
<ellipse cx="283" cy="250" rx="4" ry="5" fill="#eef0f2" />
<ellipse cx="165" cy="298" rx="6" ry="4" fill="#eef0f2" />
<ellipse cx="283" cy="155" rx="5" ry="4" fill="#eef0f2" />
<ellipse cx="375" cy="193" rx="7" ry="6" fill="#eef0f2" />
<ellipse cx="456" cy="48" rx="10" ry="8" fill="#eef0f2" />
<ellipse cx="409" cy="235" rx="6" ry="6" fill="#eef0f2" />
<ellipse cx="245" cy="117" rx="8" ry="8" fill="#eef0f2" />
<ellipse cx="272" cy="281" rx="7" ry="5" fill="#eef0f2" />
<ellipse cx="217" cy="49" rx="4" ry="6" fill="#eef0f2" />
<ellipse cx="303" cy="55" rx="5" ry="7" fill="#eef0f2" />
<ellipse cx="280" cy="295" rx="6" ry="4" fill="#eef0f2" />
<ellipse cx="488" cy="223" rx="5" ry="4" fill="#eef0f2" />
<ellipse cx="249" cy="67" rx="6" ry="9" fill="#eef0f2" />
<ellipse cx="262" cy="237" rx="4" ry="7" fill="#eef0f2" />
<ellipse cx="362" cy="74" rx="11" ry="7" fill="#eef0f2" />
</g>
<rect x="435.4" y="373.9" width="71.60" height="52.70" filter="url(#hnoise)" opacity="0.16"/>
<rect x="435.4" y="373.9" width="71.60" height="52.70" filter="url(#hnoise2)" opacity="0.16"/>
</g>
<clipPath id="hc20"><rect x="288.5" y="427.6" width="72.10" height="52.50"/></clipPath>
<g clip-path="url(#hc20)"><g transform="translate(286,425) scale(0.150000)" filter="url(#hblur)">
<rect x="0" y="0" width="520" height="387" fill="#c08aa0"/>
<polygon points="17,20 495,20 495,45 17,45" fill="#a86878" />
<polygon points="17,45 495,45 495,85 17,82" fill="#dcd0dc" />
<polygon points="17,85 495,85 495,200 17,200" fill="#aa7ca6" />
<polygon points="17,200 495,200 495,240 17,235" fill="#d6c4d0" />
<polygon points="17,240 495,240 495,365 17,365" fill="#c47e8e" />
<ellipse cx="84" cy="343" rx="9" ry="11" fill="#d89aa0" />
<ellipse cx="234" cy="322" rx="8" ry="8" fill="#d89aa0" />
<ellipse cx="417" cy="298" rx="7" ry="10" fill="#d89aa0" />
<ellipse cx="363" cy="275" rx="14" ry="8" fill="#d89aa0" />
<ellipse cx="32" cy="310" rx="11" ry="10" fill="#d89aa0" />
<ellipse cx="221" cy="253" rx="7" ry="7" fill="#d89aa0" />
<ellipse cx="131" cy="275" rx="7" ry="6" fill="#d89aa0" />
<ellipse cx="30" cy="342" rx="10" ry="8" fill="#d89aa0" />
<ellipse cx="491" cy="345" rx="6" ry="8" fill="#d89aa0" />
<ellipse cx="358" cy="353" rx="10" ry="9" fill="#d89aa0" />
<ellipse cx="164" cy="315" rx="14" ry="11" fill="#d89aa0" />
<ellipse cx="300" cy="254" rx="9" ry="7" fill="#d89aa0" />
<ellipse cx="102" cy="310" rx="11" ry="9" fill="#d89aa0" />
<ellipse cx="229" cy="306" rx="11" ry="10" fill="#d89aa0" />
<ellipse cx="253" cy="253" rx="7" ry="8" fill="#d89aa0" />
<ellipse cx="302" cy="293" rx="7" ry="9" fill="#d89aa0" />
<ellipse cx="386" cy="309" rx="9" ry="11" fill="#d89aa0" />
<ellipse cx="472" cy="314" rx="8" ry="9" fill="#d89aa0" />
<ellipse cx="475" cy="251" rx="13" ry="13" fill="#d89aa0" />
<ellipse cx="372" cy="339" rx="9" ry="9" fill="#d89aa0" />
<ellipse cx="47" cy="346" rx="8" ry="9" fill="#d89aa0" />
<ellipse cx="250" cy="289" rx="8" ry="9" fill="#d89aa0" />
<ellipse cx="311" cy="300" rx="5" ry="5" fill="#d89aa0" />
<ellipse cx="298" cy="345" rx="13" ry="13" fill="#d89aa0" />
<ellipse cx="141" cy="343" rx="8" ry="7" fill="#d89aa0" />
<ellipse cx="27" cy="333" rx="6" ry="8" fill="#d89aa0" />
<ellipse cx="184" cy="258" rx="7" ry="6" fill="#d89aa0" />
<ellipse cx="150" cy="328" rx="8" ry="9" fill="#d89aa0" />
<ellipse cx="31" cy="293" rx="7" ry="7" fill="#d89aa0" />
<ellipse cx="447" cy="306" rx="8" ry="9" fill="#d89aa0" />
<ellipse cx="30" cy="252" rx="8" ry="5" fill="#d89aa0" />
<ellipse cx="355" cy="325" rx="8" ry="12" fill="#d89aa0" />
<ellipse cx="399" cy="307" rx="8" ry="7" fill="#d89aa0" />
<ellipse cx="294" cy="285" rx="7" ry="9" fill="#d89aa0" />
<ellipse cx="480" cy="346" rx="10" ry="7" fill="#d89aa0" />
<ellipse cx="466" cy="332" rx="7" ry="6" fill="#d89aa0" />
<ellipse cx="437" cy="254" rx="14" ry="11" fill="#d89aa0" />
<ellipse cx="101" cy="345" rx="13" ry="12" fill="#d89aa0" />
<ellipse cx="200" cy="288" rx="8" ry="7" fill="#d89aa0" />
<ellipse cx="112" cy="261" rx="9" ry="10" fill="#d89aa0" />
<ellipse cx="128" cy="356" rx="10" ry="7" fill="#c86a66" />
<ellipse cx="138" cy="360" rx="10" ry="9" fill="#c86a66" />
<ellipse cx="235" cy="304" rx="11" ry="7" fill="#c86a66" />
<ellipse cx="131" cy="252" rx="10" ry="13" fill="#c86a66" />
<ellipse cx="200" cy="263" rx="13" ry="7" fill="#c86a66" />
<ellipse cx="315" cy="291" rx="12" ry="15" fill="#c86a66" />
<ellipse cx="256" cy="321" rx="16" ry="12" fill="#c86a66" />
<ellipse cx="51" cy="354" rx="10" ry="15" fill="#c86a66" />
<ellipse cx="295" cy="330" rx="13" ry="14" fill="#c86a66" />
<ellipse cx="437" cy="265" rx="11" ry="16" fill="#c86a66" />
<ellipse cx="354" cy="354" rx="15" ry="12" fill="#c86a66" />
<ellipse cx="91" cy="308" rx="9" ry="15" fill="#c86a66" />
<ellipse cx="261" cy="327" rx="8" ry="7" fill="#c86a66" />
<ellipse cx="183" cy="279" rx="11" ry="14" fill="#c86a66" />
<ellipse cx="443" cy="269" rx="9" ry="12" fill="#c86a66" />
<ellipse cx="483" cy="272" rx="12" ry="10" fill="#c86a66" />
<ellipse cx="383" cy="288" rx="9" ry="8" fill="#c86a66" />
<ellipse cx="215" cy="299" rx="12" ry="10" fill="#c86a66" />
<ellipse cx="65" cy="259" rx="9" ry="8" fill="#c86a66" />
<ellipse cx="404" cy="306" rx="18" ry="10" fill="#c86a66" />
<ellipse cx="28" cy="265" rx="12" ry="13" fill="#c86a66" />
<ellipse cx="187" cy="356" rx="10" ry="7" fill="#c86a66" />
<ellipse cx="436" cy="254" rx="18" ry="20" fill="#c86a66" />
<ellipse cx="296" cy="270" rx="15" ry="12" fill="#c86a66" />
<ellipse cx="308" cy="305" rx="9" ry="9" fill="#c86a66" />
<ellipse cx="296" cy="300" rx="9" ry="10" fill="#c86a66" />
<ellipse cx="360" cy="302" rx="10" ry="9" fill="#c86a66" />
<ellipse cx="114" cy="299" rx="10" ry="10" fill="#c86a66" />
<ellipse cx="310" cy="252" rx="10" ry="8" fill="#c86a66" />
<ellipse cx="480" cy="333" rx="14" ry="10" fill="#c86a66" />
<ellipse cx="474" cy="185" rx="4" ry="17" fill="#9a7ab2" />
<ellipse cx="370" cy="160" rx="8" ry="21" fill="#9a7ab2" />
<ellipse cx="296" cy="114" rx="8" ry="25" fill="#9a7ab2" />
<ellipse cx="493" cy="185" rx="10" ry="21" fill="#9a7ab2" />
<ellipse cx="37" cy="102" rx="8" ry="21" fill="#9a7ab2" />
<ellipse cx="444" cy="147" rx="8" ry="18" fill="#9a7ab2" />
<ellipse cx="174" cy="112" rx="12" ry="26" fill="#9a7ab2" />
<ellipse cx="106" cy="180" rx="14" ry="38" fill="#9a7ab2" />
<ellipse cx="382" cy="171" rx="11" ry="26" fill="#9a7ab2" />
<ellipse cx="97" cy="168" rx="11" ry="29" fill="#9a7ab2" />
<ellipse cx="253" cy="183" rx="11" ry="22" fill="#9a7ab2" />
<ellipse cx="439" cy="181" rx="10" ry="29" fill="#9a7ab2" />
<ellipse cx="364" cy="144" rx="6" ry="20" fill="#9a7ab2" />
<ellipse cx="99" cy="182" rx="9" ry="16" fill="#9a7ab2" />
<ellipse cx="475" cy="164" rx="10" ry="26" fill="#9a7ab2" />
<ellipse cx="299" cy="128" rx="7" ry="22" fill="#9a7ab2" />
<ellipse cx="316" cy="107" rx="14" ry="39" fill="#9a7ab2" />
<ellipse cx="111" cy="167" rx="6" ry="12" fill="#9a7ab2" />
<ellipse cx="128" cy="179" rx="6" ry="18" fill="#9a7ab2" />
<ellipse cx="136" cy="119" rx="12" ry="37" fill="#9a7ab2" />
<ellipse cx="35" cy="133" rx="7" ry="12" fill="#9a7ab2" />
<ellipse cx="473" cy="102" rx="8" ry="25" fill="#9a7ab2" />
<ellipse cx="406" cy="114" rx="7" ry="15" fill="#9a7ab2" />
<ellipse cx="41" cy="189" rx="5" ry="14" fill="#9a7ab2" />
<ellipse cx="312" cy="167" rx="5" ry="11" fill="#9a7ab2" />
<ellipse cx="245" cy="159" rx="7" ry="16" fill="#a05a70" />
<ellipse cx="198" cy="125" rx="12" ry="28" fill="#a05a70" />
<ellipse cx="285" cy="160" rx="5" ry="10" fill="#a05a70" />
<ellipse cx="450" cy="105" rx="8" ry="29" fill="#a05a70" />
<ellipse cx="180" cy="136" rx="8" ry="20" fill="#a05a70" />
<ellipse cx="455" cy="146" rx="6" ry="15" fill="#a05a70" />
<ellipse cx="73" cy="138" rx="5" ry="14" fill="#a05a70" />
<ellipse cx="98" cy="163" rx="4" ry="13" fill="#a05a70" />
<ellipse cx="210" cy="138" rx="9" ry="20" fill="#a05a70" />
<ellipse cx="34" cy="165" rx="15" ry="32" fill="#a05a70" />
<ellipse cx="189" cy="133" rx="11" ry="18" fill="#a05a70" />
<ellipse cx="132" cy="133" rx="10" ry="20" fill="#a05a70" />
<ellipse cx="33" cy="174" rx="8" ry="16" fill="#a05a70" />
<ellipse cx="223" cy="135" rx="8" ry="26" fill="#a05a70" />
<ellipse cx="105" cy="163" rx="4" ry="10" fill="#a05a70" />
<ellipse cx="323" cy="105" rx="6" ry="17" fill="#a05a70" />
<ellipse cx="246" cy="186" rx="10" ry="16" fill="#a05a70" />
<ellipse cx="459" cy="133" rx="6" ry="17" fill="#a05a70" />
<ellipse cx="23" cy="124" rx="9" ry="21" fill="#a05a70" />
<ellipse cx="24" cy="104" rx="12" ry="29" fill="#a05a70" />
</g>
<rect x="288.5" y="427.6" width="72.10" height="52.50" filter="url(#hnoise)" opacity="0.16"/>
<rect x="288.5" y="427.6" width="72.10" height="52.50" filter="url(#hnoise2)" opacity="0.16"/>
</g>
<clipPath id="hc21"><rect x="361.8" y="427.6" width="72.50" height="52.50"/></clipPath>
<g clip-path="url(#hc21)"><g transform="translate(360,425) scale(0.150000)" filter="url(#hblur)">
<rect x="0" y="0" width="520" height="387" fill="#eaeef4"/>
<path d="M0,0 L110,0 C130,150 140,260 140,390 L50,390 C40,250 25,160 0,120 Z" fill="#8c86c8" />
<path d="M100,20 L266,20 C274,120 282,250 288,365 L135,365 C130,250 125,130 100,20 Z" fill="#8870ae" />
<path d="M282,20 L420,20 C430,130 440,250 445,365 L300,365 C294,250 288,130 282,20 Z" fill="#8a6aa8" />
<path d="M415,20 L460,20 C470,130 478,250 482,365 L440,365 C435,250 428,130 415,20 Z" fill="#9a94d2" />
</g>
<rect x="361.8" y="427.6" width="72.50" height="52.50" filter="url(#hnoise)" opacity="0.16"/>
<rect x="361.8" y="427.6" width="72.50" height="52.50" filter="url(#hnoise2)" opacity="0.16"/>
</g>
<clipPath id="hc22"><rect x="435.4" y="427.6" width="71.60" height="52.50"/></clipPath>
<g clip-path="url(#hc22)"><g transform="translate(432,425) scale(0.150000)" filter="url(#hblur)">
<rect x="0" y="0" width="520" height="387" fill="#c8ae9a"/>
<ellipse cx="131" cy="208" rx="8" ry="8" fill="#ebe4de" />
<ellipse cx="48" cy="25" rx="9" ry="9" fill="#ebe4de" />
<ellipse cx="493" cy="182" rx="10" ry="11" fill="#ebe4de" />
<ellipse cx="89" cy="239" rx="10" ry="12" fill="#ebe4de" />
<ellipse cx="338" cy="42" rx="10" ry="9" fill="#ebe4de" />
<ellipse cx="32" cy="319" rx="9" ry="10" fill="#ebe4de" />
<ellipse cx="358" cy="338" rx="9" ry="8" fill="#ebe4de" />
<ellipse cx="464" cy="323" rx="5" ry="5" fill="#ebe4de" />
<ellipse cx="478" cy="170" rx="8" ry="9" fill="#ebe4de" />
<ellipse cx="201" cy="141" rx="9" ry="11" fill="#ebe4de" />
<ellipse cx="343" cy="340" rx="13" ry="11" fill="#ebe4de" />
<ellipse cx="95" cy="317" rx="13" ry="11" fill="#ebe4de" />
<ellipse cx="358" cy="93" rx="11" ry="9" fill="#ebe4de" />
<ellipse cx="47" cy="315" rx="8" ry="13" fill="#ebe4de" />
<ellipse cx="213" cy="72" rx="9" ry="9" fill="#ebe4de" />
<ellipse cx="38" cy="232" rx="7" ry="6" fill="#ebe4de" />
<ellipse cx="438" cy="358" rx="11" ry="8" fill="#ebe4de" />
<ellipse cx="54" cy="227" rx="5" ry="6" fill="#ebe4de" />
<ellipse cx="309" cy="74" rx="8" ry="6" fill="#ebe4de" />
<ellipse cx="475" cy="329" rx="8" ry="8" fill="#ebe4de" />
<ellipse cx="325" cy="225" rx="9" ry="11" fill="#ebe4de" />
<ellipse cx="259" cy="169" rx="8" ry="8" fill="#ebe4de" />
<ellipse cx="484" cy="200" rx="6" ry="8" fill="#ebe4de" />
<ellipse cx="294" cy="27" rx="10" ry="7" fill="#ebe4de" />
<ellipse cx="317" cy="181" rx="9" ry="11" fill="#ebe4de" />
<ellipse cx="370" cy="28" rx="7" ry="8" fill="#ebe4de" />
<ellipse cx="137" cy="177" rx="8" ry="8" fill="#ebe4de" />
<ellipse cx="166" cy="147" rx="8" ry="8" fill="#ebe4de" />
<ellipse cx="386" cy="29" rx="10" ry="8" fill="#ebe4de" />
<ellipse cx="123" cy="297" rx="6" ry="7" fill="#ebe4de" />
<ellipse cx="351" cy="55" rx="7" ry="9" fill="#ebe4de" />
<ellipse cx="227" cy="315" rx="6" ry="7" fill="#ebe4de" />
<ellipse cx="440" cy="176" rx="6" ry="7" fill="#ebe4de" />
<ellipse cx="108" cy="298" rx="8" ry="9" fill="#ebe4de" />
<ellipse cx="403" cy="241" rx="9" ry="8" fill="#ebe4de" />
<ellipse cx="157" cy="294" rx="7" ry="7" fill="#ebe4de" />
<ellipse cx="218" cy="161" rx="8" ry="7" fill="#ebe4de" />
<ellipse cx="468" cy="324" rx="11" ry="14" fill="#ebe4de" />
<ellipse cx="460" cy="97" rx="12" ry="11" fill="#ebe4de" />
<ellipse cx="265" cy="120" rx="6" ry="6" fill="#ebe4de" />
<ellipse cx="298" cy="119" rx="7" ry="12" fill="#ebe4de" />
<ellipse cx="349" cy="339" rx="13" ry="11" fill="#ebe4de" />
<ellipse cx="23" cy="277" rx="6" ry="8" fill="#ebe4de" />
<ellipse cx="268" cy="163" rx="11" ry="10" fill="#ebe4de" />
<ellipse cx="138" cy="317" rx="10" ry="8" fill="#ebe4de" />
<ellipse cx="111" cy="204" rx="8" ry="12" fill="#ebe4de" />
<ellipse cx="458" cy="298" rx="7" ry="11" fill="#ebe4de" />
<ellipse cx="429" cy="37" rx="6" ry="7" fill="#ebe4de" />
<ellipse cx="219" cy="183" rx="7" ry="7" fill="#ebe4de" />
<ellipse cx="78" cy="63" rx="8" ry="8" fill="#ebe4de" />
<ellipse cx="58" cy="193" rx="7" ry="7" fill="#ebe4de" />
<ellipse cx="326" cy="222" rx="6" ry="7" fill="#ebe4de" />
<ellipse cx="76" cy="212" rx="9" ry="7" fill="#ebe4de" />
<ellipse cx="102" cy="149" rx="11" ry="8" fill="#ebe4de" />
<ellipse cx="400" cy="235" rx="8" ry="8" fill="#ebe4de" />
<ellipse cx="353" cy="165" rx="9" ry="8" fill="#ebe4de" />
<ellipse cx="273" cy="260" rx="6" ry="6" fill="#ebe4de" />
<ellipse cx="437" cy="343" rx="10" ry="9" fill="#ebe4de" />
<ellipse cx="142" cy="180" rx="8" ry="7" fill="#ebe4de" />
<ellipse cx="441" cy="293" rx="11" ry="10" fill="#ebe4de" />
<ellipse cx="66" cy="223" rx="5" ry="7" fill="#ebe4de" />
<ellipse cx="38" cy="52" rx="8" ry="5" fill="#ebe4de" />
<ellipse cx="28" cy="310" rx="8" ry="7" fill="#ebe4de" />
<ellipse cx="417" cy="349" rx="10" ry="6" fill="#ebe4de" />
<ellipse cx="384" cy="196" rx="7" ry="11" fill="#ebe4de" />
<ellipse cx="464" cy="41" rx="8" ry="9" fill="#ebe4de" />
<ellipse cx="133" cy="82" rx="8" ry="8" fill="#ebe4de" />
<ellipse cx="205" cy="147" rx="7" ry="8" fill="#ebe4de" />
<ellipse cx="57" cy="193" rx="10" ry="12" fill="#ebe4de" />
<ellipse cx="94" cy="258" rx="11" ry="10" fill="#ebe4de" />
<ellipse cx="248" cy="242" rx="8" ry="8" fill="#ebe4de" />
<ellipse cx="375" cy="336" rx="8" ry="10" fill="#ebe4de" />
<ellipse cx="106" cy="112" rx="7" ry="6" fill="#ebe4de" />
<ellipse cx="128" cy="258" rx="9" ry="12" fill="#ebe4de" />
<ellipse cx="215" cy="315" rx="8" ry="7" fill="#ebe4de" />
<ellipse cx="28" cy="185" rx="6" ry="7" fill="#ebe4de" />
<ellipse cx="171" cy="287" rx="9" ry="7" fill="#ebe4de" />
<ellipse cx="303" cy="181" rx="12" ry="11" fill="#ebe4de" />
<ellipse cx="247" cy="269" rx="10" ry="12" fill="#ebe4de" />
<ellipse cx="476" cy="181" rx="6" ry="8" fill="#ebe4de" />
<ellipse cx="340" cy="351" rx="9" ry="8" fill="#ebe4de" />
<ellipse cx="141" cy="85" rx="12" ry="12" fill="#ebe4de" />
<ellipse cx="139" cy="318" rx="7" ry="9" fill="#ebe4de" />
<ellipse cx="58" cy="52" rx="9" ry="9" fill="#ebe4de" />
<ellipse cx="294" cy="253" rx="5" ry="6" fill="#ebe4de" />
<ellipse cx="249" cy="92" rx="11" ry="8" fill="#ebe4de" />
<ellipse cx="277" cy="61" rx="8" ry="6" fill="#ebe4de" />
<ellipse cx="441" cy="334" rx="8" ry="6" fill="#ebe4de" />
<ellipse cx="386" cy="281" rx="8" ry="8" fill="#ebe4de" />
<ellipse cx="402" cy="112" rx="12" ry="11" fill="#ebe4de" />
<ellipse cx="273" cy="59" rx="8" ry="10" fill="#ebe4de" />
<ellipse cx="341" cy="215" rx="8" ry="7" fill="#ebe4de" />
<ellipse cx="103" cy="327" rx="7" ry="12" fill="#ebe4de" />
<ellipse cx="85" cy="134" rx="10" ry="10" fill="#ebe4de" />
<ellipse cx="326" cy="178" rx="6" ry="6" fill="#ebe4de" />
<ellipse cx="359" cy="280" rx="10" ry="8" fill="#ebe4de" />
<ellipse cx="144" cy="152" rx="8" ry="10" fill="#ebe4de" />
<ellipse cx="135" cy="285" rx="7" ry="7" fill="#ebe4de" />
<ellipse cx="276" cy="286" rx="9" ry="6" fill="#ebe4de" />
<ellipse cx="146" cy="54" rx="8" ry="7" fill="#ebe4de" />
<ellipse cx="105" cy="85" rx="9" ry="10" fill="#ebe4de" />
<ellipse cx="375" cy="224" rx="6" ry="5" fill="#ebe4de" />
<ellipse cx="269" cy="216" rx="6" ry="8" fill="#ebe4de" />
<ellipse cx="31" cy="297" rx="13" ry="10" fill="#ebe4de" />
<ellipse cx="281" cy="221" rx="12" ry="10" fill="#ebe4de" />
<ellipse cx="160" cy="317" rx="9" ry="10" fill="#ebe4de" />
<ellipse cx="18" cy="286" rx="9" ry="9" fill="#ebe4de" />
<ellipse cx="237" cy="87" rx="6" ry="9" fill="#ebe4de" />
<ellipse cx="326" cy="173" rx="11" ry="11" fill="#ebe4de" />
<ellipse cx="82" cy="293" rx="7" ry="8" fill="#ebe4de" />
<ellipse cx="129" cy="47" rx="11" ry="8" fill="#ebe4de" />
<ellipse cx="433" cy="260" rx="8" ry="7" fill="#ebe4de" />
<ellipse cx="460" cy="267" rx="9" ry="11" fill="#ebe4de" />
<ellipse cx="462" cy="317" rx="9" ry="8" fill="#ebe4de" />
<ellipse cx="69" cy="35" rx="5" ry="5" fill="#ebe4de" />
<ellipse cx="255" cy="261" rx="8" ry="9" fill="#ebe4de" />
<ellipse cx="163" cy="180" rx="9" ry="8" fill="#ebe4de" />
<ellipse cx="447" cy="268" rx="7" ry="8" fill="#ebe4de" />
<ellipse cx="302" cy="97" rx="5" ry="7" fill="#ebe4de" />
<ellipse cx="86" cy="179" rx="6" ry="6" fill="#ebe4de" />
<ellipse cx="210" cy="78" rx="5" ry="5" fill="#ebe4de" />
<ellipse cx="251" cy="41" rx="6" ry="6" fill="#ebe4de" />
<ellipse cx="353" cy="38" rx="8" ry="6" fill="#ebe4de" />
<ellipse cx="479" cy="96" rx="6" ry="5" fill="#ebe4de" />
<ellipse cx="315" cy="139" rx="5" ry="8" fill="#ebe4de" />
<ellipse cx="148" cy="292" rx="10" ry="7" fill="#ebe4de" />
<ellipse cx="136" cy="112" rx="11" ry="9" fill="#ebe4de" />
<ellipse cx="62" cy="255" rx="11" ry="8" fill="#ebe4de" />
<ellipse cx="31" cy="51" rx="5" ry="5" fill="#ebe4de" />
<ellipse cx="330" cy="331" rx="9" ry="7" fill="#ebe4de" />
<path d="M100,140 L160,120 L200,180 L180,250 L110,260 L90,200 Z" fill="#e6eaee" />
<path d="M390,250 L440,240 L470,300 L430,320 Z" fill="#e6eaee" />
<polygon points="420,20 495,20 495,100" fill="#e2e4ec" />
</g>
<rect x="435.4" y="427.6" width="71.60" height="52.50" filter="url(#hnoise)" opacity="0.16"/>
<rect x="435.4" y="427.6" width="71.60" height="52.50" filter="url(#hnoise2)" opacity="0.16"/>
</g>
<clipPath id="hc30"><rect x="288.5" y="480.9" width="72.10" height="53.80"/></clipPath>
<g clip-path="url(#hc30)"><g transform="translate(286,478) scale(0.150000)" filter="url(#hblur)">
<rect x="0" y="0" width="520" height="387" fill="#7a5ea8"/>
<ellipse cx="290" cy="260" rx="45" ry="38" fill="#8c5c96" opacity="0.8"/>
<polygon points="17,20 80,20 65,55 45,85 17,105" fill="#f6f2f8" />
<polygon points="80,72 130,66 168,84 160,112 118,122 84,106" fill="#f6f2f8" />
<ellipse cx="88" cy="178" rx="35" ry="20" fill="#f6f2f8" />
<path d="M20,232 C60,248 120,252 200,244 C222,262 212,310 190,330 C160,348 100,350 60,336 C30,320 20,290 20,232 Z" fill="#f6f2f8" />
<ellipse cx="250" cy="195" rx="28" ry="28" fill="#f6f2f8" />
<ellipse cx="265" cy="95" rx="26" ry="13" fill="#f6f2f8" />
<ellipse cx="430" cy="135" rx="40" ry="15" fill="#f6f2f8" />
<path d="M440,220 L490,215 L495,290 L455,285 Z" fill="#f6f2f8" />
<ellipse cx="330" cy="340" rx="25" ry="22" fill="#f6f2f8" />
<ellipse cx="370" cy="60" rx="20" ry="12" fill="#f6f2f8" />
<ellipse cx="180" cy="40" rx="22" ry="10" fill="#f6f2f8" />
<ellipse cx="430" cy="330" rx="22" ry="14" fill="#f6f2f8" />
<ellipse cx="132" cy="56" rx="5" ry="5" fill="#f6f2f8" />
<ellipse cx="211" cy="337" rx="11" ry="8" fill="#f6f2f8" />
<ellipse cx="275" cy="115" rx="4" ry="4" fill="#f6f2f8" />
<ellipse cx="461" cy="306" rx="11" ry="8" fill="#f6f2f8" />
<ellipse cx="167" cy="236" rx="11" ry="11" fill="#f6f2f8" />
<ellipse cx="61" cy="229" rx="9" ry="7" fill="#f6f2f8" />
<ellipse cx="245" cy="51" rx="13" ry="11" fill="#f6f2f8" />
<ellipse cx="163" cy="334" rx="10" ry="10" fill="#f6f2f8" />
<ellipse cx="261" cy="163" rx="8" ry="7" fill="#f6f2f8" />
<ellipse cx="165" cy="300" rx="3" ry="5" fill="#f6f2f8" />
<ellipse cx="153" cy="204" rx="7" ry="9" fill="#f6f2f8" />
<ellipse cx="113" cy="162" rx="6" ry="5" fill="#f6f2f8" />
<ellipse cx="189" cy="278" rx="6" ry="8" fill="#f6f2f8" />
<ellipse cx="68" cy="41" rx="6" ry="6" fill="#f6f2f8" />
<ellipse cx="133" cy="134" rx="5" ry="4" fill="#f6f2f8" />
<ellipse cx="351" cy="329" rx="12" ry="14" fill="#f6f2f8" />
<ellipse cx="29" cy="120" rx="13" ry="10" fill="#f6f2f8" />
<ellipse cx="468" cy="234" rx="9" ry="8" fill="#f6f2f8" />
<ellipse cx="231" cy="67" rx="9" ry="6" fill="#f6f2f8" />
<ellipse cx="24" cy="35" rx="6" ry="5" fill="#f6f2f8" />
<ellipse cx="158" cy="54" rx="10" ry="9" fill="#f6f2f8" />
<ellipse cx="48" cy="39" rx="6" ry="4" fill="#f6f2f8" />
<ellipse cx="39" cy="189" rx="7" ry="4" fill="#f6f2f8" />
<ellipse cx="271" cy="287" rx="9" ry="7" fill="#f6f2f8" />
<ellipse cx="135" cy="162" rx="4" ry="4" fill="#f6f2f8" />
<ellipse cx="442" cy="307" rx="5" ry="6" fill="#f6f2f8" />
<ellipse cx="135" cy="92" rx="7" ry="4" fill="#f6f2f8" />
<ellipse cx="44" cy="340" rx="10" ry="7" fill="#f6f2f8" />
<ellipse cx="448" cy="246" rx="11" ry="10" fill="#f6f2f8" />
<ellipse cx="64" cy="93" rx="13" ry="13" fill="#f6f2f8" />
<ellipse cx="180" cy="247" rx="10" ry="11" fill="#f6f2f8" />
<ellipse cx="271" cy="246" rx="8" ry="11" fill="#f6f2f8" />
<ellipse cx="474" cy="46" rx="14" ry="12" fill="#f6f2f8" />
<ellipse cx="41" cy="330" rx="6" ry="5" fill="#f6f2f8" />
<ellipse cx="49" cy="78" rx="9" ry="10" fill="#f6f2f8" />
<ellipse cx="461" cy="95" rx="5" ry="3" fill="#f6f2f8" />
<ellipse cx="436" cy="60" rx="11" ry="12" fill="#f6f2f8" />
<ellipse cx="282" cy="323" rx="6" ry="5" fill="#f6f2f8" />
<ellipse cx="444" cy="287" rx="7" ry="5" fill="#f6f2f8" />
<ellipse cx="36" cy="225" rx="9" ry="8" fill="#f6f2f8" />
<ellipse cx="86" cy="145" rx="10" ry="7" fill="#f6f2f8" />
<ellipse cx="418" cy="306" rx="5" ry="4" fill="#f6f2f8" />
<ellipse cx="394" cy="127" rx="6" ry="7" fill="#f6f2f8" />
<ellipse cx="65" cy="59" rx="10" ry="8" fill="#f6f2f8" />
<ellipse cx="226" cy="316" rx="7" ry="12" fill="#f6f2f8" />
<ellipse cx="113" cy="124" rx="9" ry="12" fill="#f6f2f8" />
<ellipse cx="100" cy="322" rx="4" ry="5" fill="#f6f2f8" />
<ellipse cx="181" cy="207" rx="12" ry="7" fill="#f6f2f8" />
<ellipse cx="168" cy="208" rx="8" ry="7" fill="#f6f2f8" />
<ellipse cx="56" cy="105" rx="9" ry="12" fill="#f6f2f8" />
<ellipse cx="488" cy="236" rx="9" ry="8" fill="#f6f2f8" />
<ellipse cx="454" cy="181" rx="9" ry="13" fill="#f6f2f8" />
<ellipse cx="394" cy="231" rx="6" ry="8" fill="#f6f2f8" />
<ellipse cx="192" cy="248" rx="4" ry="4" fill="#f6f2f8" />
<ellipse cx="404" cy="81" rx="10" ry="11" fill="#f6f2f8" />
<ellipse cx="186" cy="234" rx="4" ry="6" fill="#f6f2f8" />
<ellipse cx="105" cy="246" rx="6" ry="4" fill="#f6f2f8" />
<ellipse cx="30" cy="348" rx="12" ry="12" fill="#f6f2f8" />
<ellipse cx="473" cy="75" rx="8" ry="8" fill="#f6f2f8" />
<ellipse cx="466" cy="282" rx="8" ry="12" fill="#f6f2f8" />
<ellipse cx="341" cy="277" rx="10" ry="7" fill="#f6f2f8" />
<ellipse cx="461" cy="160" rx="10" ry="9" fill="#f6f2f8" />
<ellipse cx="167" cy="99" rx="7" ry="8" fill="#f6f2f8" />
<ellipse cx="447" cy="158" rx="8" ry="6" fill="#f6f2f8" />
<ellipse cx="215" cy="25" rx="5" ry="6" fill="#f6f2f8" />
<ellipse cx="312" cy="146" rx="11" ry="8" fill="#f6f2f8" />
<ellipse cx="52" cy="356" rx="14" ry="12" fill="#f6f2f8" />
<ellipse cx="168" cy="52" rx="5" ry="7" fill="#f6f2f8" />
<ellipse cx="444" cy="288" rx="4" ry="4" fill="#f6f2f8" />
<ellipse cx="470" cy="76" rx="11" ry="10" fill="#f6f2f8" />
<ellipse cx="476" cy="111" rx="6" ry="6" fill="#f6f2f8" />
<ellipse cx="35" cy="129" rx="4" ry="6" fill="#f6f2f8" />
<ellipse cx="157" cy="327" rx="10" ry="10" fill="#f6f2f8" />
<ellipse cx="472" cy="323" rx="9" ry="10" fill="#f6f2f8" />
<ellipse cx="364" cy="211" rx="6" ry="9" fill="#f6f2f8" />
<ellipse cx="250" cy="43" rx="6" ry="4" fill="#f6f2f8" />
<ellipse cx="206" cy="255" rx="9" ry="9" fill="#f6f2f8" />
<ellipse cx="221" cy="30" rx="7" ry="13" fill="#f6f2f8" />
<ellipse cx="92" cy="74" rx="12" ry="8" fill="#f6f2f8" />
<ellipse cx="283" cy="184" rx="7" ry="11" fill="#f6f2f8" />
</g>
<rect x="288.5" y="480.9" width="72.10" height="53.80" filter="url(#hnoise)" opacity="0.16"/>
<rect x="288.5" y="480.9" width="72.10" height="53.80" filter="url(#hnoise2)" opacity="0.16"/>
</g>
<clipPath id="hc31"><rect x="361.8" y="480.9" width="72.50" height="53.80"/></clipPath>
<g clip-path="url(#hc31)"><g transform="translate(360,478) scale(0.150000)" filter="url(#hblur)">
<rect x="0" y="0" width="520" height="387" fill="#b29ab2"/>
<ellipse cx="315" cy="276" rx="13" ry="12" fill="#ece6ee" />
<ellipse cx="458" cy="30" rx="10" ry="8" fill="#ece6ee" />
<ellipse cx="448" cy="59" rx="7" ry="8" fill="#ece6ee" />
<ellipse cx="291" cy="25" rx="5" ry="7" fill="#ece6ee" />
<ellipse cx="383" cy="75" rx="8" ry="11" fill="#ece6ee" />
<ellipse cx="78" cy="21" rx="9" ry="9" fill="#ece6ee" />
<ellipse cx="487" cy="321" rx="8" ry="6" fill="#ece6ee" />
<ellipse cx="341" cy="91" rx="13" ry="15" fill="#ece6ee" />
<ellipse cx="444" cy="123" rx="6" ry="5" fill="#ece6ee" />
<ellipse cx="48" cy="124" rx="6" ry="10" fill="#ece6ee" />
<ellipse cx="179" cy="127" rx="10" ry="9" fill="#ece6ee" />
<ellipse cx="247" cy="263" rx="6" ry="3" fill="#ece6ee" />
<ellipse cx="375" cy="311" rx="5" ry="4" fill="#ece6ee" />
<ellipse cx="294" cy="23" rx="4" ry="6" fill="#ece6ee" />
<ellipse cx="111" cy="281" rx="14" ry="10" fill="#ece6ee" />
<ellipse cx="187" cy="201" rx="8" ry="12" fill="#ece6ee" />
<ellipse cx="398" cy="317" rx="5" ry="3" fill="#ece6ee" />
<ellipse cx="180" cy="231" rx="10" ry="14" fill="#ece6ee" />
<ellipse cx="278" cy="128" rx="5" ry="5" fill="#ece6ee" />
<ellipse cx="88" cy="258" rx="10" ry="9" fill="#ece6ee" />
<ellipse cx="489" cy="204" rx="6" ry="8" fill="#ece6ee" />
<ellipse cx="412" cy="177" rx="5" ry="9" fill="#ece6ee" />
<ellipse cx="33" cy="190" rx="8" ry="12" fill="#ece6ee" />
<ellipse cx="471" cy="237" rx="8" ry="10" fill="#ece6ee" />
<ellipse cx="88" cy="311" rx="6" ry="8" fill="#ece6ee" />
<ellipse cx="424" cy="357" rx="8" ry="9" fill="#ece6ee" />
<ellipse cx="246" cy="120" rx="6" ry="7" fill="#ece6ee" />
<ellipse cx="489" cy="351" rx="9" ry="8" fill="#ece6ee" />
<ellipse cx="60" cy="114" rx="13" ry="9" fill="#ece6ee" />
<ellipse cx="393" cy="287" rx="10" ry="11" fill="#ece6ee" />
<ellipse cx="191" cy="263" rx="6" ry="7" fill="#ece6ee" />
<ellipse cx="347" cy="121" rx="13" ry="12" fill="#ece6ee" />
<ellipse cx="23" cy="209" rx="7" ry="6" fill="#ece6ee" />
<ellipse cx="407" cy="243" rx="9" ry="11" fill="#ece6ee" />
<ellipse cx="370" cy="306" rx="8" ry="8" fill="#ece6ee" />
<ellipse cx="346" cy="357" rx="12" ry="12" fill="#ece6ee" />
<ellipse cx="96" cy="309" rx="11" ry="13" fill="#ece6ee" />
<ellipse cx="361" cy="272" rx="6" ry="6" fill="#ece6ee" />
<ellipse cx="335" cy="165" rx="10" ry="10" fill="#ece6ee" />
<ellipse cx="361" cy="30" rx="5" ry="6" fill="#ece6ee" />
<ellipse cx="122" cy="257" rx="7" ry="9" fill="#ece6ee" />
<ellipse cx="125" cy="39" rx="5" ry="4" fill="#ece6ee" />
<ellipse cx="109" cy="32" rx="7" ry="8" fill="#ece6ee" />
<ellipse cx="299" cy="102" rx="8" ry="11" fill="#ece6ee" />
<ellipse cx="150" cy="161" rx="6" ry="5" fill="#ece6ee" />
<ellipse cx="34" cy="232" rx="5" ry="4" fill="#ece6ee" />
<ellipse cx="295" cy="351" rx="10" ry="13" fill="#ece6ee" />
<ellipse cx="324" cy="147" rx="5" ry="5" fill="#ece6ee" />
<ellipse cx="475" cy="354" rx="8" ry="11" fill="#ece6ee" />
<ellipse cx="17" cy="57" rx="9" ry="7" fill="#ece6ee" />
<ellipse cx="318" cy="327" rx="7" ry="6" fill="#ece6ee" />
<ellipse cx="156" cy="355" rx="9" ry="9" fill="#ece6ee" />
<ellipse cx="302" cy="110" rx="12" ry="11" fill="#ece6ee" />
<ellipse cx="170" cy="360" rx="7" ry="8" fill="#ece6ee" />
<ellipse cx="75" cy="234" rx="7" ry="9" fill="#ece6ee" />
<ellipse cx="412" cy="25" rx="7" ry="10" fill="#ece6ee" />
<ellipse cx="391" cy="105" rx="5" ry="8" fill="#ece6ee" />
<ellipse cx="157" cy="230" rx="8" ry="8" fill="#ece6ee" />
<ellipse cx="372" cy="61" rx="9" ry="10" fill="#ece6ee" />
<ellipse cx="178" cy="122" rx="8" ry="8" fill="#ece6ee" />
<ellipse cx="373" cy="224" rx="4" ry="4" fill="#ece6ee" />
<ellipse cx="455" cy="326" rx="6" ry="10" fill="#ece6ee" />
<ellipse cx="221" cy="219" rx="10" ry="10" fill="#ece6ee" />
<ellipse cx="453" cy="153" rx="9" ry="6" fill="#ece6ee" />
<ellipse cx="159" cy="306" rx="5" ry="5" fill="#ece6ee" />
<ellipse cx="224" cy="119" rx="13" ry="8" fill="#ece6ee" />
<ellipse cx="246" cy="209" rx="7" ry="6" fill="#ece6ee" />
<ellipse cx="297" cy="300" rx="4" ry="5" fill="#ece6ee" />
<ellipse cx="395" cy="249" rx="5" ry="5" fill="#ece6ee" />
<ellipse cx="494" cy="262" rx="5" ry="4" fill="#ece6ee" />
<ellipse cx="326" cy="349" rx="8" ry="8" fill="#ece6ee" />
<ellipse cx="456" cy="72" rx="8" ry="7" fill="#ece6ee" />
<ellipse cx="315" cy="35" rx="5" ry="4" fill="#ece6ee" />
<ellipse cx="45" cy="218" rx="12" ry="8" fill="#ece6ee" />
<ellipse cx="223" cy="129" rx="9" ry="11" fill="#ece6ee" />
<ellipse cx="196" cy="39" rx="8" ry="10" fill="#ece6ee" />
<ellipse cx="259" cy="334" rx="9" ry="7" fill="#ece6ee" />
<ellipse cx="281" cy="108" rx="10" ry="8" fill="#ece6ee" />
<ellipse cx="129" cy="148" rx="8" ry="11" fill="#ece6ee" />
<ellipse cx="330" cy="49" rx="7" ry="7" fill="#ece6ee" />
<ellipse cx="301" cy="102" rx="11" ry="10" fill="#ece6ee" />
<ellipse cx="398" cy="30" rx="7" ry="8" fill="#ece6ee" />
<ellipse cx="472" cy="255" rx="4" ry="7" fill="#ece6ee" />
<ellipse cx="335" cy="303" rx="6" ry="5" fill="#ece6ee" />
<ellipse cx="129" cy="135" rx="8" ry="8" fill="#ece6ee" />
<ellipse cx="82" cy="307" rx="11" ry="9" fill="#ece6ee" />
<ellipse cx="424" cy="199" rx="9" ry="10" fill="#ece6ee" />
<ellipse cx="206" cy="53" rx="4" ry="3" fill="#ece6ee" />
<ellipse cx="442" cy="186" rx="7" ry="10" fill="#ece6ee" />
<ellipse cx="442" cy="234" rx="7" ry="6" fill="#ece6ee" />
<ellipse cx="91" cy="75" rx="7" ry="9" fill="#ece6ee" />
<ellipse cx="90" cy="108" rx="5" ry="5" fill="#ece6ee" />
<ellipse cx="129" cy="186" rx="5" ry="4" fill="#ece6ee" />
<ellipse cx="465" cy="257" rx="9" ry="12" fill="#ece6ee" />
<ellipse cx="73" cy="251" rx="7" ry="7" fill="#ece6ee" />
<ellipse cx="95" cy="89" rx="4" ry="3" fill="#ece6ee" />
<ellipse cx="209" cy="356" rx="6" ry="7" fill="#ece6ee" />
<ellipse cx="152" cy="273" rx="8" ry="8" fill="#ece6ee" />
<ellipse cx="338" cy="344" rx="9" ry="12" fill="#ece6ee" />
<ellipse cx="20" cy="41" rx="10" ry="7" fill="#ece6ee" />
<ellipse cx="279" cy="361" rx="7" ry="6" fill="#ece6ee" />
<ellipse cx="51" cy="330" rx="10" ry="6" fill="#ece6ee" />
<ellipse cx="133" cy="37" rx="5" ry="6" fill="#ece6ee" />
<ellipse cx="212" cy="126" rx="3" ry="6" fill="#ece6ee" />
<ellipse cx="103" cy="195" rx="7" ry="5" fill="#ece6ee" />
<ellipse cx="167" cy="57" rx="10" ry="9" fill="#ece6ee" />
<ellipse cx="427" cy="94" rx="4" ry="4" fill="#ece6ee" />
<ellipse cx="290" cy="150" rx="10" ry="11" fill="#ece6ee" />
<ellipse cx="164" cy="175" rx="9" ry="8" fill="#ece6ee" />
<ellipse cx="166" cy="50" rx="12" ry="9" fill="#ece6ee" />
<ellipse cx="79" cy="48" rx="4" ry="6" fill="#ece6ee" />
<ellipse cx="293" cy="105" rx="5" ry="3" fill="#ece6ee" />
<ellipse cx="113" cy="119" rx="5" ry="7" fill="#ece6ee" />
<ellipse cx="167" cy="280" rx="10" ry="9" fill="#ece6ee" />
<ellipse cx="380" cy="218" rx="9" ry="8" fill="#ece6ee" />
<ellipse cx="473" cy="271" rx="8" ry="11" fill="#ece6ee" />
<ellipse cx="200" cy="65" rx="4" ry="4" fill="#ece6ee" />
<ellipse cx="340" cy="119" rx="5" ry="5" fill="#ece6ee" />
<ellipse cx="30" cy="37" rx="5" ry="6" fill="#ece6ee" />
<ellipse cx="471" cy="231" rx="6" ry="5" fill="#ece6ee" />
<ellipse cx="175" cy="24" rx="10" ry="10" fill="#ece6ee" />
<ellipse cx="63" cy="203" rx="6" ry="5" fill="#ece6ee" />
<ellipse cx="466" cy="294" rx="4" ry="6" fill="#ece6ee" />
<ellipse cx="237" cy="170" rx="9" ry="10" fill="#ece6ee" />
<ellipse cx="272" cy="355" rx="7" ry="10" fill="#ece6ee" />
<ellipse cx="218" cy="38" rx="9" ry="12" fill="#ece6ee" />
<ellipse cx="247" cy="324" rx="6" ry="6" fill="#ece6ee" />
<ellipse cx="113" cy="214" rx="8" ry="6" fill="#ece6ee" />
<ellipse cx="185" cy="106" rx="14" ry="14" fill="#ece6ee" />
<ellipse cx="312" cy="158" rx="6" ry="5" fill="#ece6ee" />
<ellipse cx="35" cy="78" rx="5" ry="6" fill="#ece6ee" />
<ellipse cx="112" cy="295" rx="7" ry="8" fill="#ece6ee" />
<ellipse cx="315" cy="296" rx="5" ry="7" fill="#ece6ee" />
<ellipse cx="297" cy="84" rx="6" ry="5" fill="#ece6ee" />
<ellipse cx="166" cy="152" rx="9" ry="7" fill="#ece6ee" />
<ellipse cx="487" cy="301" rx="13" ry="13" fill="#ece6ee" />
<ellipse cx="274" cy="296" rx="7" ry="8" fill="#ece6ee" />
<ellipse cx="267" cy="118" rx="3" ry="4" fill="#ece6ee" />
<ellipse cx="294" cy="282" rx="9" ry="12" fill="#ece6ee" />
<ellipse cx="148" cy="267" rx="5" ry="5" fill="#ece6ee" />
<ellipse cx="474" cy="330" rx="11" ry="11" fill="#ece6ee" />
<ellipse cx="309" cy="92" rx="10" ry="7" fill="#ece6ee" />
<ellipse cx="483" cy="208" rx="5" ry="7" fill="#ece6ee" />
<ellipse cx="102" cy="245" rx="14" ry="12" fill="#ece6ee" />
<ellipse cx="202" cy="58" rx="10" ry="11" fill="#ece6ee" />
<ellipse cx="196" cy="326" rx="5" ry="5" fill="#ece6ee" />
<ellipse cx="314" cy="330" rx="6" ry="6" fill="#ece6ee" />
<ellipse cx="124" cy="42" rx="10" ry="10" fill="#ece6ee" />
<ellipse cx="365" cy="164" rx="8" ry="9" fill="#ece6ee" />
<ellipse cx="162" cy="117" rx="11" ry="7" fill="#ece6ee" />
<ellipse cx="32" cy="60" rx="9" ry="7" fill="#ece6ee" />
<ellipse cx="108" cy="225" rx="10" ry="10" fill="#ece6ee" />
<ellipse cx="46" cy="187" rx="14" ry="10" fill="#ece6ee" />
<ellipse cx="423" cy="243" rx="10" ry="13" fill="#ece6ee" />
<ellipse cx="419" cy="184" rx="4" ry="4" fill="#ece6ee" />
<ellipse cx="61" cy="72" rx="7" ry="10" fill="#ece6ee" />
<ellipse cx="369" cy="302" rx="12" ry="13" fill="#ece6ee" />
<ellipse cx="474" cy="236" rx="9" ry="9" fill="#ece6ee" />
<ellipse cx="48" cy="91" rx="7" ry="8" fill="#ece6ee" />
<ellipse cx="372" cy="49" rx="7" ry="7" fill="#ece6ee" />
<ellipse cx="73" cy="226" rx="8" ry="7" fill="#ece6ee" />
<ellipse cx="477" cy="346" rx="5" ry="5" fill="#ece6ee" />
<ellipse cx="158" cy="60" rx="7" ry="9" fill="#ece6ee" />
<ellipse cx="456" cy="152" rx="6" ry="7" fill="#ece6ee" />
<ellipse cx="394" cy="219" rx="6" ry="8" fill="#ece6ee" />
<ellipse cx="265" cy="37" rx="6" ry="8" fill="#ece6ee" />
<ellipse cx="52" cy="114" rx="5" ry="6" fill="#ece6ee" />
<ellipse cx="276" cy="153" rx="9" ry="10" fill="#ece6ee" />
<ellipse cx="405" cy="22" rx="9" ry="7" fill="#ece6ee" />
<ellipse cx="137" cy="178" rx="7" ry="5" fill="#ece6ee" />
<ellipse cx="121" cy="356" rx="7" ry="6" fill="#ece6ee" />
<ellipse cx="150" cy="349" rx="10" ry="7" fill="#ece6ee" />
<ellipse cx="205" cy="289" rx="8" ry="9" fill="#ece6ee" />
<ellipse cx="325" cy="239" rx="3" ry="5" fill="#ece6ee" />
<ellipse cx="215" cy="322" rx="13" ry="10" fill="#ece6ee" />
<ellipse cx="495" cy="281" rx="9" ry="13" fill="#ece6ee" />
<ellipse cx="219" cy="355" rx="10" ry="11" fill="#ece6ee" />
<ellipse cx="146" cy="182" rx="7" ry="5" fill="#ece6ee" />
<ellipse cx="98" cy="178" rx="4" ry="6" fill="#ece6ee" />
<ellipse cx="440" cy="88" rx="5" ry="5" fill="#ece6ee" />
<ellipse cx="303" cy="67" rx="7" ry="7" fill="#ece6ee" />
<ellipse cx="32" cy="84" rx="6" ry="9" fill="#ece6ee" />
<ellipse cx="195" cy="287" rx="5" ry="7" fill="#ece6ee" />
<ellipse cx="353" cy="51" rx="5" ry="5" fill="#ece6ee" />
<ellipse cx="193" cy="185" rx="11" ry="7" fill="#ece6ee" />
<ellipse cx="289" cy="111" rx="10" ry="7" fill="#ece6ee" />
<ellipse cx="247" cy="263" rx="5" ry="4" fill="#ece6ee" />
<ellipse cx="258" cy="231" rx="8" ry="10" fill="#ece6ee" />
<ellipse cx="35" cy="153" rx="5" ry="6" fill="#ece6ee" />
<ellipse cx="232" cy="246" rx="11" ry="12" fill="#ece6ee" />
<ellipse cx="358" cy="343" rx="15" ry="10" fill="#ece6ee" />
<ellipse cx="97" cy="342" rx="4" ry="5" fill="#ece6ee" />
<ellipse cx="270" cy="154" rx="10" ry="12" fill="#ece6ee" />
<ellipse cx="414" cy="68" rx="7" ry="7" fill="#ece6ee" />
<ellipse cx="116" cy="177" rx="3" ry="4" fill="#ece6ee" />
<ellipse cx="86" cy="354" rx="5" ry="7" fill="#ece6ee" />
<ellipse cx="371" cy="110" rx="11" ry="10" fill="#ece6ee" />
<ellipse cx="318" cy="105" rx="7" ry="6" fill="#ece6ee" />
<ellipse cx="446" cy="81" rx="4" ry="6" fill="#ece6ee" />
<ellipse cx="285" cy="23" rx="5" ry="4" fill="#ece6ee" />
<ellipse cx="410" cy="75" rx="25" ry="30" fill="#ece4ec" />
<ellipse cx="280" cy="270" rx="20" ry="22" fill="#ece4ec" />
<ellipse cx="330" cy="320" rx="22" ry="18" fill="#ece4ec" />
<ellipse cx="40" cy="220" rx="15" ry="15" fill="#ece4ec" />
</g>
<rect x="361.8" y="480.9" width="72.50" height="53.80" filter="url(#hnoise)" opacity="0.16"/>
<rect x="361.8" y="480.9" width="72.50" height="53.80" filter="url(#hnoise2)" opacity="0.16"/>
</g>
<clipPath id="hc32"><rect x="435.4" y="480.9" width="71.60" height="53.80"/></clipPath>
<g clip-path="url(#hc32)"><g transform="translate(432,478) scale(0.150000)" filter="url(#hblur)">
<rect x="0" y="0" width="520" height="387" fill="#d3c8c2"/>
<ellipse cx="396" cy="304" rx="7" ry="6" fill="#e0e4e6" />
<ellipse cx="334" cy="182" rx="10" ry="12" fill="#e0e4e6" />
<ellipse cx="147" cy="297" rx="10" ry="10" fill="#e0e4e6" />
<ellipse cx="343" cy="87" rx="11" ry="8" fill="#e0e4e6" />
<ellipse cx="401" cy="257" rx="10" ry="8" fill="#e0e4e6" />
<ellipse cx="400" cy="298" rx="6" ry="7" fill="#e0e4e6" />
<ellipse cx="320" cy="120" rx="12" ry="10" fill="#e0e4e6" />
<ellipse cx="330" cy="144" rx="14" ry="12" fill="#e0e4e6" />
<ellipse cx="325" cy="261" rx="14" ry="8" fill="#e0e4e6" />
<ellipse cx="190" cy="228" rx="8" ry="5" fill="#e0e4e6" />
<ellipse cx="438" cy="201" rx="6" ry="5" fill="#e0e4e6" />
<ellipse cx="111" cy="187" rx="5" ry="7" fill="#e0e4e6" />
<ellipse cx="351" cy="24" rx="7" ry="9" fill="#e0e4e6" />
<ellipse cx="449" cy="234" rx="7" ry="7" fill="#e0e4e6" />
<ellipse cx="78" cy="365" rx="5" ry="6" fill="#e0e4e6" />
<ellipse cx="207" cy="358" rx="9" ry="8" fill="#e0e4e6" />
<ellipse cx="337" cy="327" rx="10" ry="10" fill="#e0e4e6" />
<ellipse cx="264" cy="182" rx="9" ry="7" fill="#e0e4e6" />
<ellipse cx="374" cy="112" rx="10" ry="7" fill="#e0e4e6" />
<ellipse cx="27" cy="63" rx="8" ry="8" fill="#e0e4e6" />
<ellipse cx="233" cy="340" rx="6" ry="8" fill="#e0e4e6" />
<ellipse cx="310" cy="112" rx="8" ry="7" fill="#e0e4e6" />
<ellipse cx="197" cy="125" rx="10" ry="12" fill="#e0e4e6" />
<ellipse cx="481" cy="338" rx="8" ry="7" fill="#e0e4e6" />
<ellipse cx="207" cy="188" rx="13" ry="9" fill="#e0e4e6" />
<ellipse cx="20" cy="175" rx="4" ry="6" fill="#e0e4e6" />
<ellipse cx="71" cy="268" rx="10" ry="9" fill="#e0e4e6" />
<ellipse cx="47" cy="86" rx="12" ry="11" fill="#e0e4e6" />
<ellipse cx="391" cy="301" rx="8" ry="6" fill="#e0e4e6" />
<ellipse cx="190" cy="70" rx="10" ry="7" fill="#e0e4e6" />
<ellipse cx="317" cy="54" rx="6" ry="6" fill="#e0e4e6" />
<ellipse cx="447" cy="237" rx="8" ry="12" fill="#e0e4e6" />
<ellipse cx="57" cy="233" rx="14" ry="14" fill="#e0e4e6" />
<ellipse cx="233" cy="259" rx="8" ry="13" fill="#e0e4e6" />
<ellipse cx="451" cy="172" rx="10" ry="9" fill="#e0e4e6" />
<ellipse cx="358" cy="42" rx="14" ry="9" fill="#e0e4e6" />
<ellipse cx="466" cy="49" rx="10" ry="14" fill="#e0e4e6" />
<ellipse cx="223" cy="338" rx="4" ry="6" fill="#e0e4e6" />
<ellipse cx="322" cy="205" rx="4" ry="5" fill="#e0e4e6" />
<ellipse cx="42" cy="363" rx="13" ry="12" fill="#e0e4e6" />
<ellipse cx="181" cy="47" rx="8" ry="10" fill="#e0e4e6" />
<ellipse cx="239" cy="191" rx="4" ry="6" fill="#e0e4e6" />
<ellipse cx="32" cy="201" rx="5" ry="5" fill="#e0e4e6" />
<ellipse cx="289" cy="154" rx="5" ry="7" fill="#e0e4e6" />
<ellipse cx="452" cy="165" rx="5" ry="5" fill="#e0e4e6" />
<ellipse cx="291" cy="291" rx="7" ry="8" fill="#e0e4e6" />
<ellipse cx="199" cy="172" rx="10" ry="8" fill="#e0e4e6" />
<ellipse cx="333" cy="267" rx="11" ry="9" fill="#e0e4e6" />
<ellipse cx="336" cy="356" rx="7" ry="6" fill="#e0e4e6" />
<ellipse cx="46" cy="34" rx="8" ry="12" fill="#e0e4e6" />
<ellipse cx="65" cy="147" rx="5" ry="6" fill="#e0e4e6" />
<ellipse cx="125" cy="215" rx="10" ry="11" fill="#e0e4e6" />
<ellipse cx="363" cy="318" rx="7" ry="5" fill="#e0e4e6" />
<ellipse cx="71" cy="359" rx="7" ry="6" fill="#e0e4e6" />
<ellipse cx="340" cy="272" rx="8" ry="9" fill="#e0e4e6" />
<ellipse cx="114" cy="316" rx="12" ry="9" fill="#e0e4e6" />
<ellipse cx="300" cy="108" rx="12" ry="14" fill="#e0e4e6" />
<ellipse cx="356" cy="256" rx="8" ry="11" fill="#e0e4e6" />
<ellipse cx="33" cy="147" rx="7" ry="4" fill="#e0e4e6" />
<ellipse cx="457" cy="347" rx="10" ry="6" fill="#e0e4e6" />
<ellipse cx="84" cy="23" rx="4" ry="7" fill="#e0e4e6" />
<ellipse cx="59" cy="224" rx="5" ry="7" fill="#e0e4e6" />
<ellipse cx="104" cy="357" rx="8" ry="8" fill="#e0e4e6" />
<ellipse cx="317" cy="186" rx="5" ry="8" fill="#e0e4e6" />
<ellipse cx="109" cy="175" rx="11" ry="14" fill="#e0e4e6" />
<ellipse cx="404" cy="197" rx="6" ry="6" fill="#e0e4e6" />
<ellipse cx="429" cy="203" rx="12" ry="10" fill="#e0e4e6" />
<ellipse cx="419" cy="330" rx="8" ry="7" fill="#e0e4e6" />
<ellipse cx="426" cy="137" rx="5" ry="6" fill="#e0e4e6" />
<ellipse cx="426" cy="145" rx="4" ry="4" fill="#e0e4e6" />
<ellipse cx="315" cy="285" rx="9" ry="11" fill="#e0e4e6" />
<ellipse cx="77" cy="334" rx="11" ry="14" fill="#e0e4e6" />
<ellipse cx="266" cy="288" rx="8" ry="11" fill="#e0e4e6" />
<ellipse cx="419" cy="224" rx="12" ry="13" fill="#e0e4e6" />
<ellipse cx="49" cy="65" rx="6" ry="7" fill="#e0e4e6" />
<ellipse cx="91" cy="194" rx="6" ry="7" fill="#e0e4e6" />
<ellipse cx="58" cy="358" rx="7" ry="9" fill="#e0e4e6" />
<ellipse cx="93" cy="271" rx="9" ry="9" fill="#e0e4e6" />
<ellipse cx="318" cy="317" rx="10" ry="8" fill="#e0e4e6" />
<ellipse cx="311" cy="177" rx="11" ry="12" fill="#e0e4e6" />
<ellipse cx="481" cy="236" rx="10" ry="8" fill="#e0e4e6" />
<ellipse cx="439" cy="30" rx="12" ry="9" fill="#e0e4e6" />
<ellipse cx="148" cy="269" rx="8" ry="6" fill="#e0e4e6" />
<ellipse cx="416" cy="149" rx="9" ry="12" fill="#e0e4e6" />
<ellipse cx="241" cy="160" rx="5" ry="6" fill="#e0e4e6" />
<ellipse cx="67" cy="174" rx="7" ry="7" fill="#e0e4e6" />
<ellipse cx="341" cy="186" rx="4" ry="6" fill="#e0e4e6" />
<ellipse cx="397" cy="361" rx="11" ry="9" fill="#e0e4e6" />
<ellipse cx="276" cy="139" rx="11" ry="9" fill="#e0e4e6" />
<ellipse cx="486" cy="268" rx="6" ry="6" fill="#e0e4e6" />
<polygon points="17,20 80,20 75,200 17,220" fill="#e4ecee" />
<ellipse cx="172" cy="72" rx="8" ry="11" fill="#ccb0a0" />
<ellipse cx="192" cy="40" rx="7" ry="10" fill="#ccb0a0" />
<ellipse cx="50" cy="51" rx="11" ry="7" fill="#ccb0a0" />
<ellipse cx="124" cy="236" rx="14" ry="13" fill="#ccb0a0" />
<ellipse cx="484" cy="36" rx="11" ry="10" fill="#ccb0a0" />
<ellipse cx="73" cy="126" rx="10" ry="13" fill="#ccb0a0" />
<ellipse cx="322" cy="148" rx="8" ry="8" fill="#ccb0a0" />
<ellipse cx="115" cy="255" rx="8" ry="10" fill="#ccb0a0" />
<ellipse cx="234" cy="123" rx="14" ry="10" fill="#ccb0a0" />
<ellipse cx="292" cy="201" rx="15" ry="11" fill="#ccb0a0" />
<ellipse cx="486" cy="61" rx="11" ry="7" fill="#ccb0a0" />
<ellipse cx="251" cy="34" rx="13" ry="12" fill="#ccb0a0" />
<ellipse cx="435" cy="128" rx="12" ry="12" fill="#ccb0a0" />
<ellipse cx="235" cy="310" rx="13" ry="15" fill="#ccb0a0" />
<ellipse cx="46" cy="262" rx="14" ry="13" fill="#ccb0a0" />
<ellipse cx="153" cy="153" rx="8" ry="11" fill="#ccb0a0" />
<ellipse cx="97" cy="60" rx="8" ry="5" fill="#ccb0a0" />
<ellipse cx="135" cy="155" rx="10" ry="13" fill="#ccb0a0" />
<ellipse cx="280" cy="325" rx="15" ry="11" fill="#ccb0a0" />
<ellipse cx="216" cy="144" rx="17" ry="10" fill="#ccb0a0" />
<ellipse cx="101" cy="100" rx="8" ry="8" fill="#ccb0a0" />
<ellipse cx="143" cy="21" rx="9" ry="10" fill="#ccb0a0" />
<ellipse cx="473" cy="258" rx="11" ry="11" fill="#ccb0a0" />
<ellipse cx="43" cy="330" rx="15" ry="14" fill="#ccb0a0" />
<ellipse cx="205" cy="158" rx="7" ry="5" fill="#ccb0a0" />
</g>
<rect x="435.4" y="480.9" width="71.60" height="53.80" filter="url(#hnoise)" opacity="0.16"/>
<rect x="435.4" y="480.9" width="71.60" height="53.80" filter="url(#hnoise2)" opacity="0.16"/>
</g>
<clipPath id="hc40"><rect x="288.5" y="535.7" width="72.10" height="52.60"/></clipPath>
<g clip-path="url(#hc40)"><g transform="translate(286,532) scale(0.150000)" filter="url(#hblur)">
<rect x="0" y="0" width="520" height="387" fill="#e6eaea"/>
<path d="M30,40 L100,25 L495,25 L495,320 L440,310 L380,300 L300,290 L230,262 L150,222 L100,180 L60,130 L30,90 Z" fill="#bf8480" />
<polygon points="290,140 480,200 480,235 300,175" fill="#dde2e4" />
<polygon points="17,100 60,130 100,240 80,260 30,180" fill="#c7b8bc" />
</g>
<rect x="288.5" y="535.7" width="72.10" height="52.60" filter="url(#hnoise)" opacity="0.16"/>
<rect x="288.5" y="535.7" width="72.10" height="52.60" filter="url(#hnoise2)" opacity="0.16"/>
</g>
<clipPath id="hc41"><rect x="361.8" y="535.7" width="72.50" height="52.60"/></clipPath>
<g clip-path="url(#hc41)"><g transform="translate(360,532) scale(0.150000)" filter="url(#hblur)">
<rect x="0" y="0" width="520" height="387" fill="#eaeaee"/>
<path d="M90,60 L130,40 L200,80 L300,150 L400,230 L490,300 L480,345 L380,330 L250,345 L160,360 L120,280 L80,180 Z" fill="#e0d8e6" stroke="#b07078" stroke-width="10"/>
<ellipse cx="110" cy="125" rx="15" ry="15" fill="#a05060" />
<ellipse cx="370" cy="345" rx="15" ry="10" fill="#8a5060" />
</g>
<rect x="361.8" y="535.7" width="72.50" height="52.60" filter="url(#hnoise)" opacity="0.16"/>
<rect x="361.8" y="535.7" width="72.50" height="52.60" filter="url(#hnoise2)" opacity="0.16"/>
</g>
<clipPath id="hc42"><rect x="435.4" y="535.7" width="71.60" height="52.60"/></clipPath>
<g clip-path="url(#hc42)"><g transform="translate(432,532) scale(0.150000)" filter="url(#hblur)">
<rect x="0" y="0" width="520" height="387" fill="#dde6ea"/>
<path d="M110,330 C110,260 130,200 170,150 C210,90 250,50 310,30 L495,30 L495,330 C460,355 400,360 300,360 L180,360 C130,360 110,350 110,330 Z" fill="#cfb6a2" />
<path d="M130,300 C140,220 180,160 230,90 L300,40 C250,120 200,200 170,300 Z" fill="#c69a7c" />
<path d="M17,20 L100,20 L85,60 L40,110 L17,120 Z" fill="#c6a890" opacity="0.85"/>
<ellipse cx="400" cy="150" rx="70" ry="80" fill="#d6c4b6" />
</g>
<rect x="435.4" y="535.7" width="71.60" height="52.60" filter="url(#hnoise)" opacity="0.16"/>
<rect x="435.4" y="535.7" width="71.60" height="52.60" filter="url(#hnoise2)" opacity="0.16"/>
</g>
<text transform="translate(282.60,347.00) rotate(-90)" x="0" y="2.27" font-size="6.3" text-anchor="middle" fill="#231f20" stroke="#231f20" >Liver</text>
<text transform="translate(282.60,400.00) rotate(-90)" x="0" y="2.27" font-size="6.3" text-anchor="middle" fill="#231f20" stroke="#231f20" >Skin</text>
<text transform="translate(282.60,453.70) rotate(-90)" x="0" y="2.27" font-size="6.3" text-anchor="middle" fill="#231f20" stroke="#231f20" >Colon</text>
<text transform="translate(282.60,507.70) rotate(-90)" x="0" y="2.27" font-size="6.3" text-anchor="middle" fill="#231f20" stroke="#231f20" >Lung</text>
<text transform="translate(282.60,562.00) rotate(-90)" x="0" y="2.27" font-size="6.3" text-anchor="middle" fill="#231f20" stroke="#231f20" >Ear</text>
<rect x="0.5" y="0.5" width="519" height="682" fill="none" stroke="#555" stroke-width="1"/>
</svg>
</body></html>
